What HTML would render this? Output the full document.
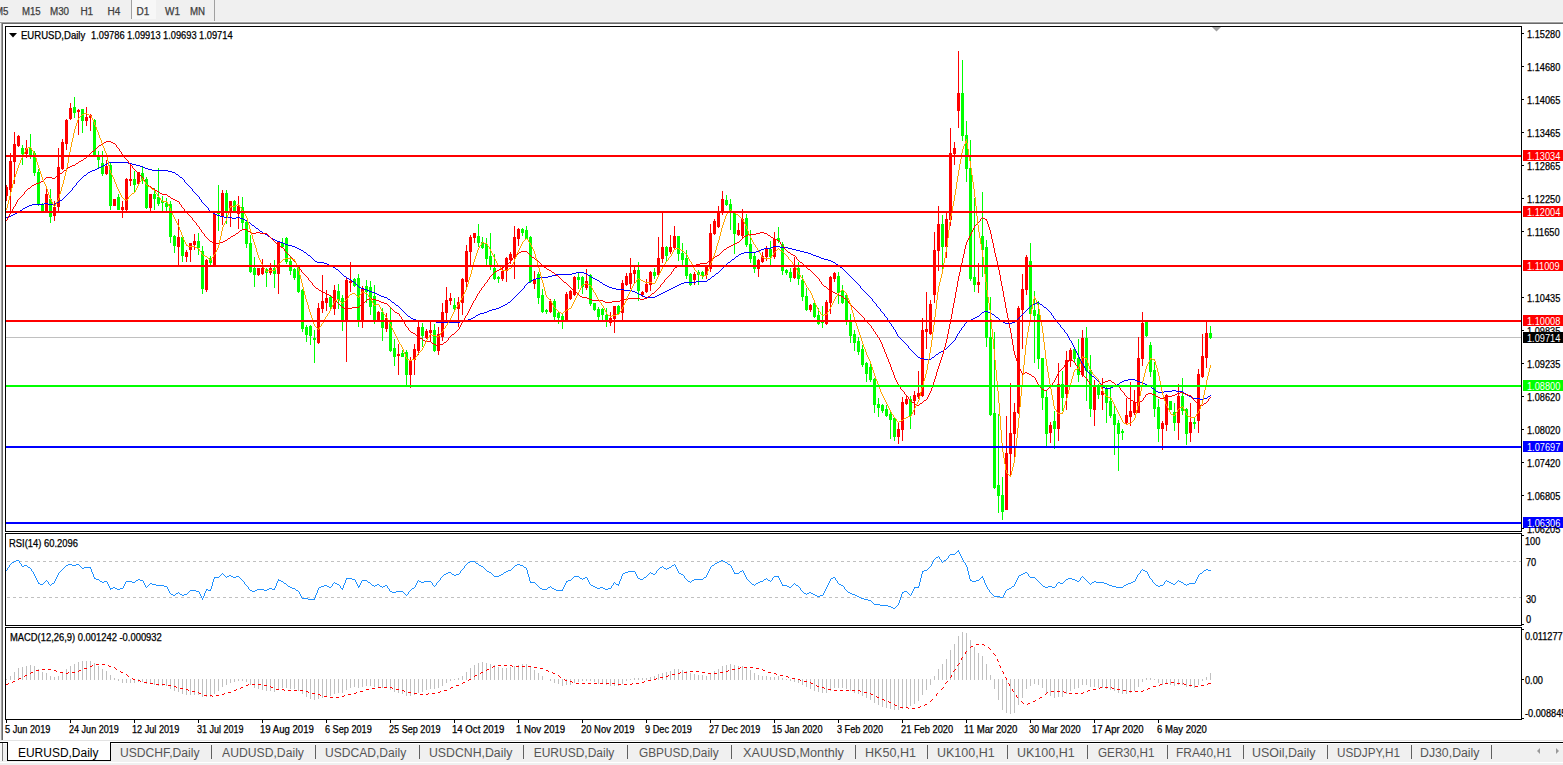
<!DOCTYPE html>
<html><head><meta charset="utf-8"><style>
html,body{margin:0;padding:0;}
body{width:1563px;height:765px;position:relative;overflow:hidden;background:#f0f0f0;font-family:"Liberation Sans",sans-serif;}
.t{position:absolute;white-space:nowrap;line-height:1;transform-origin:0 0;}
.s{-webkit-text-stroke:0.25px currentColor;}
.abs{position:absolute;}
</style></head><body>
<div class="abs" style="left:0;top:0;width:1563px;height:21px;background:#f0f0f0"></div>
<div class="abs" style="left:0;top:21px;width:1563px;height:1px;background:#f8f8f8"></div>
<div class="abs" style="left:131px;top:0;width:1px;height:19px;background:#a0a0a0"></div>
<div class="abs" style="left:132px;top:0;width:24px;height:19px;background:#f7f7f7"></div>
<div class="abs" style="left:214px;top:0;width:1px;height:21px;background:#a0a0a0"></div>
<div class="abs" style="left:0;top:22px;width:1563px;height:1px;background:#a0a0a0"></div>
<div class="abs" style="left:1px;top:23px;width:1563px;height:1px;background:#696969"></div>
<div class="abs" style="left:1px;top:22px;width:1px;height:718px;background:#a0a0a0"></div>
<div class="abs" style="left:2px;top:23px;width:1px;height:717px;background:#696969"></div>
<div class="abs" style="left:3px;top:24px;width:1560px;height:716px;background:#fff"></div>
<div class="abs" style="left:0;top:740px;width:1563px;height:1px;background:#e3e3e3"></div>
<div class="abs" style="left:0;top:741px;width:1563px;height:1px;background:#fff"></div>
<div class="abs" style="left:0;top:742px;width:1563px;height:1px;background:#000"></div>
<div class="abs" style="left:0;top:743px;width:1563px;height:1px;background:#fff"></div>
<div class="abs" style="left:0;top:744px;width:1563px;height:18px;background:#f0f0f0"></div>
<div class="abs" style="left:0;top:762px;width:1563px;height:1px;background:#fff"></div>
<div class="abs" style="left:7px;top:742px;width:104px;height:19px;background:#fff;border-left:1px solid #000;border-right:1px solid #000;border-bottom:1px solid #000;box-sizing:border-box"></div>
<div class="abs" style="left:2px;top:743px;width:1px;height:18px;background:#808080"></div>
<div class="abs" style="left:1px;top:742px;width:6px;height:1px;background:#000"></div>
<div class="abs" style="left:0px;top:743px;width:2px;height:18px;background:#f8f8f8"></div>
<div class="abs" style="left:211px;top:745px;width:1px;height:14px;background:#606060"></div><div class="abs" style="left:315px;top:745px;width:1px;height:14px;background:#606060"></div><div class="abs" style="left:419px;top:745px;width:1px;height:14px;background:#606060"></div><div class="abs" style="left:523px;top:745px;width:1px;height:14px;background:#606060"></div><div class="abs" style="left:627px;top:745px;width:1px;height:14px;background:#606060"></div><div class="abs" style="left:731px;top:745px;width:1px;height:14px;background:#606060"></div><div class="abs" style="left:855px;top:745px;width:1px;height:14px;background:#606060"></div><div class="abs" style="left:927px;top:745px;width:1px;height:14px;background:#606060"></div><div class="abs" style="left:1007px;top:745px;width:1px;height:14px;background:#606060"></div><div class="abs" style="left:1087px;top:745px;width:1px;height:14px;background:#606060"></div><div class="abs" style="left:1167px;top:745px;width:1px;height:14px;background:#606060"></div><div class="abs" style="left:1243px;top:745px;width:1px;height:14px;background:#606060"></div><div class="abs" style="left:1327px;top:745px;width:1px;height:14px;background:#606060"></div><div class="abs" style="left:1411px;top:745px;width:1px;height:14px;background:#606060"></div><div class="abs" style="left:1491px;top:745px;width:1px;height:14px;background:#606060"></div>
<div class="abs" style="left:1537px;top:748px;width:0;height:0;border-top:3px solid transparent;border-bottom:3px solid transparent;border-right:3px solid #999"></div>
<div class="abs" style="left:1556px;top:748px;width:0;height:0;border-top:3px solid transparent;border-bottom:3px solid transparent;border-left:3px solid #999"></div>
<svg class="abs" style="left:0;top:0" width="1563" height="765" viewBox="0 0 1563 765">
<defs><clipPath id="cm"><rect x="6" y="27" width="1515" height="504"/></clipPath><clipPath id="cr"><rect x="6" y="534" width="1515" height="91"/></clipPath><clipPath id="cd"><rect x="6" y="628" width="1515" height="91"/></clipPath></defs>
<rect x="6" y="337" width="1515" height="1" fill="#c0c0c0" shape-rendering="crispEdges"/>
<g clip-path="url(#cm)" shape-rendering="crispEdges">
<path d="M22,145h1v20h-1z M21,148h3v6h-3z M30,134h1v25h-1z M29,148h3v7h-3z M34,151h1v25h-1z M33,153h3v20h-3z M38,169h1v37h-1z M37,172h3v33h-3z M42,203h1v9h-1z M41,204h3v7h-3z M50,189h1v34h-1z M49,199h3v18h-3z M74,97h1v21h-1z M73,107h3v6h-3z M82,109h1v24h-1z M81,109h3v12h-3z M94,119h1v37h-1z M93,120h3v36h-3z M98,151h1v18h-1z M97,155h3v5h-3z M102,151h1v25h-1z M101,163h3v11h-3z M110,163h1v47h-1z M109,165h3v41h-3z M118,194h1v16h-1z M117,197h3v13h-3z M134,171h1v21h-1z M133,179h3v6h-3z M142,166h1v18h-1z M141,173h3v6h-3z M146,177h1v32h-1z M145,179h3v29h-3z M154,188h1v22h-1z M153,194h3v5h-3z M158,168h1v38h-1z M157,197h3v7h-3z M162,196h1v15h-1z M161,201h3v2h-3z M166,198h1v13h-1z M165,203h3v4h-3z M170,201h1v42h-1z M169,204h3v33h-3z M174,235h1v18h-1z M173,236h3v10h-3z M182,237h1v25h-1z M181,237h3v19h-3z M198,233h1v22h-1z M197,241h3v7h-3z M202,246h1v48h-1z M201,251h3v38h-3z M210,256h1v9h-1z M209,258h3v5h-3z M218,185h1v46h-1z M217,211h3v3h-3z M226,190h1v34h-1z M225,193h3v19h-3z M234,200h1v11h-1z M233,201h3v10h-3z M242,197h1v33h-1z M241,207h3v16h-3z M246,221h1v27h-1z M245,222h3v22h-3z M250,235h1v38h-1z M249,243h3v29h-3z M254,257h1v30h-1z M253,268h3v7h-3z M266,268h1v19h-1z M265,269h3v4h-3z M274,260h1v28h-1z M273,268h3v6h-3z M282,238h1v10h-1z M281,243h3v4h-3z M286,237h1v27h-1z M285,238h3v24h-3z M290,256h1v19h-1z M289,261h3v10h-3z M294,268h1v12h-1z M293,269h3v9h-3z M298,267h1v26h-1z M297,268h3v24h-3z M302,289h1v43h-1z M301,290h3v39h-3z M306,325h1v17h-1z M305,327h3v8h-3z M310,325h1v20h-1z M309,326h3v10h-3z M314,330h1v33h-1z M313,338h3v2h-3z M330,295h1v14h-1z M329,297h3v10h-3z M338,284h1v25h-1z M337,291h3v9h-3z M342,295h1v36h-1z M341,298h3v23h-3z M354,278h1v9h-1z M353,279h3v7h-3z M358,274h1v53h-1z M357,278h3v42h-3z M366,280h1v23h-1z M365,286h3v6h-3z M370,281h1v34h-1z M369,287h3v20h-3z M374,285h1v39h-1z M373,296h3v25h-3z M382,308h1v33h-1z M381,312h3v16h-3z M390,308h1v44h-1z M389,321h3v30h-3z M394,339h1v27h-1z M393,348h3v9h-3z M402,350h1v7h-1z M401,353h3v4h-3z M406,350h1v36h-1z M405,352h3v23h-3z M422,323h1v24h-1z M421,327h3v9h-3z M434,324h1v28h-1z M433,330h3v21h-3z M454,298h1v13h-1z M453,305h3v4h-3z M478,224h1v23h-1z M477,236h3v7h-3z M482,237h1v12h-1z M481,242h3v6h-3z M486,238h1v27h-1z M485,244h3v15h-3z M490,233h1v37h-1z M489,256h3v10h-3z M494,254h1v26h-1z M493,268h3v11h-3z M498,276h1v7h-1z M497,277h3v2h-3z M522,228h1v8h-1z M521,229h3v4h-3z M526,226h1v13h-1z M525,230h3v9h-3z M530,236h1v47h-1z M529,237h3v45h-3z M538,272h1v32h-1z M537,274h3v24h-3z M542,289h1v24h-1z M541,295h3v17h-3z M546,309h1v5h-1z M545,310h3v2h-3z M554,299h1v21h-1z M553,301h3v16h-3z M558,312h1v12h-1z M557,313h3v5h-3z M562,314h1v15h-1z M561,316h3v5h-3z M578,273h1v16h-1z M577,277h3v3h-3z M582,276h1v18h-1z M581,277h3v10h-3z M590,274h1v32h-1z M589,275h3v29h-3z M594,303h1v8h-1z M593,303h3v7h-3z M598,307h1v14h-1z M597,309h3v8h-3z M602,308h1v13h-1z M601,309h3v6h-3z M606,308h1v19h-1z M605,315h3v7h-3z M618,305h1v10h-1z M617,306h3v8h-3z M638,262h1v39h-1z M637,270h3v21h-3z M654,268h1v11h-1z M653,272h3v4h-3z M666,246h1v15h-1z M665,247h3v9h-3z M678,236h1v25h-1z M677,236h3v18h-3z M682,243h1v22h-1z M681,253h3v7h-3z M686,250h1v29h-1z M685,258h3v18h-3z M690,273h1v13h-1z M689,274h3v11h-3z M698,270h1v15h-1z M697,272h3v3h-3z M702,271h1v8h-1z M701,272h3v4h-3z M726,195h1v11h-1z M725,200h3v5h-3z M730,199h1v31h-1z M729,204h3v8h-3z M734,212h1v42h-1z M733,213h3v21h-3z M746,214h1v33h-1z M745,218h3v27h-3z M750,230h1v33h-1z M749,244h3v15h-3z M754,253h1v20h-1z M753,256h3v13h-3z M770,241h1v24h-1z M769,249h3v8h-3z M778,227h1v16h-1z M777,238h3v3h-3z M782,242h1v33h-1z M781,244h3v27h-3z M786,269h1v6h-1z M785,270h3v3h-3z M790,268h1v14h-1z M789,272h3v6h-3z M798,262h1v23h-1z M797,268h3v11h-3z M802,275h1v26h-1z M801,280h3v17h-3z M806,288h1v23h-1z M805,296h3v14h-3z M814,300h1v18h-1z M813,303h3v14h-3z M818,308h1v17h-1z M817,315h3v9h-3z M822,306h1v22h-1z M821,320h3v3h-3z M838,272h1v32h-1z M837,276h3v17h-3z M842,285h1v19h-1z M841,291h3v12h-3z M846,294h1v31h-1z M845,295h3v26h-3z M850,314h1v29h-1z M849,320h3v16h-3z M854,330h1v21h-1z M853,334h3v9h-3z M858,337h1v18h-1z M857,341h3v11h-3z M862,345h1v22h-1z M861,349h3v16h-3z M866,362h1v20h-1z M865,363h3v11h-3z M870,362h1v20h-1z M869,367h3v13h-3z M874,378h1v35h-1z M873,379h3v26h-3z M878,398h1v19h-1z M877,404h3v4h-3z M882,404h1v9h-1z M881,405h3v6h-3z M886,405h1v12h-1z M885,409h3v7h-3z M890,410h1v29h-1z M889,414h3v6h-3z M894,417h1v24h-1z M893,418h3v19h-3z M910,396h1v33h-1z M909,399h3v17h-3z M942,215h1v54h-1z M941,224h3v23h-3z M962,60h1v81h-1z M961,93h3v43h-3z M966,121h1v61h-1z M965,135h3v34h-3z M970,140h1v141h-1z M969,168h3v111h-3z M974,198h1v94h-1z M973,277h3v8h-3z M982,192h1v85h-1z M981,236h3v14h-3z M986,240h1v107h-1z M985,247h3v91h-3z M990,297h1v119h-1z M989,337h3v78h-3z M994,332h1v157h-1z M993,413h3v75h-3z M998,414h1v99h-1z M997,485h3v11h-3z M1002,477h1v43h-1z M1001,495h3v17h-3z M1030,243h1v72h-1z M1029,261h3v53h-3z M1034,291h1v72h-1z M1033,310h3v6h-3z M1038,301h1v68h-1z M1037,314h3v45h-3z M1042,358h1v52h-1z M1041,358h3v40h-3z M1046,391h1v55h-1z M1045,397h3v37h-3z M1054,411h1v38h-1z M1053,421h3v8h-3z M1062,371h1v40h-1z M1061,384h3v14h-3z M1074,348h1v14h-1z M1073,349h3v10h-3z M1078,339h1v43h-1z M1077,358h3v17h-3z M1086,327h1v74h-1z M1085,338h3v33h-3z M1090,355h1v62h-1z M1089,370h3v39h-3z M1098,384h1v15h-1z M1097,386h3v9h-3z M1106,386h1v37h-1z M1105,389h3v14h-3z M1110,386h1v32h-1z M1109,401h3v15h-3z M1114,405h1v50h-1z M1113,414h3v11h-3z M1118,420h1v51h-1z M1117,423h3v11h-3z M1122,429h1v11h-1z M1121,431h3v2h-3z M1146,322h1v15h-1z M1145,322h3v14h-3z M1150,342h1v35h-1z M1149,345h3v27h-3z M1154,362h1v55h-1z M1153,370h3v39h-3z M1158,399h1v43h-1z M1157,407h3v22h-3z M1170,401h1v9h-1z M1169,401h3v9h-3z M1174,403h1v28h-1z M1173,412h3v11h-3z M1182,378h1v37h-1z M1181,396h3v15h-3z M1186,408h1v37h-1z M1185,409h3v25h-3z M1194,418h1v11h-1z M1193,422h3v2h-3z M1210,326h1v13h-1z M1209,333h3v5h-3z" fill="#00ff00"/>
<path d="M6,185h1v16h-1z M5,187h3v9h-3z M10,153h1v59h-1z M9,161h3v29h-3z M14,132h1v52h-1z M13,144h3v18h-3z M18,135h1v12h-1z M17,136h3v10h-3z M26,140h1v18h-1z M25,148h3v6h-3z M46,188h1v24h-1z M45,194h3v17h-3z M54,201h1v20h-1z M53,207h3v9h-3z M58,148h1v64h-1z M57,167h3v40h-3z M62,139h1v31h-1z M61,142h3v27h-3z M66,119h1v31h-1z M65,120h3v24h-3z M70,103h1v17h-1z M69,108h3v11h-3z M78,109h1v26h-1z M77,110h3v2h-3z M86,107h1v19h-1z M85,117h3v4h-3z M90,114h1v17h-1z M89,115h3v3h-3z M106,160h1v15h-1z M105,166h3v8h-3z M114,199h1v7h-1z M113,199h3v7h-3z M122,201h1v17h-1z M121,207h3v3h-3z M126,178h1v34h-1z M125,179h3v31h-3z M130,164h1v22h-1z M129,179h3v2h-3z M138,172h1v13h-1z M137,172h3v12h-3z M150,194h1v18h-1z M149,194h3v14h-3z M178,219h1v47h-1z M177,237h3v10h-3z M186,250h1v12h-1z M185,252h3v5h-3z M190,243h1v19h-1z M189,243h3v7h-3z M194,234h1v16h-1z M193,241h3v4h-3z M206,259h1v33h-1z M205,260h3v30h-3z M214,213h1v53h-1z M213,214h3v52h-3z M222,190h1v35h-1z M221,193h3v23h-3z M230,201h1v26h-1z M229,201h3v10h-3z M238,196h1v33h-1z M237,206h3v8h-3z M258,268h1v8h-1z M257,268h3v7h-3z M262,259h1v16h-1z M261,268h3v6h-3z M270,263h1v12h-1z M269,268h3v5h-3z M278,241h1v53h-1z M277,241h3v33h-3z M318,303h1v41h-1z M317,308h3v35h-3z M322,275h1v38h-1z M321,301h3v8h-3z M326,290h1v21h-1z M325,298h3v5h-3z M334,285h1v30h-1z M333,290h3v19h-3z M346,278h1v84h-1z M345,280h3v41h-3z M350,262h1v30h-1z M349,281h3v2h-3z M362,286h1v42h-1z M361,289h3v31h-3z M378,311h1v11h-1z M377,312h3v10h-3z M386,313h1v19h-1z M385,318h3v11h-3z M398,344h1v31h-1z M397,354h3v2h-3z M410,357h1v31h-1z M409,360h3v15h-3z M414,344h1v31h-1z M413,349h3v11h-3z M418,322h1v33h-1z M417,327h3v24h-3z M426,329h1v10h-1z M425,331h3v7h-3z M430,322h1v20h-1z M429,330h3v3h-3z M438,327h1v28h-1z M437,334h3v17h-3z M442,303h1v38h-1z M441,312h3v25h-3z M446,287h1v34h-1z M445,300h3v13h-3z M450,293h1v12h-1z M449,298h3v3h-3z M458,297h1v30h-1z M457,302h3v7h-3z M462,278h1v37h-1z M461,279h3v24h-3z M466,245h1v43h-1z M465,251h3v31h-3z M470,235h1v31h-1z M469,237h3v15h-3z M474,233h1v10h-1z M473,233h3v5h-3z M502,267h1v14h-1z M501,271h3v8h-3z M506,257h1v25h-1z M505,258h3v13h-3z M510,252h1v12h-1z M509,254h3v6h-3z M514,226h1v53h-1z M513,237h3v21h-3z M518,228h1v18h-1z M517,229h3v10h-3z M534,271h1v18h-1z M533,280h3v4h-3z M550,299h1v14h-1z M549,301h3v11h-3z M566,292h1v30h-1z M565,294h3v27h-3z M570,290h1v10h-1z M569,291h3v8h-3z M574,276h1v20h-1z M573,277h3v18h-3z M586,269h1v21h-1z M585,281h3v7h-3z M610,312h1v14h-1z M609,318h3v5h-3z M614,306h1v27h-1z M613,306h3v13h-3z M622,280h1v41h-1z M621,283h3v30h-3z M626,273h1v13h-1z M625,276h3v9h-3z M630,258h1v31h-1z M629,273h3v11h-3z M634,266h1v17h-1z M633,270h3v4h-3z M642,291h1v6h-1z M641,292h3v3h-3z M646,279h1v14h-1z M645,284h3v8h-3z M650,271h1v20h-1z M649,272h3v13h-3z M658,237h1v39h-1z M657,258h3v17h-3z M662,212h1v51h-1z M661,247h3v12h-3z M670,235h1v19h-1z M669,247h3v5h-3z M674,226h1v24h-1z M673,236h3v12h-3z M694,272h1v13h-1z M693,274h3v6h-3z M706,265h1v14h-1z M705,266h3v9h-3z M710,224h1v48h-1z M709,233h3v36h-3z M714,219h1v16h-1z M713,221h3v13h-3z M718,206h1v22h-1z M717,212h3v15h-3z M722,191h1v24h-1z M721,199h3v14h-3z M738,223h1v13h-1z M737,230h3v5h-3z M742,209h1v29h-1z M741,219h3v17h-3z M758,259h1v18h-1z M757,260h3v9h-3z M762,252h1v11h-1z M761,256h3v6h-3z M766,246h1v15h-1z M765,248h3v9h-3z M774,232h1v27h-1z M773,239h3v18h-3z M794,257h1v22h-1z M793,268h3v10h-3z M810,304h1v8h-1z M809,305h3v5h-3z M826,300h1v25h-1z M825,302h3v22h-3z M830,276h1v38h-1z M829,277h3v26h-3z M834,272h1v10h-1z M833,273h3v6h-3z M898,422h1v22h-1z M897,429h3v8h-3z M902,397h1v44h-1z M901,402h3v28h-3z M906,396h1v9h-1z M905,399h3v5h-3z M914,391h1v24h-1z M913,395h3v6h-3z M918,371h1v28h-1z M917,393h3v4h-3z M922,318h1v79h-1z M921,330h3v66h-3z M926,292h1v57h-1z M925,329h3v3h-3z M930,300h1v35h-1z M929,304h3v30h-3z M934,232h1v71h-1z M933,250h3v45h-3z M938,206h1v65h-1z M937,224h3v27h-3z M946,213h1v45h-1z M945,219h3v28h-3z M950,128h1v98h-1z M949,153h3v67h-3z M954,142h1v23h-1z M953,148h3v6h-3z M958,51h1v77h-1z M957,93h3v18h-3z M978,263h1v30h-1z M977,282h3v3h-3z M1006,416h1v94h-1z M1005,453h3v57h-3z M1010,383h1v93h-1z M1009,433h3v21h-3z M1014,403h1v55h-1z M1013,412h3v22h-3z M1018,306h1v108h-1z M1017,308h3v105h-3z M1022,274h1v75h-1z M1021,289h3v21h-3z M1026,255h1v40h-1z M1025,257h3v33h-3z M1050,422h1v21h-1z M1049,425h3v8h-3z M1058,363h1v78h-1z M1057,384h3v45h-3z M1066,351h1v59h-1z M1065,360h3v34h-3z M1070,348h1v19h-1z M1069,350h3v11h-3z M1082,330h1v47h-1z M1081,338h3v37h-3z M1094,380h1v46h-1z M1093,385h3v25h-3z M1102,378h1v32h-1z M1101,391h3v4h-3z M1126,398h1v26h-1z M1125,415h3v8h-3z M1130,382h1v44h-1z M1129,411h3v6h-3z M1134,390h1v25h-1z M1133,402h3v11h-3z M1138,337h1v76h-1z M1137,358h3v55h-3z M1142,312h1v54h-1z M1141,323h3v36h-3z M1162,421h1v29h-1z M1161,423h3v6h-3z M1166,394h1v37h-1z M1165,395h3v30h-3z M1178,384h1v56h-1z M1177,396h3v27h-3z M1190,403h1v39h-1z M1189,422h3v11h-3z M1198,369h1v64h-1z M1197,374h3v47h-3z M1202,334h1v44h-1z M1201,356h3v21h-3z M1206,321h1v47h-1z M1205,333h3v25h-3z" fill="#ff0000"/>
</g>
<g clip-path="url(#cm)">
<path d="M918 357h2v1h-2zM932 357h2v1h-2zM1079 357h1v1h-1zM390 300h1v1h-1zM511 300h1v1h-1zM872 300h1v1h-1zM301 250h2v1h-2zM759 250h2v1h-2zM796 250h4v1h-4zM1156 391h2v1h-2zM1164 391h8v1h-8zM1176 391h7v1h-7zM924 359h7v1h-7zM1080 359h1v1h-1zM252 225h2v1h-2zM6 217h2v1h-2zM224 217h8v1h-8zM236 217h4v1h-4zM436 322h24v1h-24zM889 322h1v1h-1zM966 322h1v1h-1zM1003 322h2v1h-2zM1012 322h3v1h-3zM1057 322h1v1h-1zM329 265h2v1h-2zM725 265h1v1h-1zM838 265h1v1h-1zM364 289h3v1h-3zM522 289h1v1h-1zM616 289h8v1h-8zM669 289h2v1h-2zM862 289h1v1h-1zM405 313h1v1h-1zM480 313h4v1h-4zM883 313h1v1h-1zM981 313h1v1h-1zM991 313h1v1h-1zM1023 313h1v1h-1zM1051 313h1v1h-1zM349 279h2v1h-2zM533 279h3v1h-3zM595 279h2v1h-2zM708 279h2v1h-2zM853 279h1v1h-1zM404 312h1v1h-1zM484 312h3v1h-3zM882 312h1v1h-1zM982 312h2v1h-2zM988 312h3v1h-3zM1024 312h1v1h-1zM1050 312h1v1h-1zM908 346h1v1h-1zM948 346h1v1h-1zM1073 346h1v1h-1zM343 275h1v1h-1zM552 275h4v1h-4zM588 275h2v1h-2zM714 275h1v1h-1zM849 275h1v1h-1zM32 204h12v1h-12zM48 204h7v1h-7zM204 204h1v1h-1zM317 262h7v1h-7zM728 262h2v1h-2zM833 262h2v1h-2zM307 254h1v1h-1zM739 254h2v1h-2zM811 254h2v1h-2zM92 170h3v1h-3zM152 170h16v1h-16zM358 286h1v1h-1zM524 286h1v1h-1zM607 286h2v1h-2zM675 286h2v1h-2zM860 286h1v1h-1zM308 255h2v1h-2zM738 255h1v1h-1zM813 255h3v1h-3zM420 321h8v1h-8zM432 321h4v1h-4zM460 321h4v1h-4zM889 321h1v1h-1zM967 321h2v1h-2zM1002 321h1v1h-1zM1015 321h1v1h-1zM1056 321h1v1h-1zM1101 385h1v1h-1zM1115 385h2v1h-2zM1147 385h2v1h-2zM62 199h1v1h-1zM200 199h1v1h-1zM1100 383h1v1h-1zM1119 383h1v1h-1zM1143 383h2v1h-2zM915 354h1v1h-1zM936 354h2v1h-2zM1077 354h1v1h-1zM396 305h2v1h-2zM503 305h2v1h-2zM876 305h1v1h-1zM1031 305h2v1h-2zM1042 305h1v1h-1zM1102 386h1v1h-1zM1113 386h2v1h-2zM1149 386h2v1h-2zM890 323h1v1h-1zM965 323h1v1h-1zM1005 323h7v1h-7zM1058 323h1v1h-1zM23 208h2v1h-2zM208 208h1v1h-1zM313 259h1v1h-1zM732 259h2v1h-2zM824 259h4v1h-4zM1200 399h4v1h-4zM352 281h2v1h-2zM530 281h1v1h-1zM599 281h1v1h-1zM696 281h11v1h-11zM855 281h1v1h-1zM904 342h1v1h-1zM952 342h1v1h-1zM1071 342h1v1h-1zM74 186h1v1h-1zM189 186h1v1h-1zM905 343h1v1h-1zM951 343h1v1h-1zM1072 343h1v1h-1zM896 332h1v1h-1zM959 332h1v1h-1zM1065 332h1v1h-1zM232 218h4v1h-4zM240 218h3v1h-3zM342 274h1v1h-1zM556 274h16v1h-16zM587 274h1v1h-1zM715 274h1v1h-1zM848 274h1v1h-1zM367 290h2v1h-2zM521 290h1v1h-1zM624 290h8v1h-8zM667 290h2v1h-2zM863 290h1v1h-1zM304 252h2v1h-2zM744 252h12v1h-12zM804 252h4v1h-4zM69 192h1v1h-1zM194 192h1v1h-1zM76 184h1v1h-1zM187 184h1v1h-1zM355 283h1v1h-1zM527 283h1v1h-1zM602 283h1v1h-1zM681 283h3v1h-3zM857 283h1v1h-1zM75 185h1v1h-1zM188 185h1v1h-1zM413 319h3v1h-3zM468 319h3v1h-3zM887 319h1v1h-1zM971 319h2v1h-2zM999 319h1v1h-1zM1017 319h1v1h-1zM1055 319h1v1h-1zM347 278h2v1h-2zM536 278h4v1h-4zM593 278h2v1h-2zM710 278h1v1h-1zM852 278h1v1h-1zM303 251h1v1h-1zM756 251h3v1h-3zM800 251h4v1h-4zM295 247h2v1h-2zM771 247h2v1h-2zM780 247h8v1h-8zM90 171h2v1h-2zM168 171h4v1h-4zM314 260h1v1h-1zM731 260h1v1h-1zM828 260h3v1h-3zM914 353h1v1h-1zM938 353h1v1h-1zM1077 353h1v1h-1zM292 246h3v1h-3zM773 246h7v1h-7zM25 207h2v1h-2zM207 207h1v1h-1zM1158 392h6v1h-6zM1183 392h1v1h-1zM340 272h1v1h-1zM576 272h8v1h-8zM718 272h1v1h-1zM846 272h1v1h-1zM384 297h3v1h-3zM514 297h1v1h-1zM645 297h10v1h-10zM870 297h1v1h-1zM392 302h2v1h-2zM508 302h2v1h-2zM874 302h1v1h-1zM1037 302h2v1h-2zM341 273h1v1h-1zM572 273h4v1h-4zM584 273h3v1h-3zM716 273h2v1h-2zM847 273h1v1h-1zM260 231h2v1h-2zM299 249h2v1h-2zM761 249h3v1h-3zM792 249h4v1h-4zM400 308h1v1h-1zM496 308h3v1h-3zM879 308h1v1h-1zM1028 308h1v1h-1zM1046 308h1v1h-1zM1155 390h1v1h-1zM1172 390h4v1h-4zM406 314h1v1h-1zM478 314h2v1h-2zM884 314h1v1h-1zM980 314h1v1h-1zM992 314h2v1h-2zM1022 314h1v1h-1zM1051 314h1v1h-1zM398 306h1v1h-1zM501 306h2v1h-2zM877 306h1v1h-1zM1030 306h1v1h-1zM1043 306h1v1h-1zM403 311h1v1h-1zM487 311h2v1h-2zM881 311h1v1h-1zM984 311h4v1h-4zM1025 311h1v1h-1zM1049 311h1v1h-1zM109 162h19v1h-19zM13 214h2v1h-2zM215 214h2v1h-2zM107 163h2v1h-2zM128 163h4v1h-4zM297 248h2v1h-2zM764 248h7v1h-7zM788 248h4v1h-4zM346 277h1v1h-1zM540 277h8v1h-8zM591 277h2v1h-2zM711 277h1v1h-1zM851 277h1v1h-1zM402 310h1v1h-1zM489 310h3v1h-3zM880 310h1v1h-1zM1026 310h1v1h-1zM1048 310h1v1h-1zM256 228h2v1h-2zM391 301h1v1h-1zM510 301h1v1h-1zM873 301h1v1h-1zM354 282h1v1h-1zM528 282h2v1h-2zM600 282h2v1h-2zM684 282h12v1h-12zM856 282h1v1h-1zM907 345h1v1h-1zM949 345h1v1h-1zM1073 345h1v1h-1zM335 268h1v1h-1zM722 268h1v1h-1zM842 268h1v1h-1zM910 349h1v1h-1zM944 349h2v1h-2zM1075 349h1v1h-1zM73 187h1v1h-1zM190 187h1v1h-1zM898 336h1v1h-1zM956 336h1v1h-1zM1068 336h1v1h-1zM377 294h2v1h-2zM517 294h1v1h-1zM639 294h2v1h-2zM659 294h2v1h-2zM867 294h1v1h-1zM271 238h2v1h-2zM395 304h1v1h-1zM505 304h2v1h-2zM876 304h1v1h-1zM1033 304h2v1h-2zM1040 304h2v1h-2zM359 287h2v1h-2zM524 287h1v1h-1zM609 287h3v1h-3zM673 287h2v1h-2zM860 287h1v1h-1zM1098 381h1v1h-1zM1122 381h2v1h-2zM1137 381h3v1h-3zM416 320h4v1h-4zM428 320h4v1h-4zM464 320h4v1h-4zM888 320h1v1h-1zM969 320h2v1h-2zM1000 320h2v1h-2zM1016 320h1v1h-1zM1056 320h1v1h-1zM95 169h2v1h-2zM148 169h4v1h-4zM361 288h3v1h-3zM523 288h1v1h-1zM612 288h4v1h-4zM671 288h2v1h-2zM861 288h1v1h-1zM44 203h4v1h-4zM55 203h2v1h-2zM203 203h1v1h-1zM82 177h1v1h-1zM180 177h2v1h-2zM336 269h2v1h-2zM721 269h1v1h-1zM843 269h1v1h-1zM338 270h1v1h-1zM720 270h1v1h-1zM844 270h1v1h-1zM1081 362h1v1h-1zM1084 367h1v1h-1zM59 201h1v1h-1zM201 201h1v1h-1zM312 258h1v1h-1zM734 258h1v1h-1zM821 258h3v1h-3zM315 261h2v1h-2zM730 261h1v1h-1zM831 261h2v1h-2zM103 165h2v1h-2zM136 165h4v1h-4zM97 168h2v1h-2zM145 168h3v1h-3zM101 166h2v1h-2zM140 166h3v1h-3zM909 348h1v1h-1zM946 348h1v1h-1zM1074 348h1v1h-1zM356 284h1v1h-1zM526 284h1v1h-1zM603 284h2v1h-2zM679 284h2v1h-2zM858 284h1v1h-1zM372 292h3v1h-3zM519 292h1v1h-1zM635 292h2v1h-2zM663 292h2v1h-2zM865 292h1v1h-1zM410 317h1v1h-1zM473 317h2v1h-2zM886 317h1v1h-1zM975 317h2v1h-2zM996 317h2v1h-2zM1019 317h1v1h-1zM1053 317h1v1h-1zM411 318h2v1h-2zM471 318h2v1h-2zM887 318h1v1h-1zM973 318h2v1h-2zM998 318h1v1h-1zM1018 318h1v1h-1zM1054 318h1v1h-1zM15 213h2v1h-2zM213 213h2v1h-2zM71 190h1v1h-1zM192 190h1v1h-1zM331 266h2v1h-2zM724 266h1v1h-1zM839 266h1v1h-1zM60 200h2v1h-2zM201 200h1v1h-1zM81 178h1v1h-1zM182 178h1v1h-1zM388 299h2v1h-2zM512 299h1v1h-1zM872 299h1v1h-1zM916 355h1v1h-1zM935 355h1v1h-1zM1078 355h1v1h-1zM408 316h2v1h-2zM475 316h1v1h-1zM885 316h1v1h-1zM977 316h2v1h-2zM995 316h1v1h-1zM1020 316h1v1h-1zM1053 316h1v1h-1zM78 181h1v1h-1zM184 181h1v1h-1zM920 358h4v1h-4zM931 358h1v1h-1zM1079 358h1v1h-1zM901 339h1v1h-1zM955 339h1v1h-1zM1069 339h1v1h-1zM310 256h1v1h-1zM736 256h2v1h-2zM816 256h3v1h-3zM20 210h2v1h-2zM209 210h1v1h-1zM339 271h1v1h-1zM719 271h1v1h-1zM845 271h1v1h-1zM381 296h3v1h-3zM515 296h1v1h-1zM643 296h2v1h-2zM655 296h2v1h-2zM869 296h1v1h-1zM311 257h1v1h-1zM735 257h1v1h-1zM819 257h2v1h-2zM324 263h3v1h-3zM727 263h1v1h-1zM835 263h1v1h-1zM1100 384h1v1h-1zM1117 384h2v1h-2zM1145 384h2v1h-2zM896 333h1v1h-1zM958 333h1v1h-1zM1066 333h1v1h-1zM1103 387h2v1h-2zM1111 387h2v1h-2zM1151 387h1v1h-1zM1083 364h1v1h-1zM1105 388h6v1h-6zM1152 388h2v1h-2zM11 215h2v1h-2zM217 215h3v1h-3zM894 329h1v1h-1zM961 329h1v1h-1zM1063 329h1v1h-1zM357 285h1v1h-1zM525 285h1v1h-1zM605 285h2v1h-2zM677 285h2v1h-2zM859 285h1v1h-1zM1187 395h2v1h-2zM1210 395h1v1h-1zM306 253h1v1h-1zM741 253h3v1h-3zM808 253h3v1h-3zM29 205h3v1h-3zM205 205h1v1h-1zM897 335h1v1h-1zM957 335h1v1h-1zM1067 335h1v1h-1zM1193 398h7v1h-7zM1204 398h3v1h-3zM399 307h1v1h-1zM499 307h2v1h-2zM878 307h1v1h-1zM1029 307h1v1h-1zM1044 307h2v1h-2zM263 233h2v1h-2zM891 324h1v1h-1zM964 324h1v1h-1zM1059 324h1v1h-1zM891 325h1v1h-1zM964 325h1v1h-1zM1060 325h1v1h-1zM903 341h1v1h-1zM953 341h1v1h-1zM1071 341h1v1h-1zM333 267h2v1h-2zM723 267h1v1h-1zM840 267h2v1h-2zM77 182h1v1h-1zM185 182h1v1h-1zM344 276h2v1h-2zM548 276h4v1h-4zM590 276h1v1h-1zM712 276h2v1h-2zM850 276h1v1h-1zM76 183h1v1h-1zM186 183h1v1h-1zM1081 361h1v1h-1zM1084 366h1v1h-1zM327 264h2v1h-2zM726 264h1v1h-1zM836 264h2v1h-2zM17 212h2v1h-2zM211 212h2v1h-2zM379 295h2v1h-2zM516 295h1v1h-1zM641 295h2v1h-2zM657 295h2v1h-2zM868 295h1v1h-1zM375 293h2v1h-2zM518 293h1v1h-1zM637 293h2v1h-2zM661 293h2v1h-2zM866 293h1v1h-1zM1097 380h1v1h-1zM1124 380h4v1h-4zM1135 380h2v1h-2zM72 189h1v1h-1zM192 189h1v1h-1zM67 194h1v1h-1zM196 194h1v1h-1zM351 280h1v1h-1zM531 280h2v1h-2zM597 280h2v1h-2zM707 280h1v1h-1zM854 280h1v1h-1zM394 303h1v1h-1zM507 303h1v1h-1zM875 303h1v1h-1zM1035 303h2v1h-2zM1039 303h1v1h-1zM105 164h2v1h-2zM132 164h4v1h-4zM86 174h1v1h-1zM176 174h2v1h-2zM288 245h4v1h-4zM401 309h1v1h-1zM492 309h4v1h-4zM880 309h1v1h-1zM1027 309h1v1h-1zM1047 309h1v1h-1zM1191 397h2v1h-2zM1207 397h1v1h-1zM897 334h1v1h-1zM957 334h1v1h-1zM1067 334h1v1h-1zM893 327h1v1h-1zM962 327h1v1h-1zM1061 327h1v1h-1zM895 330h1v1h-1zM960 330h1v1h-1zM1064 330h1v1h-1zM906 344h1v1h-1zM950 344h1v1h-1zM1072 344h1v1h-1zM908 347h1v1h-1zM947 347h1v1h-1zM1074 347h1v1h-1zM899 337h1v1h-1zM956 337h1v1h-1zM1068 337h1v1h-1zM1099 382h1v1h-1zM1120 382h2v1h-2zM1140 382h3v1h-3zM1096 379h1v1h-1zM1128 379h7v1h-7zM407 315h1v1h-1zM476 315h2v1h-2zM884 315h1v1h-1zM979 315h1v1h-1zM994 315h1v1h-1zM1021 315h1v1h-1zM1052 315h1v1h-1zM285 244h3v1h-3zM79 180h1v1h-1zM184 180h1v1h-1zM277 241h3v1h-3zM66 195h1v1h-1zM197 195h1v1h-1zM63 198h1v1h-1zM199 198h1v1h-1zM369 291h3v1h-3zM520 291h1v1h-1zM632 291h3v1h-3zM665 291h2v1h-2zM864 291h1v1h-1zM99 167h2v1h-2zM143 167h2v1h-2zM70 191h1v1h-1zM193 191h1v1h-1zM911 350h1v1h-1zM943 350h1v1h-1zM1075 350h1v1h-1zM65 196h1v1h-1zM198 196h1v1h-1zM84 175h2v1h-2zM178 175h1v1h-1zM64 197h1v1h-1zM199 197h1v1h-1zM1154 389h1v1h-1zM1083 365h1v1h-1zM250 223h1v1h-1zM892 326h1v1h-1zM963 326h1v1h-1zM1060 326h1v1h-1zM83 176h1v1h-1zM179 176h1v1h-1zM1085 368h1v1h-1zM917 356h1v1h-1zM934 356h1v1h-1zM1078 356h1v1h-1zM245 220h2v1h-2zM72 188h1v1h-1zM191 188h1v1h-1zM387 298h1v1h-1zM513 298h1v1h-1zM871 298h1v1h-1zM895 331h1v1h-1zM959 331h1v1h-1zM1064 331h1v1h-1zM893 328h1v1h-1zM961 328h1v1h-1zM1062 328h1v1h-1zM8 216h3v1h-3zM220 216h4v1h-4zM913 352h1v1h-1zM939 352h2v1h-2zM1076 352h1v1h-1zM27 206h2v1h-2zM206 206h1v1h-1zM280 242h3v1h-3zM273 239h2v1h-2zM912 351h1v1h-1zM941 351h2v1h-2zM1076 351h1v1h-1zM68 193h1v1h-1zM195 193h1v1h-1zM283 243h2v1h-2zM1094 377h1v1h-1zM262 232h1v1h-1zM1089 373h1v1h-1zM1090 374h1v1h-1zM22 209h1v1h-1zM208 209h1v1h-1zM1186 394h1v1h-1zM1091 375h1v1h-1zM1092 376h2v1h-2zM267 235h1v1h-1zM248 222h2v1h-2zM900 338h1v1h-1zM955 338h1v1h-1zM1069 338h1v1h-1zM88 172h2v1h-2zM172 172h3v1h-3zM57 202h2v1h-2zM202 202h1v1h-1zM902 340h1v1h-1zM954 340h1v1h-1zM1070 340h1v1h-1zM19 211h1v1h-1zM210 211h1v1h-1zM1184 393h2v1h-2zM1085 369h1v1h-1zM1086 370h1v1h-1zM265 234h2v1h-2zM1189 396h2v1h-2zM1208 396h2v1h-2zM1087 371h1v1h-1zM1088 372h1v1h-1zM255 227h1v1h-1zM1095 378h1v1h-1zM268 236h2v1h-2zM251 224h1v1h-1zM270 237h1v1h-1zM243 219h2v1h-2zM247 221h1v1h-1zM87 173h1v1h-1zM175 173h1v1h-1zM275 240h2v1h-2zM1080 360h1v1h-1zM258 229h1v1h-1zM259 230h1v1h-1zM254 226h1v1h-1zM80 179h1v1h-1zM183 179h1v1h-1zM1082 363h1v1h-1z" fill="#0000ff"/>
<path d="M297 265h1v1h-1zM506 265h1v1h-1zM542 265h1v1h-1zM680 265h8v1h-8zM692 265h4v1h-4zM804 265h1v1h-1zM961 265h1v1h-1zM998 265h1v1h-1zM337 302h1v1h-1zM364 302h1v1h-1zM381 302h3v1h-3zM473 302h1v1h-1zM605 302h7v1h-7zM848 302h1v1h-1zM954 302h1v1h-1zM1005 302h1v1h-1zM419 337h1v1h-1zM449 337h1v1h-1zM878 337h1v1h-1zM947 337h1v1h-1zM1011 337h1v1h-1zM281 247h2v1h-2zM727 247h2v1h-2zM784 247h1v1h-1zM965 247h1v1h-1zM993 247h1v1h-1zM342 307h2v1h-2zM352 307h7v1h-7zM390 307h1v1h-1zM470 307h1v1h-1zM853 307h1v1h-1zM953 307h1v1h-1zM1005 307h1v1h-1zM905 394h1v1h-1zM929 394h1v1h-1zM1124 394h1v1h-1zM1146 394h2v1h-2zM1152 394h3v1h-3zM1175 394h2v1h-2zM1185 394h3v1h-3zM344 308h8v1h-8zM391 308h1v1h-1zM470 308h1v1h-1zM854 308h1v1h-1zM952 308h1v1h-1zM1006 308h1v1h-1zM894 377h1v1h-1zM935 377h1v1h-1zM1034 377h1v1h-1zM1056 377h1v1h-1zM1085 377h1v1h-1zM106 141h5v1h-5zM28 188h2v1h-2zM152 188h2v1h-2zM307 277h1v1h-1zM489 277h1v1h-1zM559 277h1v1h-1zM667 277h1v1h-1zM817 277h1v1h-1zM958 277h1v1h-1zM1000 277h1v1h-1zM408 329h1v1h-1zM458 329h1v1h-1zM873 329h1v1h-1zM948 329h1v1h-1zM1010 329h1v1h-1zM333 298h1v1h-1zM369 298h3v1h-3zM475 298h1v1h-1zM587 298h2v1h-2zM628 298h12v1h-12zM644 298h3v1h-3zM844 298h2v1h-2zM954 298h1v1h-1zM1004 298h1v1h-1zM64 170h2v1h-2zM135 170h1v1h-1zM198 226h1v1h-1zM974 226h1v1h-1zM988 226h1v1h-1zM894 376h1v1h-1zM935 376h1v1h-1zM1032 376h2v1h-2zM1056 376h1v1h-1zM1084 376h1v1h-1zM405 325h1v1h-1zM460 325h1v1h-1zM870 325h1v1h-1zM949 325h1v1h-1zM1009 325h1v1h-1zM314 286h1v1h-1zM483 286h1v1h-1zM569 286h1v1h-1zM660 286h1v1h-1zM824 286h2v1h-2zM957 286h1v1h-1zM1002 286h1v1h-1zM334 299h1v1h-1zM367 299h2v1h-2zM372 299h4v1h-4zM475 299h1v1h-1zM589 299h3v1h-3zM624 299h4v1h-4zM640 299h4v1h-4zM846 299h1v1h-1zM954 299h1v1h-1zM1004 299h1v1h-1zM63 171h1v1h-1zM136 171h1v1h-1zM298 266h1v1h-1zM504 266h2v1h-2zM543 266h1v1h-1zM677 266h3v1h-3zM688 266h4v1h-4zM805 266h1v1h-1zM961 266h1v1h-1zM998 266h1v1h-1zM897 382h1v1h-1zM933 382h1v1h-1zM1037 382h1v1h-1zM1053 382h1v1h-1zM1089 382h1v1h-1zM1103 382h2v1h-2zM1112 382h2v1h-2zM897 383h1v1h-1zM933 383h1v1h-1zM1037 383h1v1h-1zM1052 383h1v1h-1zM1089 383h1v1h-1zM1102 383h1v1h-1zM1114 383h1v1h-1zM321 291h2v1h-2zM479 291h1v1h-1zM575 291h1v1h-1zM655 291h1v1h-1zM831 291h2v1h-2zM956 291h1v1h-1zM1003 291h1v1h-1zM886 356h1v1h-1zM942 356h1v1h-1zM1015 356h1v1h-1zM885 352h1v1h-1zM943 352h1v1h-1zM1014 352h1v1h-1zM66 169h1v1h-1zM134 169h1v1h-1zM882 346h1v1h-1zM945 346h1v1h-1zM1013 346h1v1h-1zM90 153h1v1h-1zM121 153h1v1h-1zM288 254h1v1h-1zM516 254h2v1h-2zM529 254h1v1h-1zM719 254h1v1h-1zM791 254h2v1h-2zM963 254h1v1h-1zM995 254h1v1h-1zM890 364h1v1h-1zM939 364h1v1h-1zM1018 364h1v1h-1zM1065 364h1v1h-1zM1075 364h1v1h-1zM341 306h1v1h-1zM359 306h1v1h-1zM389 306h1v1h-1zM471 306h1v1h-1zM852 306h1v1h-1zM953 306h1v1h-1zM1005 306h1v1h-1zM889 363h1v1h-1zM939 363h1v1h-1zM1017 363h1v1h-1zM1066 363h1v1h-1zM1075 363h1v1h-1zM277 244h1v1h-1zM733 244h2v1h-2zM781 244h1v1h-1zM966 244h1v1h-1zM993 244h1v1h-1zM310 281h1v1h-1zM487 281h1v1h-1zM563 281h1v1h-1zM664 281h1v1h-1zM820 281h1v1h-1zM957 281h1v1h-1zM1001 281h1v1h-1zM422 339h1v1h-1zM448 339h1v1h-1zM879 339h1v1h-1zM946 339h1v1h-1zM1012 339h1v1h-1zM16 203h1v1h-1zM179 203h1v1h-1zM202 232h1v1h-1zM238 232h1v1h-1zM250 232h2v1h-2zM256 232h4v1h-4zM760 232h4v1h-4zM971 232h1v1h-1zM990 232h1v1h-1zM299 268h1v1h-1zM501 268h2v1h-2zM546 268h1v1h-1zM674 268h1v1h-1zM807 268h1v1h-1zM960 268h1v1h-1zM998 268h1v1h-1zM15 204h1v1h-1zM180 204h1v1h-1zM284 249h1v1h-1zM724 249h2v1h-2zM785 249h1v1h-1zM964 249h1v1h-1zM994 249h1v1h-1zM904 393h1v1h-1zM929 393h1v1h-1zM1124 393h1v1h-1zM1148 393h4v1h-4zM1177 393h3v1h-3zM1183 393h2v1h-2zM292 258h1v1h-1zM512 258h1v1h-1zM534 258h1v1h-1zM712 258h2v1h-2zM796 258h1v1h-1zM962 258h1v1h-1zM996 258h1v1h-1zM315 287h1v1h-1zM482 287h1v1h-1zM570 287h1v1h-1zM659 287h1v1h-1zM826 287h1v1h-1zM956 287h1v1h-1zM1002 287h1v1h-1zM46 177h6v1h-6zM55 177h1v1h-1zM142 177h1v1h-1zM313 285h1v1h-1zM484 285h1v1h-1zM568 285h1v1h-1zM660 285h1v1h-1zM823 285h1v1h-1zM957 285h1v1h-1zM1001 285h1v1h-1zM399 315h1v1h-1zM466 315h1v1h-1zM861 315h1v1h-1zM951 315h1v1h-1zM1007 315h1v1h-1zM295 262h1v1h-1zM509 262h1v1h-1zM539 262h1v1h-1zM707 262h1v1h-1zM800 262h2v1h-2zM962 262h1v1h-1zM997 262h1v1h-1zM900 388h1v1h-1zM931 388h1v1h-1zM1041 388h1v1h-1zM1048 388h1v1h-1zM1120 388h1v1h-1zM305 275h1v1h-1zM491 275h1v1h-1zM556 275h2v1h-2zM669 275h1v1h-1zM815 275h1v1h-1zM959 275h1v1h-1zM1000 275h1v1h-1zM912 402h2v1h-2zM922 402h1v1h-1zM1135 402h2v1h-2zM1139 402h1v1h-1zM1196 402h1v1h-1zM1206 402h1v1h-1zM212 242h4v1h-4zM220 242h3v1h-3zM275 242h1v1h-1zM737 242h2v1h-2zM780 242h1v1h-1zM966 242h1v1h-1zM992 242h1v1h-1zM299 267h1v1h-1zM503 267h1v1h-1zM544 267h2v1h-2zM675 267h2v1h-2zM806 267h1v1h-1zM960 267h1v1h-1zM998 267h1v1h-1zM319 290h2v1h-2zM480 290h1v1h-1zM574 290h1v1h-1zM656 290h1v1h-1zM830 290h1v1h-1zM956 290h1v1h-1zM1002 290h1v1h-1zM338 303h1v1h-1zM363 303h1v1h-1zM384 303h3v1h-3zM472 303h1v1h-1zM849 303h1v1h-1zM953 303h1v1h-1zM1005 303h1v1h-1zM286 252h1v1h-1zM519 252h2v1h-2zM527 252h1v1h-1zM721 252h1v1h-1zM788 252h2v1h-2zM964 252h1v1h-1zM994 252h1v1h-1zM302 272h1v1h-1zM494 272h1v1h-1zM552 272h2v1h-2zM671 272h1v1h-1zM812 272h1v1h-1zM959 272h1v1h-1zM999 272h1v1h-1zM420 338h2v1h-2zM448 338h1v1h-1zM879 338h1v1h-1zM947 338h1v1h-1zM1011 338h1v1h-1zM287 253h1v1h-1zM518 253h1v1h-1zM528 253h1v1h-1zM720 253h1v1h-1zM790 253h1v1h-1zM964 253h1v1h-1zM995 253h1v1h-1zM201 230h1v1h-1zM240 230h2v1h-2zM247 230h1v1h-1zM972 230h1v1h-1zM990 230h1v1h-1zM203 233h1v1h-1zM236 233h2v1h-2zM252 233h4v1h-4zM260 233h7v1h-7zM756 233h4v1h-4zM764 233h3v1h-3zM971 233h1v1h-1zM990 233h1v1h-1zM413 333h2v1h-2zM454 333h1v1h-1zM875 333h1v1h-1zM948 333h1v1h-1zM1011 333h1v1h-1zM296 264h1v1h-1zM507 264h1v1h-1zM541 264h1v1h-1zM696 264h4v1h-4zM803 264h1v1h-1zM961 264h1v1h-1zM997 264h1v1h-1zM39 182h2v1h-2zM145 182h1v1h-1zM300 269h1v1h-1zM499 269h2v1h-2zM547 269h2v1h-2zM673 269h1v1h-1zM808 269h2v1h-2zM960 269h1v1h-1zM998 269h1v1h-1zM34 184h2v1h-2zM146 184h1v1h-1zM195 222h1v1h-1zM978 222h1v1h-1zM987 222h1v1h-1zM395 312h2v1h-2zM468 312h1v1h-1zM858 312h1v1h-1zM952 312h1v1h-1zM1006 312h1v1h-1zM890 366h1v1h-1zM938 366h1v1h-1zM1018 366h1v1h-1zM1064 366h1v1h-1zM1077 366h1v1h-1zM418 336h1v1h-1zM450 336h1v1h-1zM877 336h1v1h-1zM947 336h1v1h-1zM1011 336h1v1h-1zM7 219h1v1h-1zM192 219h1v1h-1zM980 219h1v1h-1zM985 219h2v1h-2zM17 200h1v1h-1zM175 200h2v1h-2zM911 401h1v1h-1zM923 401h1v1h-1zM1133 401h2v1h-2zM1140 401h2v1h-2zM1195 401h1v1h-1zM1207 401h1v1h-1zM892 371h1v1h-1zM937 371h1v1h-1zM1021 371h1v1h-1zM1059 371h1v1h-1zM1080 371h1v1h-1zM410 331h1v1h-1zM456 331h1v1h-1zM874 331h1v1h-1zM948 331h1v1h-1zM1010 331h1v1h-1zM392 309h1v1h-1zM469 309h1v1h-1zM855 309h1v1h-1zM952 309h1v1h-1zM1006 309h1v1h-1zM197 225h1v1h-1zM975 225h1v1h-1zM988 225h1v1h-1zM411 332h2v1h-2zM455 332h1v1h-1zM875 332h1v1h-1zM948 332h1v1h-1zM1010 332h1v1h-1zM311 282h1v1h-1zM486 282h1v1h-1zM564 282h2v1h-2zM663 282h1v1h-1zM821 282h1v1h-1zM957 282h1v1h-1zM1001 282h1v1h-1zM393 310h1v1h-1zM469 310h1v1h-1zM856 310h1v1h-1zM952 310h1v1h-1zM1006 310h1v1h-1zM336 301h1v1h-1zM365 301h1v1h-1zM379 301h2v1h-2zM473 301h1v1h-1zM603 301h2v1h-2zM612 301h8v1h-8zM848 301h1v1h-1zM954 301h1v1h-1zM1004 301h1v1h-1zM76 163h2v1h-2zM129 163h1v1h-1zM907 396h1v1h-1zM928 396h1v1h-1zM1126 396h1v1h-1zM1145 396h1v1h-1zM1156 396h2v1h-2zM1168 396h4v1h-4zM1191 396h1v1h-1zM917 405h2v1h-2zM1200 405h3v1h-3zM401 318h1v1h-1zM464 318h1v1h-1zM864 318h1v1h-1zM951 318h1v1h-1zM1008 318h1v1h-1zM72 165h3v1h-3zM131 165h1v1h-1zM884 349h1v1h-1zM944 349h1v1h-1zM1013 349h1v1h-1zM431 342h1v1h-1zM444 342h2v1h-2zM881 342h1v1h-1zM946 342h1v1h-1zM1012 342h1v1h-1zM884 350h1v1h-1zM943 350h1v1h-1zM1013 350h1v1h-1zM335 300h1v1h-1zM366 300h1v1h-1zM376 300h3v1h-3zM474 300h1v1h-1zM592 300h11v1h-11zM620 300h4v1h-4zM847 300h1v1h-1zM954 300h1v1h-1zM1004 300h1v1h-1zM884 351h1v1h-1zM943 351h1v1h-1zM1014 351h1v1h-1zM434 344h2v1h-2zM440 344h3v1h-3zM882 344h1v1h-1zM945 344h1v1h-1zM1012 344h1v1h-1zM889 362h1v1h-1zM940 362h1v1h-1zM1017 362h1v1h-1zM1067 362h1v1h-1zM1074 362h1v1h-1zM301 271h1v1h-1zM495 271h2v1h-2zM551 271h1v1h-1zM672 271h1v1h-1zM811 271h1v1h-1zM960 271h1v1h-1zM999 271h1v1h-1zM888 361h1v1h-1zM940 361h1v1h-1zM1017 361h1v1h-1zM1068 361h1v1h-1zM1073 361h1v1h-1zM94 150h1v1h-1zM119 150h1v1h-1zM891 368h1v1h-1zM938 368h1v1h-1zM1019 368h1v1h-1zM1062 368h1v1h-1zM1078 368h1v1h-1zM312 284h1v1h-1zM484 284h1v1h-1zM567 284h1v1h-1zM661 284h1v1h-1zM822 284h1v1h-1zM957 284h1v1h-1zM1001 284h1v1h-1zM6 220h1v1h-1zM193 220h1v1h-1zM980 220h1v1h-1zM986 220h1v1h-1zM903 391h1v1h-1zM930 391h1v1h-1zM1122 391h1v1h-1zM279 246h2v1h-2zM729 246h2v1h-2zM783 246h1v1h-1zM965 246h1v1h-1zM993 246h1v1h-1zM45 178h1v1h-1zM52 178h3v1h-3zM143 178h1v1h-1zM296 263h1v1h-1zM508 263h1v1h-1zM540 263h1v1h-1zM700 263h7v1h-7zM802 263h1v1h-1zM961 263h1v1h-1zM997 263h1v1h-1zM329 295h2v1h-2zM477 295h1v1h-1zM579 295h1v1h-1zM650 295h1v1h-1zM839 295h2v1h-2zM955 295h1v1h-1zM1003 295h1v1h-1zM404 322h1v1h-1zM462 322h1v1h-1zM867 322h1v1h-1zM950 322h1v1h-1zM1008 322h1v1h-1zM206 237h1v1h-1zM230 237h1v1h-1zM270 237h1v1h-1zM743 237h1v1h-1zM771 237h2v1h-2zM969 237h1v1h-1zM991 237h1v1h-1zM207 238h1v1h-1zM228 238h2v1h-2zM271 238h1v1h-1zM742 238h1v1h-1zM773 238h2v1h-2zM968 238h1v1h-1zM991 238h1v1h-1zM893 372h1v1h-1zM936 372h1v1h-1zM1021 372h1v1h-1zM1025 372h2v1h-2zM1058 372h1v1h-1zM1081 372h1v1h-1zM306 276h1v1h-1zM490 276h1v1h-1zM558 276h1v1h-1zM668 276h1v1h-1zM816 276h1v1h-1zM958 276h1v1h-1zM1000 276h1v1h-1zM914 403h1v1h-1zM920 403h2v1h-2zM1137 403h2v1h-2zM1197 403h1v1h-1zM1204 403h2v1h-2zM283 248h1v1h-1zM726 248h1v1h-1zM784 248h1v1h-1zM965 248h1v1h-1zM994 248h1v1h-1zM893 373h1v1h-1zM936 373h1v1h-1zM1022 373h3v1h-3zM1027 373h2v1h-2zM1058 373h1v1h-1zM1081 373h1v1h-1zM83 159h1v1h-1zM126 159h1v1h-1zM304 274h1v1h-1zM492 274h1v1h-1zM555 274h1v1h-1zM670 274h1v1h-1zM814 274h1v1h-1zM959 274h1v1h-1zM999 274h1v1h-1zM902 390h1v1h-1zM931 390h1v1h-1zM1044 390h3v1h-3zM1121 390h1v1h-1zM405 324h1v1h-1zM461 324h1v1h-1zM869 324h1v1h-1zM949 324h1v1h-1zM1009 324h1v1h-1zM332 297h1v1h-1zM476 297h1v1h-1zM582 297h5v1h-5zM647 297h1v1h-1zM843 297h1v1h-1zM955 297h1v1h-1zM1004 297h1v1h-1zM308 278h1v1h-1zM489 278h1v1h-1zM560 278h1v1h-1zM666 278h1v1h-1zM818 278h1v1h-1zM958 278h1v1h-1zM1000 278h1v1h-1zM394 311h1v1h-1zM468 311h1v1h-1zM857 311h1v1h-1zM952 311h1v1h-1zM1006 311h1v1h-1zM204 235h1v1h-1zM233 235h2v1h-2zM268 235h1v1h-1zM746 235h2v1h-2zM768 235h2v1h-2zM970 235h1v1h-1zM991 235h1v1h-1zM325 293h2v1h-2zM478 293h1v1h-1zM577 293h1v1h-1zM652 293h2v1h-2zM835 293h2v1h-2zM955 293h1v1h-1zM1003 293h1v1h-1zM301 270h1v1h-1zM497 270h2v1h-2zM549 270h2v1h-2zM673 270h1v1h-1zM810 270h1v1h-1zM960 270h1v1h-1zM999 270h1v1h-1zM898 385h1v1h-1zM932 385h1v1h-1zM1039 385h1v1h-1zM1051 385h1v1h-1zM1091 385h2v1h-2zM1099 385h1v1h-1zM1116 385h2v1h-2zM908 398h1v1h-1zM927 398h1v1h-1zM1128 398h2v1h-2zM1143 398h1v1h-1zM1160 398h4v1h-4zM1192 398h1v1h-1zM1209 398h1v1h-1zM205 236h1v1h-1zM231 236h2v1h-2zM269 236h1v1h-1zM744 236h2v1h-2zM770 236h1v1h-1zM969 236h1v1h-1zM991 236h1v1h-1zM294 261h1v1h-1zM510 261h1v1h-1zM538 261h1v1h-1zM708 261h2v1h-2zM799 261h1v1h-1zM962 261h1v1h-1zM997 261h1v1h-1zM292 259h1v1h-1zM512 259h1v1h-1zM535 259h1v1h-1zM711 259h1v1h-1zM797 259h1v1h-1zM962 259h1v1h-1zM996 259h1v1h-1zM309 280h1v1h-1zM487 280h1v1h-1zM562 280h1v1h-1zM664 280h1v1h-1zM819 280h1v1h-1zM958 280h1v1h-1zM1000 280h1v1h-1zM97 147h1v1h-1zM117 147h1v1h-1zM303 273h1v1h-1zM493 273h1v1h-1zM554 273h1v1h-1zM671 273h1v1h-1zM813 273h1v1h-1zM959 273h1v1h-1zM999 273h1v1h-1zM415 334h1v1h-1zM452 334h2v1h-2zM876 334h1v1h-1zM947 334h1v1h-1zM1011 334h1v1h-1zM19 198h1v1h-1zM171 198h2v1h-2zM12 209h1v1h-1zM184 209h1v1h-1zM893 374h1v1h-1zM936 374h1v1h-1zM1022 374h1v1h-1zM1029 374h2v1h-2zM1057 374h1v1h-1zM1082 374h1v1h-1zM18 199h1v1h-1zM173 199h2v1h-2zM906 395h1v1h-1zM928 395h1v1h-1zM1125 395h1v1h-1zM1145 395h1v1h-1zM1155 395h1v1h-1zM1172 395h3v1h-3zM1188 395h3v1h-3zM293 260h1v1h-1zM511 260h1v1h-1zM536 260h2v1h-2zM710 260h1v1h-1zM798 260h1v1h-1zM962 260h1v1h-1zM996 260h1v1h-1zM895 378h1v1h-1zM935 378h1v1h-1zM1035 378h1v1h-1zM1055 378h1v1h-1zM1086 378h1v1h-1zM316 288h2v1h-2zM481 288h1v1h-1zM571 288h1v1h-1zM658 288h1v1h-1zM827 288h1v1h-1zM956 288h1v1h-1zM1002 288h1v1h-1zM98 146h1v1h-1zM116 146h1v1h-1zM896 381h1v1h-1zM934 381h1v1h-1zM1036 381h1v1h-1zM1054 381h1v1h-1zM1088 381h1v1h-1zM1105 381h3v1h-3zM1111 381h1v1h-1zM888 360h1v1h-1zM940 360h1v1h-1zM1016 360h1v1h-1zM1068 360h1v1h-1zM1072 360h1v1h-1zM409 330h1v1h-1zM457 330h1v1h-1zM873 330h1v1h-1zM948 330h1v1h-1zM1010 330h1v1h-1zM89 154h1v1h-1zM122 154h1v1h-1zM284 250h1v1h-1zM723 250h1v1h-1zM786 250h1v1h-1zM964 250h1v1h-1zM994 250h1v1h-1zM209 240h1v1h-1zM225 240h2v1h-2zM273 240h1v1h-1zM740 240h1v1h-1zM777 240h2v1h-2zM967 240h1v1h-1zM992 240h1v1h-1zM886 354h1v1h-1zM942 354h1v1h-1zM1014 354h1v1h-1zM892 370h1v1h-1zM937 370h1v1h-1zM1020 370h1v1h-1zM1060 370h1v1h-1zM1079 370h1v1h-1zM11 212h1v1h-1zM186 212h1v1h-1zM404 323h1v1h-1zM461 323h1v1h-1zM868 323h1v1h-1zM950 323h1v1h-1zM1009 323h1v1h-1zM60 173h2v1h-2zM138 173h1v1h-1zM285 251h1v1h-1zM521 251h6v1h-6zM722 251h1v1h-1zM787 251h1v1h-1zM964 251h1v1h-1zM994 251h1v1h-1zM216 243h4v1h-4zM276 243h1v1h-1zM735 243h2v1h-2zM780 243h1v1h-1zM966 243h1v1h-1zM993 243h1v1h-1zM401 317h1v1h-1zM465 317h1v1h-1zM863 317h1v1h-1zM951 317h1v1h-1zM1007 317h1v1h-1zM896 380h1v1h-1zM934 380h1v1h-1zM1036 380h1v1h-1zM1054 380h1v1h-1zM1087 380h1v1h-1zM1108 380h3v1h-3zM899 386h1v1h-1zM932 386h1v1h-1zM1040 386h1v1h-1zM1050 386h1v1h-1zM1093 386h6v1h-6zM1118 386h1v1h-1zM898 384h1v1h-1zM933 384h1v1h-1zM1038 384h1v1h-1zM1052 384h1v1h-1zM1090 384h1v1h-1zM1100 384h2v1h-2zM1115 384h1v1h-1zM204 234h1v1h-1zM235 234h1v1h-1zM267 234h1v1h-1zM748 234h8v1h-8zM767 234h1v1h-1zM970 234h1v1h-1zM991 234h1v1h-1zM7 218h1v1h-1zM192 218h1v1h-1zM981 218h1v1h-1zM983 218h2v1h-2zM95 149h1v1h-1zM119 149h1v1h-1zM425 341h6v1h-6zM446 341h1v1h-1zM880 341h1v1h-1zM946 341h1v1h-1zM1012 341h1v1h-1zM58 175h1v1h-1zM140 175h1v1h-1zM104 142h2v1h-2zM111 142h2v1h-2zM88 155h1v1h-1zM123 155h1v1h-1zM416 335h2v1h-2zM451 335h1v1h-1zM877 335h1v1h-1zM947 335h1v1h-1zM1011 335h1v1h-1zM402 319h1v1h-1zM464 319h1v1h-1zM864 319h1v1h-1zM950 319h1v1h-1zM1008 319h1v1h-1zM399 314h1v1h-1zM467 314h1v1h-1zM860 314h1v1h-1zM951 314h1v1h-1zM1007 314h1v1h-1zM210 241h2v1h-2zM223 241h2v1h-2zM274 241h1v1h-1zM739 241h1v1h-1zM779 241h1v1h-1zM967 241h1v1h-1zM992 241h1v1h-1zM17 201h1v1h-1zM177 201h2v1h-2zM891 367h1v1h-1zM938 367h1v1h-1zM1019 367h1v1h-1zM1063 367h1v1h-1zM1077 367h1v1h-1zM894 375h1v1h-1zM936 375h1v1h-1zM1031 375h1v1h-1zM1057 375h1v1h-1zM1083 375h1v1h-1zM56 176h2v1h-2zM141 176h1v1h-1zM910 400h1v1h-1zM924 400h2v1h-2zM1131 400h2v1h-2zM1142 400h1v1h-1zM1194 400h1v1h-1zM1208 400h1v1h-1zM312 283h1v1h-1zM485 283h1v1h-1zM566 283h1v1h-1zM662 283h1v1h-1zM821 283h1v1h-1zM957 283h1v1h-1zM1001 283h1v1h-1zM41 181h2v1h-2zM144 181h1v1h-1zM423 340h2v1h-2zM447 340h1v1h-1zM880 340h1v1h-1zM946 340h1v1h-1zM1012 340h1v1h-1zM323 292h2v1h-2zM479 292h1v1h-1zM576 292h1v1h-1zM654 292h1v1h-1zM833 292h2v1h-2zM955 292h1v1h-1zM1003 292h1v1h-1zM91 152h1v1h-1zM121 152h1v1h-1zM199 227h1v1h-1zM974 227h1v1h-1zM989 227h1v1h-1zM84 158h2v1h-2zM125 158h1v1h-1zM23 194h1v1h-1zM162 194h5v1h-5zM308 279h1v1h-1zM488 279h1v1h-1zM561 279h1v1h-1zM665 279h1v1h-1zM819 279h1v1h-1zM958 279h1v1h-1zM1000 279h1v1h-1zM25 191h1v1h-1zM157 191h2v1h-2zM406 326h1v1h-1zM460 326h1v1h-1zM871 326h1v1h-1zM949 326h1v1h-1zM1009 326h1v1h-1zM199 228h1v1h-1zM973 228h1v1h-1zM989 228h1v1h-1zM318 289h1v1h-1zM481 289h1v1h-1zM572 289h2v1h-2zM657 289h1v1h-1zM828 289h2v1h-2zM956 289h1v1h-1zM1002 289h1v1h-1zM331 296h1v1h-1zM476 296h1v1h-1zM580 296h2v1h-2zM648 296h2v1h-2zM841 296h2v1h-2zM955 296h1v1h-1zM1003 296h1v1h-1zM36 183h3v1h-3zM145 183h1v1h-1zM890 365h1v1h-1zM939 365h1v1h-1zM1018 365h1v1h-1zM1064 365h1v1h-1zM1076 365h1v1h-1zM895 379h1v1h-1zM934 379h1v1h-1zM1035 379h1v1h-1zM1055 379h1v1h-1zM1087 379h1v1h-1zM289 255h1v1h-1zM515 255h1v1h-1zM530 255h1v1h-1zM717 255h2v1h-2zM793 255h2v1h-2zM963 255h1v1h-1zM995 255h1v1h-1zM9 215h1v1h-1zM189 215h1v1h-1zM901 389h1v1h-1zM931 389h1v1h-1zM1042 389h2v1h-2zM1047 389h1v1h-1zM1120 389h1v1h-1zM908 397h1v1h-1zM927 397h1v1h-1zM1127 397h1v1h-1zM1144 397h1v1h-1zM1158 397h2v1h-2zM1164 397h4v1h-4zM1192 397h1v1h-1zM1210 397h1v1h-1zM201 231h1v1h-1zM239 231h1v1h-1zM248 231h2v1h-2zM972 231h1v1h-1zM990 231h1v1h-1zM904 392h1v1h-1zM930 392h1v1h-1zM1123 392h1v1h-1zM1180 392h3v1h-3zM70 166h2v1h-2zM132 166h1v1h-1zM196 224h1v1h-1zM976 224h1v1h-1zM988 224h1v1h-1zM81 160h2v1h-2zM127 160h1v1h-1zM24 193h1v1h-1zM160 193h2v1h-2zM397 313h2v1h-2zM467 313h1v1h-1zM859 313h1v1h-1zM952 313h1v1h-1zM1007 313h1v1h-1zM915 404h2v1h-2zM919 404h1v1h-1zM1198 404h2v1h-2zM1203 404h1v1h-1zM891 369h1v1h-1zM937 369h1v1h-1zM1020 369h1v1h-1zM1061 369h1v1h-1zM1079 369h1v1h-1zM13 207h1v1h-1zM182 207h1v1h-1zM43 180h1v1h-1zM144 180h1v1h-1zM27 189h1v1h-1zM154 189h1v1h-1zM900 387h1v1h-1zM932 387h1v1h-1zM1040 387h1v1h-1zM1049 387h1v1h-1zM1119 387h1v1h-1zM400 316h1v1h-1zM465 316h1v1h-1zM862 316h1v1h-1zM951 316h1v1h-1zM1007 316h1v1h-1zM26 190h1v1h-1zM155 190h2v1h-2zM22 195h1v1h-1zM167 195h1v1h-1zM403 321h1v1h-1zM463 321h1v1h-1zM866 321h1v1h-1zM950 321h1v1h-1zM1008 321h1v1h-1zM432 343h2v1h-2zM443 343h1v1h-1zM881 343h1v1h-1zM945 343h1v1h-1zM1012 343h1v1h-1zM887 357h1v1h-1zM941 357h1v1h-1zM1015 357h1v1h-1zM887 358h1v1h-1zM941 358h1v1h-1zM1016 358h1v1h-1zM1070 358h1v1h-1zM888 359h1v1h-1zM941 359h1v1h-1zM1016 359h1v1h-1zM1069 359h1v1h-1zM1071 359h1v1h-1zM15 205h1v1h-1zM181 205h1v1h-1zM208 239h1v1h-1zM227 239h1v1h-1zM272 239h1v1h-1zM741 239h1v1h-1zM775 239h2v1h-2zM968 239h1v1h-1zM992 239h1v1h-1zM278 245h1v1h-1zM731 245h2v1h-2zM782 245h1v1h-1zM965 245h1v1h-1zM993 245h1v1h-1zM96 148h1v1h-1zM118 148h1v1h-1zM87 156h1v1h-1zM124 156h1v1h-1zM32 185h2v1h-2zM147 185h2v1h-2zM200 229h1v1h-1zM242 229h5v1h-5zM973 229h1v1h-1zM989 229h1v1h-1zM12 210h1v1h-1zM184 210h1v1h-1zM9 214h1v1h-1zM188 214h1v1h-1zM403 320h1v1h-1zM463 320h1v1h-1zM865 320h1v1h-1zM950 320h1v1h-1zM1008 320h1v1h-1zM436 345h4v1h-4zM882 345h1v1h-1zM945 345h1v1h-1zM1013 345h1v1h-1zM886 355h1v1h-1zM942 355h1v1h-1zM1015 355h1v1h-1zM21 196h1v1h-1zM168 196h2v1h-2zM339 304h1v1h-1zM362 304h1v1h-1zM387 304h1v1h-1zM472 304h1v1h-1zM850 304h1v1h-1zM953 304h1v1h-1zM1005 304h1v1h-1zM291 257h1v1h-1zM513 257h1v1h-1zM532 257h2v1h-2zM714 257h1v1h-1zM796 257h1v1h-1zM963 257h1v1h-1zM996 257h1v1h-1zM86 157h1v1h-1zM124 157h1v1h-1zM31 186h1v1h-1zM149 186h2v1h-2zM78 162h1v1h-1zM128 162h1v1h-1zM62 172h1v1h-1zM137 172h1v1h-1zM79 161h2v1h-2zM128 161h1v1h-1zM327 294h2v1h-2zM477 294h1v1h-1zM578 294h1v1h-1zM651 294h1v1h-1zM837 294h2v1h-2zM955 294h1v1h-1zM1003 294h1v1h-1zM408 328h1v1h-1zM459 328h1v1h-1zM872 328h1v1h-1zM949 328h1v1h-1zM1010 328h1v1h-1zM14 206h1v1h-1zM181 206h1v1h-1zM407 327h1v1h-1zM459 327h1v1h-1zM871 327h1v1h-1zM949 327h1v1h-1zM1009 327h1v1h-1zM10 213h1v1h-1zM187 213h1v1h-1zM68 167h2v1h-2zM132 167h1v1h-1zM290 256h1v1h-1zM514 256h1v1h-1zM531 256h1v1h-1zM715 256h2v1h-2zM795 256h1v1h-1zM963 256h1v1h-1zM995 256h1v1h-1zM103 143h1v1h-1zM113 143h2v1h-2zM44 179h1v1h-1zM143 179h1v1h-1zM340 305h1v1h-1zM360 305h2v1h-2zM388 305h1v1h-1zM471 305h1v1h-1zM851 305h1v1h-1zM953 305h1v1h-1zM1005 305h1v1h-1zM101 144h2v1h-2zM115 144h1v1h-1zM20 197h1v1h-1zM170 197h1v1h-1zM885 353h1v1h-1zM943 353h1v1h-1zM1014 353h1v1h-1zM24 192h1v1h-1zM159 192h1v1h-1zM30 187h1v1h-1zM151 187h1v1h-1zM92 151h2v1h-2zM120 151h1v1h-1zM194 221h1v1h-1zM979 221h1v1h-1zM987 221h1v1h-1zM11 211h1v1h-1zM185 211h1v1h-1zM8 217h1v1h-1zM191 217h1v1h-1zM982 217h1v1h-1zM909 399h1v1h-1zM926 399h1v1h-1zM1130 399h1v1h-1zM1143 399h1v1h-1zM1193 399h1v1h-1zM1208 399h1v1h-1zM13 208h1v1h-1zM183 208h1v1h-1zM75 164h1v1h-1zM130 164h1v1h-1zM883 347h1v1h-1zM944 347h1v1h-1zM1013 347h1v1h-1zM196 223h1v1h-1zM977 223h1v1h-1zM987 223h1v1h-1zM883 348h1v1h-1zM944 348h1v1h-1zM1013 348h1v1h-1zM16 202h1v1h-1zM179 202h1v1h-1zM8 216h1v1h-1zM190 216h1v1h-1zM99 145h2v1h-2zM116 145h1v1h-1zM59 174h1v1h-1zM139 174h1v1h-1zM67 168h1v1h-1zM133 168h1v1h-1z" fill="#ff0000"/>
<path d="M405 355h1v1h-1zM417 355h1v1h-1zM867 355h1v1h-1zM929 355h1v1h-1zM994 355h1v1h-1zM1024 355h1v1h-1zM1045 355h1v1h-1zM264 268h1v1h-1zM275 268h1v1h-1zM298 268h1v1h-1zM472 268h1v1h-1zM500 268h1v1h-1zM509 268h2v1h-2zM539 268h1v1h-1zM662 268h1v1h-1zM694 268h1v1h-1zM709 268h1v1h-1zM796 268h1v1h-1zM943 268h1v1h-1zM984 268h1v1h-1zM881 392h1v1h-1zM920 392h1v1h-1zM998 392h1v1h-1zM1021 392h1v1h-1zM1051 392h1v1h-1zM1068 392h1v1h-1zM1103 392h1v1h-1zM1140 392h1v1h-1zM1162 392h1v1h-1zM1204 392h1v1h-1zM303 289h1v1h-1zM466 289h1v1h-1zM544 289h1v1h-1zM580 289h1v1h-1zM592 289h1v1h-1zM631 289h1v1h-1zM808 289h1v1h-1zM842 289h1v1h-1zM938 289h1v1h-1zM986 289h1v1h-1zM312 318h1v1h-1zM325 318h1v1h-1zM387 318h1v1h-1zM450 318h1v1h-1zM854 318h1v1h-1zM934 318h1v1h-1zM990 318h1v1h-1zM1030 318h1v1h-1zM1040 318h1v1h-1zM303 288h1v1h-1zM466 288h1v1h-1zM544 288h1v1h-1zM580 288h1v1h-1zM592 288h1v1h-1zM631 288h1v1h-1zM808 288h1v1h-1zM938 288h1v1h-1zM986 288h1v1h-1zM1004 462h1v1h-1zM1014 462h1v1h-1zM875 378h1v1h-1zM924 378h1v1h-1zM996 378h1v1h-1zM1022 378h1v1h-1zM1049 378h1v1h-1zM1072 378h1v1h-1zM1097 378h1v1h-1zM1143 378h1v1h-1zM1159 378h1v1h-1zM1207 378h1v1h-1zM872 367h1v1h-1zM927 367h1v1h-1zM995 367h1v1h-1zM1023 367h1v1h-1zM1047 367h1v1h-1zM1078 367h1v1h-1zM1089 367h1v1h-1zM1146 367h1v1h-1zM1156 367h1v1h-1zM1210 367h1v1h-1zM185 242h1v1h-1zM219 242h1v1h-1zM254 242h1v1h-1zM482 242h2v1h-2zM522 242h1v1h-1zM529 242h1v1h-1zM718 242h1v1h-1zM753 242h1v1h-1zM947 242h1v1h-1zM980 242h1v1h-1zM870 363h1v1h-1zM928 363h1v1h-1zM995 363h1v1h-1zM1024 363h1v1h-1zM1046 363h1v1h-1zM1080 363h1v1h-1zM1088 363h1v1h-1zM1148 363h1v1h-1zM1155 363h1v1h-1zM304 292h1v1h-1zM361 292h1v1h-1zM363 292h2v1h-2zM464 292h1v1h-1zM545 292h1v1h-1zM578 292h1v1h-1zM594 292h1v1h-1zM629 292h1v1h-1zM810 292h1v1h-1zM839 292h1v1h-1zM845 292h1v1h-1zM937 292h1v1h-1zM987 292h1v1h-1zM882 395h1v1h-1zM920 395h1v1h-1zM998 395h1v1h-1zM1021 395h1v1h-1zM1052 395h1v1h-1zM1067 395h1v1h-1zM1105 395h1v1h-1zM1140 395h1v1h-1zM1163 395h1v1h-1zM1203 395h1v1h-1zM314 325h1v1h-1zM321 325h1v1h-1zM390 325h1v1h-1zM446 325h1v1h-1zM856 325h1v1h-1zM933 325h1v1h-1zM991 325h1v1h-1zM1029 325h1v1h-1zM1041 325h1v1h-1zM1001 437h1v1h-1zM1017 437h1v1h-1zM313 321h1v1h-1zM323 321h1v1h-1zM388 321h1v1h-1zM449 321h1v1h-1zM855 321h1v1h-1zM934 321h1v1h-1zM991 321h1v1h-1zM1029 321h1v1h-1zM1041 321h1v1h-1zM872 368h1v1h-1zM927 368h1v1h-1zM995 368h1v1h-1zM1023 368h1v1h-1zM1047 368h1v1h-1zM1077 368h2v1h-2zM1089 368h1v1h-1zM1146 368h1v1h-1zM1157 368h1v1h-1zM1209 368h1v1h-1zM407 359h2v1h-2zM412 359h3v1h-3zM869 359h1v1h-1zM928 359h1v1h-1zM994 359h1v1h-1zM1024 359h1v1h-1zM1046 359h1v1h-1zM1081 359h1v1h-1zM1086 359h1v1h-1zM1150 359h1v1h-1zM1152 359h3v1h-3zM310 313h1v1h-1zM328 313h1v1h-1zM383 313h1v1h-1zM453 313h1v1h-1zM561 313h2v1h-2zM606 313h1v1h-1zM619 313h1v1h-1zM820 313h1v1h-1zM827 313h1v1h-1zM853 313h1v1h-1zM935 313h1v1h-1zM990 313h1v1h-1zM1031 313h1v1h-1zM1039 313h1v1h-1zM7 205h1v1h-1zM53 205h1v1h-1zM55 205h1v1h-1zM168 205h1v1h-1zM235 205h2v1h-2zM239 205h1v1h-1zM953 205h1v1h-1zM975 205h1v1h-1zM883 396h1v1h-1zM919 396h1v1h-1zM998 396h1v1h-1zM1020 396h1v1h-1zM1052 396h1v1h-1zM1067 396h1v1h-1zM1106 396h2v1h-2zM1139 396h1v1h-1zM1163 396h1v1h-1zM1203 396h1v1h-1zM401 345h1v1h-1zM424 345h1v1h-1zM863 345h1v1h-1zM931 345h1v1h-1zM993 345h1v1h-1zM1025 345h1v1h-1zM1044 345h1v1h-1zM310 312h1v1h-1zM329 312h1v1h-1zM383 312h1v1h-1zM453 312h1v1h-1zM559 312h2v1h-2zM563 312h1v1h-1zM606 312h1v1h-1zM619 312h1v1h-1zM820 312h1v1h-1zM827 312h1v1h-1zM852 312h1v1h-1zM935 312h1v1h-1zM990 312h1v1h-1zM1031 312h1v1h-1zM1039 312h1v1h-1zM884 399h1v1h-1zM919 399h1v1h-1zM998 399h1v1h-1zM1020 399h1v1h-1zM1052 399h1v1h-1zM1066 399h1v1h-1zM1111 399h1v1h-1zM1139 399h1v1h-1zM1164 399h1v1h-1zM1203 399h1v1h-1zM186 244h1v1h-1zM219 244h1v1h-1zM254 244h1v1h-1zM481 244h1v1h-1zM487 244h1v1h-1zM521 244h1v1h-1zM530 244h1v1h-1zM717 244h1v1h-1zM754 244h1v1h-1zM947 244h1v1h-1zM981 244h1v1h-1zM887 405h1v1h-1zM916 405h1v1h-1zM999 405h1v1h-1zM1020 405h1v1h-1zM1053 405h1v1h-1zM1064 405h1v1h-1zM1114 405h1v1h-1zM1138 405h1v1h-1zM1166 405h1v1h-1zM1201 405h1v1h-1zM875 377h1v1h-1zM925 377h1v1h-1zM996 377h1v1h-1zM1022 377h1v1h-1zM1048 377h1v1h-1zM1072 377h1v1h-1zM1096 377h1v1h-1zM1143 377h1v1h-1zM1159 377h1v1h-1zM1207 377h1v1h-1zM13 182h1v1h-1zM44 182h1v1h-1zM63 182h1v1h-1zM115 182h1v1h-1zM139 182h1v1h-1zM145 182h1v1h-1zM956 182h1v1h-1zM973 182h1v1h-1zM208 258h1v1h-1zM211 258h1v1h-1zM259 258h1v1h-1zM285 258h7v1h-7zM475 258h1v1h-1zM494 258h1v1h-1zM515 258h1v1h-1zM536 258h1v1h-1zM668 258h1v1h-1zM688 258h1v1h-1zM712 258h1v1h-1zM764 258h7v1h-7zM788 258h1v1h-1zM944 258h1v1h-1zM983 258h1v1h-1zM393 330h1v1h-1zM443 330h1v1h-1zM858 330h1v1h-1zM933 330h1v1h-1zM992 330h1v1h-1zM1028 330h1v1h-1zM1042 330h1v1h-1zM395 334h1v1h-1zM430 334h2v1h-2zM440 334h1v1h-1zM859 334h1v1h-1zM932 334h1v1h-1zM992 334h1v1h-1zM1027 334h1v1h-1zM1043 334h1v1h-1zM14 178h1v1h-1zM42 178h1v1h-1zM64 178h1v1h-1zM113 178h1v1h-1zM142 178h1v1h-1zM957 178h1v1h-1zM972 178h1v1h-1zM889 409h1v1h-1zM914 409h1v1h-1zM999 409h1v1h-1zM1019 409h1v1h-1zM1055 409h1v1h-1zM1063 409h1v1h-1zM1116 409h1v1h-1zM1137 409h1v1h-1zM1168 409h1v1h-1zM1178 409h1v1h-1zM1184 409h1v1h-1zM1199 409h1v1h-1zM10 194h1v1h-1zM48 194h1v1h-1zM59 194h1v1h-1zM120 194h1v1h-1zM131 194h1v1h-1zM157 194h1v1h-1zM955 194h1v1h-1zM974 194h1v1h-1zM892 414h1v1h-1zM911 414h1v1h-1zM999 414h1v1h-1zM1019 414h1v1h-1zM1119 414h1v1h-1zM1135 414h1v1h-1zM1171 414h2v1h-2zM1175 414h1v1h-1zM1186 414h1v1h-1zM1196 414h1v1h-1zM9 199h1v1h-1zM50 199h1v1h-1zM58 199h1v1h-1zM124 199h2v1h-2zM127 199h1v1h-1zM160 199h1v1h-1zM954 199h1v1h-1zM975 199h1v1h-1zM301 282h1v1h-1zM468 282h1v1h-1zM542 282h1v1h-1zM635 282h1v1h-1zM645 282h7v1h-7zM655 282h1v1h-1zM804 282h1v1h-1zM939 282h1v1h-1zM986 282h1v1h-1zM266 271h2v1h-2zM299 271h1v1h-1zM471 271h1v1h-1zM539 271h1v1h-1zM660 271h1v1h-1zM696 271h1v1h-1zM707 271h1v1h-1zM797 271h1v1h-1zM942 271h1v1h-1zM984 271h1v1h-1zM265 269h1v1h-1zM275 269h1v1h-1zM298 269h1v1h-1zM472 269h1v1h-1zM501 269h1v1h-1zM507 269h2v1h-2zM539 269h1v1h-1zM661 269h1v1h-1zM694 269h1v1h-1zM708 269h1v1h-1zM796 269h1v1h-1zM942 269h1v1h-1zM984 269h1v1h-1zM306 300h1v1h-1zM335 300h2v1h-2zM339 300h1v1h-1zM345 300h1v1h-1zM371 300h1v1h-1zM460 300h1v1h-1zM550 300h1v1h-1zM574 300h1v1h-1zM599 300h1v1h-1zM626 300h1v1h-1zM814 300h1v1h-1zM834 300h1v1h-1zM849 300h1v1h-1zM936 300h1v1h-1zM988 300h1v1h-1zM1033 300h1v1h-1zM1036 300h1v1h-1zM300 275h1v1h-1zM470 275h1v1h-1zM540 275h1v1h-1zM658 275h1v1h-1zM700 275h2v1h-2zM704 275h3v1h-3zM800 275h1v1h-1zM941 275h1v1h-1zM985 275h1v1h-1zM8 200h1v1h-1zM51 200h1v1h-1zM57 200h1v1h-1zM126 200h1v1h-1zM161 200h1v1h-1zM954 200h1v1h-1zM975 200h1v1h-1zM299 273h1v1h-1zM471 273h1v1h-1zM540 273h1v1h-1zM659 273h1v1h-1zM698 273h1v1h-1zM707 273h1v1h-1zM798 273h1v1h-1zM942 273h1v1h-1zM984 273h1v1h-1zM176 221h1v1h-1zM225 221h1v1h-1zM247 221h1v1h-1zM724 221h1v1h-1zM743 221h1v1h-1zM950 221h1v1h-1zM977 221h1v1h-1zM1001 442h1v1h-1zM1016 442h1v1h-1zM199 249h1v1h-1zM217 249h1v1h-1zM256 249h1v1h-1zM478 249h1v1h-1zM490 249h1v1h-1zM519 249h1v1h-1zM533 249h1v1h-1zM674 249h2v1h-2zM679 249h2v1h-2zM716 249h1v1h-1zM757 249h1v1h-1zM777 249h1v1h-1zM779 249h1v1h-1zM946 249h1v1h-1zM981 249h1v1h-1zM305 295h1v1h-1zM349 295h1v1h-1zM356 295h1v1h-1zM359 295h1v1h-1zM368 295h1v1h-1zM463 295h1v1h-1zM546 295h1v1h-1zM577 295h1v1h-1zM596 295h1v1h-1zM628 295h1v1h-1zM812 295h1v1h-1zM837 295h1v1h-1zM847 295h1v1h-1zM937 295h1v1h-1zM987 295h1v1h-1zM175 220h1v1h-1zM226 220h1v1h-1zM247 220h1v1h-1zM724 220h1v1h-1zM743 220h1v1h-1zM950 220h1v1h-1zM977 220h1v1h-1zM183 239h1v1h-1zM220 239h1v1h-1zM253 239h1v1h-1zM525 239h1v1h-1zM527 239h1v1h-1zM719 239h1v1h-1zM751 239h1v1h-1zM947 239h1v1h-1zM980 239h1v1h-1zM188 246h7v1h-7zM218 246h1v1h-1zM255 246h1v1h-1zM479 246h1v1h-1zM488 246h1v1h-1zM520 246h1v1h-1zM531 246h1v1h-1zM716 246h1v1h-1zM755 246h1v1h-1zM946 246h1v1h-1zM981 246h1v1h-1zM173 216h1v1h-1zM227 216h1v1h-1zM246 216h1v1h-1zM725 216h1v1h-1zM739 216h1v1h-1zM950 216h1v1h-1zM977 216h1v1h-1zM870 362h1v1h-1zM928 362h1v1h-1zM995 362h1v1h-1zM1024 362h1v1h-1zM1046 362h1v1h-1zM1080 362h1v1h-1zM1087 362h1v1h-1zM1148 362h1v1h-1zM1155 362h1v1h-1zM17 169h1v1h-1zM39 169h1v1h-1zM66 169h1v1h-1zM109 169h1v1h-1zM959 169h1v1h-1zM971 169h1v1h-1zM18 167h1v1h-1zM38 167h1v1h-1zM67 167h1v1h-1zM109 167h1v1h-1zM959 167h1v1h-1zM970 167h1v1h-1zM895 418h1v1h-1zM904 418h2v1h-2zM1000 418h1v1h-1zM1018 418h1v1h-1zM1121 418h1v1h-1zM1134 418h1v1h-1zM312 320h1v1h-1zM324 320h1v1h-1zM388 320h1v1h-1zM449 320h1v1h-1zM855 320h1v1h-1zM934 320h1v1h-1zM991 320h1v1h-1zM1029 320h1v1h-1zM1041 320h1v1h-1zM82 114h2v1h-2zM87 114h2v1h-2zM182 236h1v1h-1zM220 236h1v1h-1zM252 236h1v1h-1zM719 236h1v1h-1zM750 236h1v1h-1zM948 236h1v1h-1zM979 236h1v1h-1zM11 191h1v1h-1zM47 191h1v1h-1zM60 191h1v1h-1zM119 191h1v1h-1zM135 191h1v1h-1zM155 191h1v1h-1zM955 191h1v1h-1zM974 191h1v1h-1zM76 123h1v1h-1zM94 123h1v1h-1zM406 358h1v1h-1zM415 358h1v1h-1zM868 358h1v1h-1zM929 358h1v1h-1zM994 358h1v1h-1zM1024 358h1v1h-1zM1045 358h1v1h-1zM1081 358h1v1h-1zM1085 358h2v1h-2zM1150 358h2v1h-2zM265 270h1v1h-1zM268 270h7v1h-7zM298 270h1v1h-1zM471 270h1v1h-1zM502 270h5v1h-5zM539 270h1v1h-1zM661 270h1v1h-1zM695 270h1v1h-1zM708 270h1v1h-1zM797 270h1v1h-1zM942 270h1v1h-1zM984 270h1v1h-1zM179 228h1v1h-1zM222 228h1v1h-1zM249 228h1v1h-1zM721 228h1v1h-1zM746 228h1v1h-1zM949 228h1v1h-1zM978 228h1v1h-1zM872 369h1v1h-1zM927 369h1v1h-1zM995 369h1v1h-1zM1023 369h1v1h-1zM1047 369h1v1h-1zM1075 369h2v1h-2zM1090 369h1v1h-1zM1145 369h1v1h-1zM1157 369h1v1h-1zM1209 369h1v1h-1zM396 336h1v1h-1zM429 336h1v1h-1zM436 336h3v1h-3zM860 336h1v1h-1zM932 336h1v1h-1zM992 336h1v1h-1zM1027 336h1v1h-1zM1043 336h1v1h-1zM306 299h1v1h-1zM337 299h2v1h-2zM346 299h1v1h-1zM371 299h1v1h-1zM461 299h1v1h-1zM549 299h1v1h-1zM575 299h1v1h-1zM598 299h1v1h-1zM626 299h1v1h-1zM813 299h1v1h-1zM834 299h1v1h-1zM848 299h1v1h-1zM937 299h1v1h-1zM988 299h1v1h-1zM1033 299h1v1h-1zM1035 299h1v1h-1zM311 315h1v1h-1zM327 315h1v1h-1zM385 315h1v1h-1zM452 315h1v1h-1zM608 315h2v1h-2zM612 315h4v1h-4zM822 315h2v1h-2zM853 315h1v1h-1zM935 315h1v1h-1zM990 315h1v1h-1zM1030 315h1v1h-1zM1040 315h1v1h-1zM897 421h1v1h-1zM899 421h2v1h-2zM1000 421h1v1h-1zM1018 421h1v1h-1zM1122 421h1v1h-1zM1132 421h1v1h-1zM263 267h1v1h-1zM276 267h1v1h-1zM297 267h1v1h-1zM472 267h1v1h-1zM500 267h1v1h-1zM511 267h1v1h-1zM538 267h1v1h-1zM662 267h1v1h-1zM693 267h1v1h-1zM709 267h1v1h-1zM795 267h1v1h-1zM943 267h1v1h-1zM984 267h1v1h-1zM1005 469h1v1h-1zM1012 469h1v1h-1zM177 223h1v1h-1zM224 223h1v1h-1zM248 223h1v1h-1zM723 223h1v1h-1zM744 223h1v1h-1zM949 223h1v1h-1zM977 223h1v1h-1zM880 391h1v1h-1zM921 391h1v1h-1zM998 391h1v1h-1zM1021 391h1v1h-1zM1051 391h1v1h-1zM1068 391h1v1h-1zM1103 391h1v1h-1zM1140 391h1v1h-1zM1162 391h1v1h-1zM1204 391h1v1h-1zM401 346h1v1h-1zM423 346h1v1h-1zM863 346h1v1h-1zM931 346h1v1h-1zM993 346h1v1h-1zM1025 346h1v1h-1zM1044 346h1v1h-1zM1001 439h1v1h-1zM1016 439h1v1h-1zM261 262h1v1h-1zM280 262h1v1h-1zM295 262h1v1h-1zM473 262h1v1h-1zM496 262h1v1h-1zM513 262h1v1h-1zM537 262h1v1h-1zM665 262h1v1h-1zM691 262h1v1h-1zM711 262h1v1h-1zM792 262h1v1h-1zM944 262h1v1h-1zM983 262h1v1h-1zM898 422h1v1h-1zM1000 422h1v1h-1zM1018 422h1v1h-1zM1123 422h1v1h-1zM1131 422h1v1h-1zM73 134h1v1h-1zM98 134h1v1h-1zM203 255h2v1h-2zM213 255h1v1h-1zM258 255h1v1h-1zM476 255h1v1h-1zM493 255h1v1h-1zM516 255h1v1h-1zM535 255h1v1h-1zM671 255h1v1h-1zM687 255h1v1h-1zM714 255h1v1h-1zM761 255h1v1h-1zM772 255h1v1h-1zM786 255h1v1h-1zM945 255h1v1h-1zM982 255h1v1h-1zM307 304h1v1h-1zM333 304h1v1h-1zM373 304h1v1h-1zM376 304h3v1h-3zM458 304h1v1h-1zM552 304h1v1h-1zM572 304h1v1h-1zM601 304h1v1h-1zM624 304h1v1h-1zM815 304h1v1h-1zM832 304h1v1h-1zM850 304h1v1h-1zM936 304h1v1h-1zM989 304h1v1h-1zM1032 304h1v1h-1zM1037 304h1v1h-1zM21 159h1v1h-1zM36 159h1v1h-1zM68 159h1v1h-1zM107 159h1v1h-1zM960 159h1v1h-1zM969 159h1v1h-1zM304 293h1v1h-1zM352 293h3v1h-3zM361 293h1v1h-1zM365 293h2v1h-2zM464 293h1v1h-1zM545 293h1v1h-1zM578 293h1v1h-1zM595 293h1v1h-1zM629 293h1v1h-1zM811 293h1v1h-1zM838 293h1v1h-1zM846 293h1v1h-1zM937 293h1v1h-1zM987 293h1v1h-1zM884 398h1v1h-1zM919 398h1v1h-1zM998 398h1v1h-1zM1020 398h1v1h-1zM1052 398h1v1h-1zM1066 398h1v1h-1zM1111 398h1v1h-1zM1139 398h1v1h-1zM1164 398h1v1h-1zM1203 398h1v1h-1zM1001 432h1v1h-1zM1017 432h1v1h-1zM177 224h1v1h-1zM224 224h1v1h-1zM248 224h1v1h-1zM723 224h1v1h-1zM745 224h1v1h-1zM949 224h1v1h-1zM977 224h1v1h-1zM308 305h1v1h-1zM332 305h1v1h-1zM374 305h2v1h-2zM379 305h1v1h-1zM457 305h1v1h-1zM553 305h1v1h-1zM572 305h1v1h-1zM602 305h1v1h-1zM623 305h1v1h-1zM816 305h1v1h-1zM831 305h1v1h-1zM850 305h1v1h-1zM936 305h1v1h-1zM989 305h1v1h-1zM1032 305h1v1h-1zM1038 305h1v1h-1zM25 150h1v1h-1zM32 150h1v1h-1zM70 150h1v1h-1zM104 150h1v1h-1zM962 150h1v1h-1zM968 150h1v1h-1zM874 375h1v1h-1zM925 375h1v1h-1zM996 375h1v1h-1zM1022 375h1v1h-1zM1048 375h1v1h-1zM1073 375h1v1h-1zM1094 375h1v1h-1zM1144 375h1v1h-1zM1158 375h1v1h-1zM1208 375h1v1h-1zM888 407h1v1h-1zM915 407h1v1h-1zM999 407h1v1h-1zM1019 407h1v1h-1zM1054 407h1v1h-1zM1064 407h1v1h-1zM1115 407h1v1h-1zM1137 407h1v1h-1zM1167 407h1v1h-1zM1180 407h2v1h-2zM1183 407h1v1h-1zM1200 407h1v1h-1zM11 188h1v1h-1zM46 188h1v1h-1zM61 188h1v1h-1zM117 188h1v1h-1zM136 188h1v1h-1zM151 188h1v1h-1zM956 188h1v1h-1zM973 188h1v1h-1zM25 151h1v1h-1zM33 151h1v1h-1zM70 151h1v1h-1zM105 151h1v1h-1zM962 151h1v1h-1zM968 151h1v1h-1zM308 308h1v1h-1zM331 308h1v1h-1zM380 308h1v1h-1zM455 308h1v1h-1zM555 308h1v1h-1zM569 308h2v1h-2zM604 308h1v1h-1zM622 308h1v1h-1zM817 308h1v1h-1zM830 308h1v1h-1zM851 308h1v1h-1zM936 308h1v1h-1zM989 308h1v1h-1zM1032 308h1v1h-1zM1038 308h1v1h-1zM300 278h1v1h-1zM469 278h1v1h-1zM541 278h1v1h-1zM638 278h1v1h-1zM657 278h1v1h-1zM802 278h1v1h-1zM940 278h1v1h-1zM985 278h1v1h-1zM396 337h1v1h-1zM428 337h1v1h-1zM860 337h1v1h-1zM932 337h1v1h-1zM992 337h1v1h-1zM1027 337h1v1h-1zM1043 337h1v1h-1zM891 413h1v1h-1zM912 413h1v1h-1zM999 413h1v1h-1zM1019 413h1v1h-1zM1058 413h5v1h-5zM1118 413h1v1h-1zM1136 413h1v1h-1zM1170 413h1v1h-1zM1175 413h1v1h-1zM1186 413h1v1h-1zM1197 413h1v1h-1zM12 184h1v1h-1zM45 184h1v1h-1zM62 184h1v1h-1zM116 184h1v1h-1zM138 184h1v1h-1zM146 184h1v1h-1zM956 184h1v1h-1zM973 184h1v1h-1zM318 329h1v1h-1zM392 329h1v1h-1zM443 329h1v1h-1zM858 329h1v1h-1zM933 329h1v1h-1zM992 329h1v1h-1zM1028 329h1v1h-1zM1042 329h1v1h-1zM307 302h1v1h-1zM334 302h1v1h-1zM341 302h1v1h-1zM343 302h1v1h-1zM372 302h1v1h-1zM459 302h1v1h-1zM551 302h1v1h-1zM573 302h1v1h-1zM600 302h1v1h-1zM625 302h1v1h-1zM814 302h1v1h-1zM833 302h1v1h-1zM849 302h1v1h-1zM936 302h1v1h-1zM988 302h1v1h-1zM1033 302h1v1h-1zM1036 302h1v1h-1zM11 190h1v1h-1zM47 190h1v1h-1zM61 190h1v1h-1zM118 190h1v1h-1zM135 190h1v1h-1zM154 190h1v1h-1zM955 190h1v1h-1zM974 190h1v1h-1zM176 222h1v1h-1zM225 222h1v1h-1zM248 222h1v1h-1zM723 222h1v1h-1zM744 222h1v1h-1zM949 222h1v1h-1zM977 222h1v1h-1zM403 349h1v1h-1zM422 349h1v1h-1zM865 349h1v1h-1zM930 349h1v1h-1zM994 349h1v1h-1zM1025 349h1v1h-1zM1044 349h1v1h-1zM305 297h1v1h-1zM348 297h1v1h-1zM358 297h1v1h-1zM369 297h1v1h-1zM462 297h1v1h-1zM547 297h1v1h-1zM576 297h1v1h-1zM597 297h1v1h-1zM627 297h1v1h-1zM812 297h1v1h-1zM835 297h1v1h-1zM847 297h1v1h-1zM937 297h1v1h-1zM988 297h1v1h-1zM1034 297h1v1h-1zM879 387h1v1h-1zM922 387h1v1h-1zM997 387h1v1h-1zM1021 387h1v1h-1zM1050 387h1v1h-1zM1069 387h1v1h-1zM1101 387h1v1h-1zM1141 387h1v1h-1zM1161 387h1v1h-1zM1205 387h1v1h-1zM302 286h1v1h-1zM467 286h1v1h-1zM543 286h1v1h-1zM581 286h1v1h-1zM591 286h1v1h-1zM632 286h1v1h-1zM806 286h1v1h-1zM938 286h1v1h-1zM986 286h1v1h-1zM20 161h1v1h-1zM36 161h1v1h-1zM68 161h1v1h-1zM108 161h1v1h-1zM960 161h1v1h-1zM970 161h1v1h-1zM302 285h1v1h-1zM467 285h1v1h-1zM543 285h1v1h-1zM582 285h1v1h-1zM589 285h2v1h-2zM633 285h1v1h-1zM806 285h1v1h-1zM939 285h1v1h-1zM986 285h1v1h-1zM309 309h1v1h-1zM330 309h1v1h-1zM381 309h1v1h-1zM455 309h1v1h-1zM556 309h1v1h-1zM567 309h2v1h-2zM604 309h1v1h-1zM621 309h1v1h-1zM818 309h1v1h-1zM829 309h1v1h-1zM851 309h1v1h-1zM935 309h1v1h-1zM989 309h1v1h-1zM1031 309h1v1h-1zM1039 309h1v1h-1zM175 219h1v1h-1zM226 219h1v1h-1zM247 219h1v1h-1zM724 219h1v1h-1zM742 219h1v1h-1zM950 219h1v1h-1zM977 219h1v1h-1zM878 386h1v1h-1zM922 386h1v1h-1zM997 386h1v1h-1zM1021 386h1v1h-1zM1050 386h1v1h-1zM1069 386h1v1h-1zM1101 386h1v1h-1zM1141 386h1v1h-1zM1161 386h1v1h-1zM1205 386h1v1h-1zM879 388h1v1h-1zM921 388h1v1h-1zM997 388h1v1h-1zM1021 388h1v1h-1zM1050 388h1v1h-1zM1069 388h1v1h-1zM1101 388h1v1h-1zM1141 388h1v1h-1zM1161 388h1v1h-1zM1205 388h1v1h-1zM303 290h1v1h-1zM465 290h1v1h-1zM544 290h1v1h-1zM579 290h1v1h-1zM593 290h1v1h-1zM630 290h1v1h-1zM809 290h1v1h-1zM841 290h1v1h-1zM843 290h1v1h-1zM938 290h1v1h-1zM987 290h1v1h-1zM305 298h1v1h-1zM347 298h1v1h-1zM370 298h1v1h-1zM461 298h1v1h-1zM548 298h1v1h-1zM575 298h1v1h-1zM597 298h1v1h-1zM626 298h1v1h-1zM813 298h1v1h-1zM835 298h1v1h-1zM848 298h1v1h-1zM937 298h1v1h-1zM988 298h1v1h-1zM1034 298h2v1h-2zM880 389h1v1h-1zM921 389h1v1h-1zM997 389h1v1h-1zM1021 389h1v1h-1zM1051 389h1v1h-1zM1069 389h1v1h-1zM1102 389h1v1h-1zM1141 389h1v1h-1zM1161 389h1v1h-1zM1205 389h1v1h-1zM184 240h1v1h-1zM219 240h1v1h-1zM253 240h1v1h-1zM524 240h1v1h-1zM528 240h1v1h-1zM718 240h1v1h-1zM752 240h1v1h-1zM947 240h1v1h-1zM980 240h1v1h-1zM260 261h1v1h-1zM281 261h1v1h-1zM295 261h1v1h-1zM474 261h1v1h-1zM496 261h1v1h-1zM514 261h1v1h-1zM537 261h1v1h-1zM666 261h1v1h-1zM690 261h1v1h-1zM711 261h1v1h-1zM791 261h1v1h-1zM944 261h1v1h-1zM983 261h1v1h-1zM402 348h1v1h-1zM422 348h1v1h-1zM864 348h1v1h-1zM930 348h1v1h-1zM993 348h1v1h-1zM1025 348h1v1h-1zM1044 348h1v1h-1zM186 245h2v1h-2zM218 245h1v1h-1zM255 245h1v1h-1zM480 245h1v1h-1zM487 245h1v1h-1zM521 245h1v1h-1zM531 245h1v1h-1zM717 245h1v1h-1zM755 245h1v1h-1zM947 245h1v1h-1zM981 245h1v1h-1zM16 171h1v1h-1zM40 171h1v1h-1zM66 171h1v1h-1zM110 171h1v1h-1zM958 171h1v1h-1zM971 171h1v1h-1zM172 213h1v1h-1zM228 213h1v1h-1zM244 213h1v1h-1zM727 213h1v1h-1zM735 213h1v1h-1zM951 213h1v1h-1zM976 213h1v1h-1zM403 351h1v1h-1zM420 351h1v1h-1zM865 351h1v1h-1zM930 351h1v1h-1zM994 351h1v1h-1zM1025 351h1v1h-1zM1045 351h1v1h-1zM304 291h1v1h-1zM362 291h1v1h-1zM465 291h1v1h-1zM545 291h1v1h-1zM579 291h1v1h-1zM593 291h1v1h-1zM630 291h1v1h-1zM810 291h1v1h-1zM840 291h1v1h-1zM844 291h1v1h-1zM938 291h1v1h-1zM987 291h1v1h-1zM1000 426h1v1h-1zM1018 426h1v1h-1zM7 207h1v1h-1zM169 207h1v1h-1zM230 207h1v1h-1zM240 207h1v1h-1zM952 207h1v1h-1zM976 207h1v1h-1zM1006 472h1v1h-1zM1011 472h1v1h-1zM890 411h1v1h-1zM913 411h1v1h-1zM999 411h1v1h-1zM1019 411h1v1h-1zM1056 411h1v1h-1zM1063 411h1v1h-1zM1117 411h1v1h-1zM1136 411h1v1h-1zM1169 411h1v1h-1zM1177 411h1v1h-1zM1185 411h1v1h-1zM1198 411h1v1h-1zM1010 476h1v1h-1zM180 230h1v1h-1zM222 230h1v1h-1zM250 230h1v1h-1zM721 230h1v1h-1zM747 230h1v1h-1zM948 230h1v1h-1zM978 230h1v1h-1zM171 211h1v1h-1zM228 211h1v1h-1zM243 211h1v1h-1zM728 211h1v1h-1zM732 211h2v1h-2zM951 211h1v1h-1zM976 211h1v1h-1zM72 140h1v1h-1zM101 140h1v1h-1zM966 140h1v1h-1zM301 281h1v1h-1zM468 281h1v1h-1zM542 281h1v1h-1zM636 281h1v1h-1zM643 281h2v1h-2zM655 281h1v1h-1zM804 281h1v1h-1zM940 281h1v1h-1zM985 281h1v1h-1zM24 152h1v1h-1zM33 152h1v1h-1zM69 152h1v1h-1zM105 152h1v1h-1zM962 152h1v1h-1zM968 152h1v1h-1zM179 229h1v1h-1zM222 229h1v1h-1zM250 229h1v1h-1zM721 229h1v1h-1zM747 229h1v1h-1zM949 229h1v1h-1zM978 229h1v1h-1zM1002 447h1v1h-1zM1015 447h1v1h-1zM210 260h1v1h-1zM260 260h1v1h-1zM282 260h1v1h-1zM294 260h1v1h-1zM474 260h1v1h-1zM495 260h1v1h-1zM514 260h1v1h-1zM536 260h1v1h-1zM667 260h1v1h-1zM689 260h1v1h-1zM712 260h1v1h-1zM790 260h1v1h-1zM944 260h1v1h-1zM983 260h1v1h-1zM894 417h1v1h-1zM906 417h2v1h-2zM1000 417h1v1h-1zM1019 417h1v1h-1zM1120 417h1v1h-1zM1135 417h1v1h-1zM1190 417h5v1h-5zM882 394h1v1h-1zM920 394h1v1h-1zM998 394h1v1h-1zM1021 394h1v1h-1zM1051 394h1v1h-1zM1067 394h1v1h-1zM1105 394h1v1h-1zM1140 394h1v1h-1zM1162 394h1v1h-1zM1204 394h1v1h-1zM262 264h1v1h-1zM278 264h1v1h-1zM296 264h1v1h-1zM473 264h1v1h-1zM497 264h1v1h-1zM512 264h1v1h-1zM537 264h1v1h-1zM664 264h1v1h-1zM692 264h1v1h-1zM710 264h1v1h-1zM793 264h1v1h-1zM943 264h1v1h-1zM983 264h1v1h-1zM402 347h1v1h-1zM423 347h1v1h-1zM864 347h1v1h-1zM930 347h1v1h-1zM993 347h1v1h-1zM1025 347h1v1h-1zM1044 347h1v1h-1zM398 340h1v1h-1zM426 340h1v1h-1zM861 340h1v1h-1zM931 340h1v1h-1zM993 340h1v1h-1zM1026 340h1v1h-1zM1043 340h1v1h-1zM889 408h1v1h-1zM914 408h1v1h-1zM999 408h1v1h-1zM1019 408h1v1h-1zM1054 408h1v1h-1zM1063 408h1v1h-1zM1116 408h1v1h-1zM1137 408h1v1h-1zM1168 408h1v1h-1zM1179 408h1v1h-1zM1183 408h1v1h-1zM1200 408h1v1h-1zM309 310h1v1h-1zM330 310h1v1h-1zM381 310h1v1h-1zM454 310h1v1h-1zM557 310h1v1h-1zM566 310h1v1h-1zM605 310h1v1h-1zM621 310h1v1h-1zM818 310h1v1h-1zM829 310h1v1h-1zM852 310h1v1h-1zM935 310h1v1h-1zM990 310h1v1h-1zM1031 310h1v1h-1zM1039 310h1v1h-1zM304 294h1v1h-1zM350 294h2v1h-2zM355 294h1v1h-1zM360 294h1v1h-1zM367 294h1v1h-1zM463 294h1v1h-1zM545 294h1v1h-1zM577 294h1v1h-1zM595 294h1v1h-1zM628 294h1v1h-1zM811 294h1v1h-1zM837 294h1v1h-1zM846 294h1v1h-1zM937 294h1v1h-1zM987 294h1v1h-1zM262 265h1v1h-1zM277 265h1v1h-1zM296 265h1v1h-1zM473 265h1v1h-1zM498 265h1v1h-1zM512 265h1v1h-1zM538 265h1v1h-1zM663 265h1v1h-1zM692 265h1v1h-1zM710 265h1v1h-1zM794 265h1v1h-1zM943 265h1v1h-1zM984 265h1v1h-1zM199 250h1v1h-1zM216 250h1v1h-1zM256 250h1v1h-1zM477 250h1v1h-1zM490 250h1v1h-1zM518 250h1v1h-1zM533 250h1v1h-1zM673 250h1v1h-1zM681 250h2v1h-2zM715 250h1v1h-1zM758 250h1v1h-1zM776 250h1v1h-1zM780 250h2v1h-2zM946 250h1v1h-1zM982 250h1v1h-1zM873 371h1v1h-1zM926 371h1v1h-1zM996 371h1v1h-1zM1023 371h1v1h-1zM1047 371h1v1h-1zM1074 371h1v1h-1zM1091 371h1v1h-1zM1145 371h1v1h-1zM1157 371h1v1h-1zM1209 371h1v1h-1zM74 130h1v1h-1zM97 130h1v1h-1zM394 332h1v1h-1zM441 332h1v1h-1zM859 332h1v1h-1zM932 332h1v1h-1zM992 332h1v1h-1zM1027 332h1v1h-1zM1042 332h1v1h-1zM174 217h1v1h-1zM227 217h1v1h-1zM246 217h1v1h-1zM725 217h1v1h-1zM740 217h1v1h-1zM950 217h1v1h-1zM977 217h1v1h-1zM12 186h1v1h-1zM46 186h1v1h-1zM62 186h1v1h-1zM116 186h1v1h-1zM137 186h1v1h-1zM148 186h2v1h-2zM956 186h1v1h-1zM973 186h1v1h-1zM1004 459h1v1h-1zM1014 459h1v1h-1zM873 372h1v1h-1zM926 372h1v1h-1zM996 372h1v1h-1zM1023 372h1v1h-1zM1048 372h1v1h-1zM1073 372h1v1h-1zM1092 372h1v1h-1zM1145 372h1v1h-1zM1158 372h1v1h-1zM1208 372h1v1h-1zM201 253h1v1h-1zM215 253h1v1h-1zM257 253h1v1h-1zM476 253h1v1h-1zM492 253h1v1h-1zM517 253h1v1h-1zM534 253h1v1h-1zM672 253h1v1h-1zM685 253h1v1h-1zM714 253h1v1h-1zM760 253h1v1h-1zM773 253h1v1h-1zM784 253h1v1h-1zM945 253h1v1h-1zM982 253h1v1h-1zM313 322h1v1h-1zM323 322h1v1h-1zM389 322h1v1h-1zM448 322h1v1h-1zM855 322h1v1h-1zM934 322h1v1h-1zM991 322h1v1h-1zM1029 322h1v1h-1zM1041 322h1v1h-1zM404 352h1v1h-1zM419 352h1v1h-1zM866 352h1v1h-1zM930 352h1v1h-1zM994 352h1v1h-1zM1025 352h1v1h-1zM1045 352h1v1h-1zM893 416h1v1h-1zM908 416h3v1h-3zM1000 416h1v1h-1zM1019 416h1v1h-1zM1120 416h1v1h-1zM1135 416h1v1h-1zM1188 416h2v1h-2zM1195 416h1v1h-1zM395 335h1v1h-1zM429 335h1v1h-1zM432 335h4v1h-4zM439 335h1v1h-1zM860 335h1v1h-1zM932 335h1v1h-1zM992 335h1v1h-1zM1027 335h1v1h-1zM1043 335h1v1h-1zM181 233h1v1h-1zM221 233h1v1h-1zM251 233h1v1h-1zM720 233h1v1h-1zM748 233h1v1h-1zM948 233h1v1h-1zM979 233h1v1h-1zM10 193h1v1h-1zM48 193h1v1h-1zM60 193h1v1h-1zM120 193h1v1h-1zM132 193h2v1h-2zM156 193h1v1h-1zM955 193h1v1h-1zM974 193h1v1h-1zM77 120h1v1h-1zM93 120h1v1h-1zM197 248h2v1h-2zM217 248h1v1h-1zM256 248h1v1h-1zM478 248h1v1h-1zM489 248h1v1h-1zM519 248h1v1h-1zM532 248h1v1h-1zM676 248h3v1h-3zM716 248h1v1h-1zM757 248h1v1h-1zM778 248h1v1h-1zM946 248h1v1h-1zM981 248h1v1h-1zM871 364h1v1h-1zM927 364h1v1h-1zM995 364h1v1h-1zM1024 364h1v1h-1zM1046 364h1v1h-1zM1079 364h1v1h-1zM1088 364h1v1h-1zM1147 364h1v1h-1zM1155 364h1v1h-1zM19 164h1v1h-1zM37 164h1v1h-1zM67 164h1v1h-1zM108 164h1v1h-1zM959 164h1v1h-1zM970 164h1v1h-1zM14 179h1v1h-1zM42 179h1v1h-1zM64 179h1v1h-1zM114 179h1v1h-1zM141 179h1v1h-1zM143 179h1v1h-1zM957 179h1v1h-1zM972 179h1v1h-1zM877 383h1v1h-1zM923 383h1v1h-1zM997 383h1v1h-1zM1022 383h1v1h-1zM1049 383h1v1h-1zM1070 383h1v1h-1zM1099 383h1v1h-1zM1142 383h1v1h-1zM1160 383h1v1h-1zM1206 383h1v1h-1zM885 400h1v1h-1zM918 400h1v1h-1zM998 400h1v1h-1zM1020 400h1v1h-1zM1053 400h1v1h-1zM1066 400h1v1h-1zM1112 400h1v1h-1zM1139 400h1v1h-1zM1164 400h1v1h-1zM1202 400h1v1h-1zM883 397h1v1h-1zM919 397h1v1h-1zM998 397h1v1h-1zM1020 397h1v1h-1zM1052 397h1v1h-1zM1067 397h1v1h-1zM1108 397h3v1h-3zM1139 397h1v1h-1zM1163 397h1v1h-1zM1203 397h1v1h-1zM308 307h1v1h-1zM331 307h1v1h-1zM380 307h1v1h-1zM456 307h1v1h-1zM554 307h1v1h-1zM571 307h1v1h-1zM603 307h1v1h-1zM622 307h1v1h-1zM817 307h1v1h-1zM830 307h1v1h-1zM851 307h1v1h-1zM936 307h1v1h-1zM989 307h1v1h-1zM1032 307h1v1h-1zM1038 307h1v1h-1zM399 342h1v1h-1zM425 342h1v1h-1zM862 342h1v1h-1zM931 342h1v1h-1zM993 342h1v1h-1zM1026 342h1v1h-1zM1044 342h1v1h-1zM403 350h1v1h-1zM421 350h1v1h-1zM865 350h1v1h-1zM930 350h1v1h-1zM994 350h1v1h-1zM1025 350h1v1h-1zM1045 350h1v1h-1zM877 382h1v1h-1zM923 382h1v1h-1zM997 382h1v1h-1zM1022 382h1v1h-1zM1049 382h1v1h-1zM1071 382h1v1h-1zM1099 382h1v1h-1zM1142 382h1v1h-1zM1160 382h1v1h-1zM1206 382h1v1h-1zM9 196h1v1h-1zM49 196h1v1h-1zM59 196h1v1h-1zM121 196h1v1h-1zM129 196h1v1h-1zM158 196h1v1h-1zM954 196h1v1h-1zM974 196h1v1h-1zM202 254h1v1h-1zM214 254h1v1h-1zM257 254h1v1h-1zM476 254h1v1h-1zM492 254h1v1h-1zM516 254h1v1h-1zM535 254h1v1h-1zM671 254h1v1h-1zM686 254h1v1h-1zM714 254h1v1h-1zM760 254h1v1h-1zM773 254h1v1h-1zM785 254h1v1h-1zM945 254h1v1h-1zM982 254h1v1h-1zM178 225h1v1h-1zM223 225h1v1h-1zM249 225h1v1h-1zM722 225h1v1h-1zM745 225h1v1h-1zM949 225h1v1h-1zM978 225h1v1h-1zM1000 429h1v1h-1zM1017 429h1v1h-1zM888 406h1v1h-1zM915 406h1v1h-1zM999 406h1v1h-1zM1020 406h1v1h-1zM1054 406h1v1h-1zM1064 406h1v1h-1zM1115 406h1v1h-1zM1137 406h1v1h-1zM1167 406h1v1h-1zM1182 406h1v1h-1zM1200 406h1v1h-1zM28 147h3v1h-3zM70 147h1v1h-1zM103 147h1v1h-1zM963 147h1v1h-1zM967 147h1v1h-1zM315 326h1v1h-1zM320 326h1v1h-1zM391 326h1v1h-1zM445 326h1v1h-1zM857 326h1v1h-1zM933 326h1v1h-1zM991 326h1v1h-1zM1028 326h1v1h-1zM1042 326h1v1h-1zM308 306h1v1h-1zM332 306h1v1h-1zM379 306h1v1h-1zM457 306h1v1h-1zM553 306h1v1h-1zM571 306h1v1h-1zM603 306h1v1h-1zM623 306h1v1h-1zM816 306h1v1h-1zM831 306h1v1h-1zM851 306h1v1h-1zM936 306h1v1h-1zM989 306h1v1h-1zM1032 306h1v1h-1zM1038 306h1v1h-1zM6 209h1v1h-1zM170 209h1v1h-1zM229 209h1v1h-1zM241 209h1v1h-1zM730 209h1v1h-1zM952 209h1v1h-1zM976 209h1v1h-1zM23 154h1v1h-1zM34 154h1v1h-1zM69 154h1v1h-1zM106 154h1v1h-1zM961 154h1v1h-1zM968 154h1v1h-1zM896 419h1v1h-1zM903 419h1v1h-1zM1000 419h1v1h-1zM1018 419h1v1h-1zM1121 419h1v1h-1zM1134 419h1v1h-1zM301 279h1v1h-1zM469 279h1v1h-1zM541 279h1v1h-1zM637 279h1v1h-1zM639 279h2v1h-2zM656 279h1v1h-1zM803 279h1v1h-1zM940 279h1v1h-1zM985 279h1v1h-1zM299 272h1v1h-1zM471 272h1v1h-1zM540 272h1v1h-1zM660 272h1v1h-1zM697 272h1v1h-1zM707 272h1v1h-1zM798 272h1v1h-1zM942 272h1v1h-1zM984 272h1v1h-1zM875 376h1v1h-1zM925 376h1v1h-1zM996 376h1v1h-1zM1022 376h1v1h-1zM1048 376h1v1h-1zM1072 376h1v1h-1zM1095 376h1v1h-1zM1144 376h1v1h-1zM1159 376h1v1h-1zM1207 376h1v1h-1zM171 212h1v1h-1zM228 212h1v1h-1zM243 212h1v1h-1zM728 212h1v1h-1zM734 212h1v1h-1zM951 212h1v1h-1zM976 212h1v1h-1zM311 317h1v1h-1zM325 317h1v1h-1zM386 317h1v1h-1zM451 317h1v1h-1zM854 317h1v1h-1zM934 317h1v1h-1zM990 317h1v1h-1zM1030 317h1v1h-1zM1040 317h1v1h-1zM893 415h1v1h-1zM911 415h1v1h-1zM999 415h1v1h-1zM1019 415h1v1h-1zM1119 415h1v1h-1zM1135 415h1v1h-1zM1173 415h2v1h-2zM1187 415h1v1h-1zM1196 415h1v1h-1zM303 287h1v1h-1zM466 287h1v1h-1zM544 287h1v1h-1zM581 287h1v1h-1zM591 287h1v1h-1zM632 287h1v1h-1zM807 287h1v1h-1zM938 287h1v1h-1zM986 287h1v1h-1zM404 353h1v1h-1zM418 353h1v1h-1zM866 353h1v1h-1zM929 353h1v1h-1zM994 353h1v1h-1zM1025 353h1v1h-1zM1045 353h1v1h-1zM871 366h1v1h-1zM927 366h1v1h-1zM995 366h1v1h-1zM1023 366h1v1h-1zM1047 366h1v1h-1zM1079 366h1v1h-1zM1089 366h1v1h-1zM1146 366h1v1h-1zM1156 366h1v1h-1zM1210 366h1v1h-1zM878 384h1v1h-1zM923 384h1v1h-1zM997 384h1v1h-1zM1022 384h1v1h-1zM1050 384h1v1h-1zM1070 384h1v1h-1zM1100 384h1v1h-1zM1142 384h1v1h-1zM1160 384h1v1h-1zM1206 384h1v1h-1zM405 354h1v1h-1zM417 354h1v1h-1zM866 354h1v1h-1zM929 354h1v1h-1zM994 354h1v1h-1zM1025 354h1v1h-1zM1045 354h1v1h-1zM7 204h1v1h-1zM53 204h1v1h-1zM55 204h1v1h-1zM168 204h1v1h-1zM237 204h2v1h-2zM953 204h1v1h-1zM975 204h1v1h-1zM300 276h1v1h-1zM470 276h1v1h-1zM541 276h1v1h-1zM658 276h1v1h-1zM702 276h2v1h-2zM800 276h1v1h-1zM941 276h1v1h-1zM985 276h1v1h-1zM890 410h1v1h-1zM913 410h1v1h-1zM999 410h1v1h-1zM1019 410h1v1h-1zM1056 410h1v1h-1zM1063 410h1v1h-1zM1117 410h1v1h-1zM1136 410h1v1h-1zM1169 410h1v1h-1zM1177 410h1v1h-1zM1184 410h1v1h-1zM1199 410h1v1h-1zM13 181h1v1h-1zM43 181h1v1h-1zM63 181h1v1h-1zM114 181h1v1h-1zM140 181h1v1h-1zM144 181h1v1h-1zM957 181h1v1h-1zM972 181h1v1h-1zM14 177h1v1h-1zM42 177h1v1h-1zM64 177h1v1h-1zM113 177h1v1h-1zM957 177h1v1h-1zM972 177h1v1h-1zM26 148h2v1h-2zM31 148h1v1h-1zM70 148h1v1h-1zM104 148h1v1h-1zM963 148h1v1h-1zM967 148h1v1h-1zM179 227h1v1h-1zM222 227h1v1h-1zM249 227h1v1h-1zM722 227h1v1h-1zM746 227h1v1h-1zM949 227h1v1h-1zM978 227h1v1h-1zM876 380h1v1h-1zM924 380h1v1h-1zM996 380h1v1h-1zM1022 380h1v1h-1zM1049 380h1v1h-1zM1071 380h1v1h-1zM1098 380h1v1h-1zM1143 380h1v1h-1zM1159 380h1v1h-1zM1206 380h1v1h-1zM400 344h1v1h-1zM424 344h1v1h-1zM863 344h1v1h-1zM931 344h1v1h-1zM993 344h1v1h-1zM1026 344h1v1h-1zM1044 344h1v1h-1zM886 403h1v1h-1zM917 403h1v1h-1zM999 403h1v1h-1zM1020 403h1v1h-1zM1053 403h1v1h-1zM1065 403h1v1h-1zM1113 403h1v1h-1zM1138 403h1v1h-1zM1165 403h1v1h-1zM1202 403h1v1h-1zM18 165h1v1h-1zM38 165h1v1h-1zM67 165h1v1h-1zM108 165h1v1h-1zM959 165h1v1h-1zM970 165h1v1h-1zM182 237h1v1h-1zM220 237h1v1h-1zM252 237h1v1h-1zM719 237h1v1h-1zM750 237h1v1h-1zM948 237h1v1h-1zM979 237h1v1h-1zM1001 441h1v1h-1zM1016 441h1v1h-1zM184 241h1v1h-1zM219 241h1v1h-1zM253 241h1v1h-1zM523 241h1v1h-1zM528 241h1v1h-1zM718 241h1v1h-1zM752 241h1v1h-1zM947 241h1v1h-1zM980 241h1v1h-1zM263 266h1v1h-1zM277 266h1v1h-1zM297 266h1v1h-1zM472 266h1v1h-1zM499 266h1v1h-1zM511 266h1v1h-1zM538 266h1v1h-1zM663 266h1v1h-1zM693 266h1v1h-1zM709 266h1v1h-1zM795 266h1v1h-1zM943 266h1v1h-1zM984 266h1v1h-1zM871 365h1v1h-1zM927 365h1v1h-1zM995 365h1v1h-1zM1023 365h1v1h-1zM1046 365h1v1h-1zM1079 365h1v1h-1zM1088 365h1v1h-1zM1147 365h1v1h-1zM1156 365h1v1h-1zM1210 365h1v1h-1zM870 361h1v1h-1zM928 361h1v1h-1zM995 361h1v1h-1zM1024 361h1v1h-1zM1046 361h1v1h-1zM1080 361h1v1h-1zM1087 361h1v1h-1zM1149 361h1v1h-1zM1155 361h1v1h-1zM15 175h1v1h-1zM41 175h1v1h-1zM65 175h1v1h-1zM112 175h1v1h-1zM958 175h1v1h-1zM972 175h1v1h-1zM23 155h1v1h-1zM35 155h1v1h-1zM69 155h1v1h-1zM106 155h1v1h-1zM961 155h1v1h-1zM969 155h1v1h-1zM18 166h1v1h-1zM38 166h1v1h-1zM67 166h1v1h-1zM109 166h1v1h-1zM959 166h1v1h-1zM970 166h1v1h-1zM22 157h1v1h-1zM35 157h1v1h-1zM68 157h1v1h-1zM107 157h1v1h-1zM961 157h1v1h-1zM969 157h1v1h-1zM24 153h1v1h-1zM34 153h1v1h-1zM69 153h1v1h-1zM106 153h1v1h-1zM961 153h1v1h-1zM968 153h1v1h-1zM406 357h1v1h-1zM415 357h1v1h-1zM868 357h1v1h-1zM929 357h1v1h-1zM994 357h1v1h-1zM1024 357h1v1h-1zM1045 357h1v1h-1zM1082 357h3v1h-3zM311 316h1v1h-1zM326 316h1v1h-1zM385 316h1v1h-1zM451 316h1v1h-1zM610 316h2v1h-2zM853 316h1v1h-1zM935 316h1v1h-1zM990 316h1v1h-1zM1030 316h1v1h-1zM1040 316h1v1h-1zM72 139h1v1h-1zM100 139h1v1h-1zM966 139h1v1h-1zM316 327h1v1h-1zM319 327h1v1h-1zM391 327h1v1h-1zM445 327h1v1h-1zM857 327h1v1h-1zM933 327h1v1h-1zM991 327h1v1h-1zM1028 327h1v1h-1zM1042 327h1v1h-1zM1005 468h1v1h-1zM1012 468h1v1h-1zM261 263h1v1h-1zM279 263h1v1h-1zM296 263h1v1h-1zM473 263h1v1h-1zM497 263h1v1h-1zM513 263h1v1h-1zM537 263h1v1h-1zM665 263h1v1h-1zM691 263h1v1h-1zM710 263h1v1h-1zM792 263h1v1h-1zM943 263h1v1h-1zM983 263h1v1h-1zM1001 438h1v1h-1zM1016 438h1v1h-1zM8 201h1v1h-1zM51 201h1v1h-1zM57 201h1v1h-1zM162 201h5v1h-5zM953 201h1v1h-1zM975 201h1v1h-1zM310 314h1v1h-1zM327 314h1v1h-1zM384 314h1v1h-1zM452 314h1v1h-1zM607 314h1v1h-1zM616 314h3v1h-3zM821 314h1v1h-1zM824 314h3v1h-3zM853 314h1v1h-1zM935 314h1v1h-1zM990 314h1v1h-1zM1030 314h1v1h-1zM1039 314h1v1h-1zM1005 465h1v1h-1zM1013 465h1v1h-1zM313 323h1v1h-1zM322 323h1v1h-1zM389 323h1v1h-1zM447 323h1v1h-1zM856 323h1v1h-1zM934 323h1v1h-1zM991 323h1v1h-1zM1029 323h1v1h-1zM1041 323h1v1h-1zM10 192h1v1h-1zM48 192h1v1h-1zM60 192h1v1h-1zM119 192h1v1h-1zM134 192h1v1h-1zM155 192h1v1h-1zM955 192h1v1h-1zM974 192h1v1h-1zM1001 431h1v1h-1zM1017 431h1v1h-1zM873 370h1v1h-1zM926 370h1v1h-1zM996 370h1v1h-1zM1023 370h1v1h-1zM1047 370h1v1h-1zM1074 370h1v1h-1zM1090 370h1v1h-1zM1145 370h1v1h-1zM1157 370h1v1h-1zM1209 370h1v1h-1zM309 311h1v1h-1zM329 311h1v1h-1zM382 311h1v1h-1zM454 311h1v1h-1zM558 311h1v1h-1zM564 311h2v1h-2zM605 311h1v1h-1zM620 311h1v1h-1zM819 311h1v1h-1zM828 311h1v1h-1zM852 311h1v1h-1zM935 311h1v1h-1zM990 311h1v1h-1zM1031 311h1v1h-1zM1039 311h1v1h-1zM885 401h1v1h-1zM918 401h1v1h-1zM998 401h1v1h-1zM1020 401h1v1h-1zM1053 401h1v1h-1zM1065 401h1v1h-1zM1112 401h1v1h-1zM1139 401h1v1h-1zM1165 401h1v1h-1zM1202 401h1v1h-1zM876 379h1v1h-1zM924 379h1v1h-1zM996 379h1v1h-1zM1022 379h1v1h-1zM1049 379h1v1h-1zM1071 379h1v1h-1zM1098 379h1v1h-1zM1143 379h1v1h-1zM1159 379h1v1h-1zM1207 379h1v1h-1zM9 198h1v1h-1zM50 198h1v1h-1zM58 198h1v1h-1zM123 198h1v1h-1zM128 198h1v1h-1zM160 198h1v1h-1zM954 198h1v1h-1zM975 198h1v1h-1zM72 141h1v1h-1zM101 141h1v1h-1zM965 141h2v1h-2zM195 247h2v1h-2zM218 247h1v1h-1zM255 247h1v1h-1zM479 247h1v1h-1zM489 247h1v1h-1zM520 247h1v1h-1zM532 247h1v1h-1zM716 247h1v1h-1zM756 247h1v1h-1zM946 247h1v1h-1zM981 247h1v1h-1zM306 301h1v1h-1zM334 301h1v1h-1zM340 301h1v1h-1zM344 301h1v1h-1zM372 301h1v1h-1zM460 301h1v1h-1zM551 301h1v1h-1zM574 301h1v1h-1zM599 301h1v1h-1zM625 301h1v1h-1zM814 301h1v1h-1zM833 301h1v1h-1zM849 301h1v1h-1zM936 301h1v1h-1zM988 301h1v1h-1zM1033 301h1v1h-1zM1036 301h1v1h-1zM11 189h1v1h-1zM47 189h1v1h-1zM61 189h1v1h-1zM118 189h1v1h-1zM136 189h1v1h-1zM152 189h2v1h-2zM955 189h1v1h-1zM974 189h1v1h-1zM300 277h1v1h-1zM469 277h1v1h-1zM541 277h1v1h-1zM657 277h1v1h-1zM801 277h1v1h-1zM941 277h1v1h-1zM985 277h1v1h-1zM7 206h1v1h-1zM54 206h1v1h-1zM169 206h1v1h-1zM230 206h5v1h-5zM239 206h1v1h-1zM952 206h1v1h-1zM976 206h1v1h-1zM877 381h1v1h-1zM923 381h1v1h-1zM997 381h1v1h-1zM1022 381h1v1h-1zM1049 381h1v1h-1zM1071 381h1v1h-1zM1099 381h1v1h-1zM1142 381h1v1h-1zM1160 381h1v1h-1zM1206 381h1v1h-1zM205 256h2v1h-2zM213 256h1v1h-1zM258 256h1v1h-1zM475 256h1v1h-1zM493 256h1v1h-1zM516 256h1v1h-1zM535 256h1v1h-1zM670 256h1v1h-1zM687 256h1v1h-1zM713 256h1v1h-1zM761 256h1v1h-1zM771 256h1v1h-1zM787 256h1v1h-1zM945 256h1v1h-1zM982 256h1v1h-1zM174 218h1v1h-1zM226 218h1v1h-1zM247 218h1v1h-1zM725 218h1v1h-1zM741 218h1v1h-1zM950 218h1v1h-1zM977 218h1v1h-1zM301 280h1v1h-1zM468 280h1v1h-1zM542 280h1v1h-1zM636 280h1v1h-1zM641 280h2v1h-2zM656 280h1v1h-1zM803 280h1v1h-1zM940 280h1v1h-1zM985 280h1v1h-1zM201 252h1v1h-1zM215 252h1v1h-1zM257 252h1v1h-1zM477 252h1v1h-1zM491 252h1v1h-1zM517 252h1v1h-1zM534 252h1v1h-1zM672 252h1v1h-1zM684 252h1v1h-1zM715 252h1v1h-1zM759 252h1v1h-1zM774 252h1v1h-1zM783 252h1v1h-1zM945 252h1v1h-1zM982 252h1v1h-1zM71 142h1v1h-1zM101 142h1v1h-1zM965 142h2v1h-2zM20 160h1v1h-1zM36 160h1v1h-1zM68 160h1v1h-1zM107 160h1v1h-1zM960 160h1v1h-1zM969 160h1v1h-1zM1006 471h1v1h-1zM1011 471h1v1h-1zM307 303h1v1h-1zM333 303h1v1h-1zM342 303h1v1h-1zM373 303h1v1h-1zM459 303h1v1h-1zM552 303h1v1h-1zM573 303h1v1h-1zM601 303h1v1h-1zM624 303h1v1h-1zM815 303h1v1h-1zM832 303h1v1h-1zM850 303h1v1h-1zM936 303h1v1h-1zM989 303h1v1h-1zM1033 303h1v1h-1zM1037 303h1v1h-1zM317 328h1v1h-1zM319 328h1v1h-1zM392 328h1v1h-1zM444 328h1v1h-1zM857 328h1v1h-1zM933 328h1v1h-1zM991 328h1v1h-1zM1028 328h1v1h-1zM1042 328h1v1h-1zM896 420h1v1h-1zM901 420h2v1h-2zM1000 420h1v1h-1zM1018 420h1v1h-1zM1122 420h1v1h-1zM1133 420h1v1h-1zM881 393h1v1h-1zM920 393h1v1h-1zM998 393h1v1h-1zM1021 393h1v1h-1zM1051 393h1v1h-1zM1068 393h1v1h-1zM1104 393h1v1h-1zM1140 393h1v1h-1zM1162 393h1v1h-1zM1204 393h1v1h-1zM1001 434h1v1h-1zM1017 434h1v1h-1zM397 339h1v1h-1zM427 339h1v1h-1zM861 339h1v1h-1zM932 339h1v1h-1zM993 339h1v1h-1zM1026 339h1v1h-1zM1043 339h1v1h-1zM200 251h1v1h-1zM216 251h1v1h-1zM256 251h1v1h-1zM477 251h1v1h-1zM491 251h1v1h-1zM518 251h1v1h-1zM534 251h1v1h-1zM673 251h1v1h-1zM683 251h1v1h-1zM715 251h1v1h-1zM759 251h1v1h-1zM775 251h1v1h-1zM782 251h1v1h-1zM946 251h1v1h-1zM982 251h1v1h-1zM180 231h1v1h-1zM221 231h1v1h-1zM250 231h1v1h-1zM721 231h1v1h-1zM748 231h1v1h-1zM948 231h1v1h-1zM978 231h1v1h-1zM891 412h1v1h-1zM912 412h1v1h-1zM999 412h1v1h-1zM1019 412h1v1h-1zM1057 412h1v1h-1zM1062 412h1v1h-1zM1118 412h1v1h-1zM1136 412h1v1h-1zM1170 412h1v1h-1zM1176 412h1v1h-1zM1185 412h1v1h-1zM1198 412h1v1h-1zM185 243h1v1h-1zM219 243h1v1h-1zM254 243h1v1h-1zM481 243h1v1h-1zM484 243h3v1h-3zM522 243h1v1h-1zM530 243h1v1h-1zM717 243h1v1h-1zM753 243h1v1h-1zM947 243h1v1h-1zM980 243h1v1h-1zM207 257h1v1h-1zM212 257h1v1h-1zM258 257h1v1h-1zM475 257h1v1h-1zM494 257h1v1h-1zM515 257h1v1h-1zM535 257h1v1h-1zM669 257h1v1h-1zM688 257h1v1h-1zM713 257h1v1h-1zM762 257h2v1h-2zM771 257h1v1h-1zM788 257h1v1h-1zM945 257h1v1h-1zM983 257h1v1h-1zM19 163h1v1h-1zM37 163h1v1h-1zM67 163h1v1h-1zM108 163h1v1h-1zM960 163h1v1h-1zM970 163h1v1h-1zM302 284h1v1h-1zM467 284h1v1h-1zM543 284h1v1h-1zM583 284h2v1h-2zM587 284h2v1h-2zM633 284h1v1h-1zM805 284h1v1h-1zM939 284h1v1h-1zM986 284h1v1h-1zM16 173h1v1h-1zM40 173h1v1h-1zM65 173h1v1h-1zM111 173h1v1h-1zM958 173h1v1h-1zM971 173h1v1h-1zM10 195h1v1h-1zM49 195h1v1h-1zM59 195h1v1h-1zM121 195h1v1h-1zM130 195h1v1h-1zM157 195h1v1h-1zM954 195h1v1h-1zM974 195h1v1h-1zM173 215h1v1h-1zM227 215h1v1h-1zM245 215h1v1h-1zM726 215h1v1h-1zM738 215h1v1h-1zM951 215h1v1h-1zM976 215h1v1h-1zM1000 423h1v1h-1zM1018 423h1v1h-1zM1124 423h2v1h-2zM1128 423h3v1h-3zM1000 428h1v1h-1zM1017 428h1v1h-1zM1000 424h1v1h-1zM1018 424h1v1h-1zM1126 424h2v1h-2zM8 203h1v1h-1zM52 203h1v1h-1zM56 203h1v1h-1zM167 203h1v1h-1zM953 203h1v1h-1zM975 203h1v1h-1zM6 208h1v1h-1zM170 208h1v1h-1zM229 208h1v1h-1zM241 208h1v1h-1zM952 208h1v1h-1zM976 208h1v1h-1zM1002 449h1v1h-1zM1015 449h1v1h-1zM71 143h1v1h-1zM102 143h1v1h-1zM965 143h1v1h-1zM967 143h1v1h-1zM302 283h1v1h-1zM468 283h1v1h-1zM543 283h1v1h-1zM585 283h2v1h-2zM634 283h1v1h-1zM652 283h3v1h-3zM805 283h1v1h-1zM939 283h1v1h-1zM986 283h1v1h-1zM394 333h1v1h-1zM440 333h1v1h-1zM859 333h1v1h-1zM932 333h1v1h-1zM992 333h1v1h-1zM1027 333h1v1h-1zM1043 333h1v1h-1zM26 149h1v1h-1zM31 149h1v1h-1zM70 149h1v1h-1zM104 149h1v1h-1zM962 149h1v1h-1zM968 149h1v1h-1zM74 132h1v1h-1zM98 132h1v1h-1zM1004 461h1v1h-1zM1014 461h1v1h-1zM314 324h1v1h-1zM321 324h1v1h-1zM390 324h1v1h-1zM447 324h1v1h-1zM856 324h1v1h-1zM934 324h1v1h-1zM991 324h1v1h-1zM1029 324h1v1h-1zM1041 324h1v1h-1zM874 374h1v1h-1zM925 374h1v1h-1zM996 374h1v1h-1zM1023 374h1v1h-1zM1048 374h1v1h-1zM1073 374h1v1h-1zM1093 374h1v1h-1zM1144 374h1v1h-1zM1158 374h1v1h-1zM1208 374h1v1h-1zM170 210h1v1h-1zM229 210h1v1h-1zM242 210h1v1h-1zM729 210h1v1h-1zM731 210h1v1h-1zM952 210h1v1h-1zM976 210h1v1h-1zM887 404h1v1h-1zM916 404h1v1h-1zM999 404h1v1h-1zM1020 404h1v1h-1zM1053 404h1v1h-1zM1065 404h1v1h-1zM1114 404h1v1h-1zM1138 404h1v1h-1zM1166 404h1v1h-1zM1201 404h1v1h-1zM880 390h1v1h-1zM921 390h1v1h-1zM997 390h1v1h-1zM1021 390h1v1h-1zM1051 390h1v1h-1zM1068 390h1v1h-1zM1102 390h1v1h-1zM1141 390h1v1h-1zM1161 390h1v1h-1zM1204 390h1v1h-1zM178 226h1v1h-1zM223 226h1v1h-1zM249 226h1v1h-1zM722 226h1v1h-1zM746 226h1v1h-1zM949 226h1v1h-1zM978 226h1v1h-1zM878 385h1v1h-1zM922 385h1v1h-1zM997 385h1v1h-1zM1021 385h1v1h-1zM1050 385h1v1h-1zM1070 385h1v1h-1zM1100 385h1v1h-1zM1141 385h1v1h-1zM1160 385h1v1h-1zM1205 385h1v1h-1zM1006 470h1v1h-1zM1012 470h1v1h-1zM886 402h1v1h-1zM917 402h1v1h-1zM998 402h1v1h-1zM1020 402h1v1h-1zM1053 402h1v1h-1zM1065 402h1v1h-1zM1113 402h1v1h-1zM1138 402h1v1h-1zM1165 402h1v1h-1zM1202 402h1v1h-1zM209 259h1v1h-1zM211 259h1v1h-1zM259 259h1v1h-1zM283 259h2v1h-2zM292 259h3v1h-3zM474 259h1v1h-1zM495 259h1v1h-1zM514 259h1v1h-1zM536 259h1v1h-1zM668 259h1v1h-1zM689 259h1v1h-1zM712 259h1v1h-1zM789 259h1v1h-1zM944 259h1v1h-1zM983 259h1v1h-1zM22 156h1v1h-1zM35 156h1v1h-1zM69 156h1v1h-1zM106 156h1v1h-1zM961 156h1v1h-1zM969 156h1v1h-1zM405 356h1v1h-1zM416 356h1v1h-1zM867 356h1v1h-1zM929 356h1v1h-1zM994 356h1v1h-1zM1024 356h1v1h-1zM1045 356h1v1h-1zM1082 356h1v1h-1zM1004 463h1v1h-1zM1013 463h1v1h-1zM312 319h1v1h-1zM324 319h1v1h-1zM387 319h1v1h-1zM450 319h1v1h-1zM854 319h1v1h-1zM934 319h1v1h-1zM991 319h1v1h-1zM1030 319h1v1h-1zM1040 319h1v1h-1zM299 274h1v1h-1zM470 274h1v1h-1zM540 274h1v1h-1zM659 274h1v1h-1zM699 274h1v1h-1zM706 274h1v1h-1zM799 274h1v1h-1zM941 274h1v1h-1zM985 274h1v1h-1zM305 296h1v1h-1zM348 296h1v1h-1zM357 296h1v1h-1zM359 296h1v1h-1zM368 296h1v1h-1zM462 296h1v1h-1zM546 296h1v1h-1zM576 296h1v1h-1zM596 296h1v1h-1zM627 296h1v1h-1zM812 296h1v1h-1zM836 296h1v1h-1zM847 296h1v1h-1zM937 296h1v1h-1zM987 296h1v1h-1zM1034 296h1v1h-1zM1005 464h1v1h-1zM1013 464h1v1h-1zM409 360h3v1h-3zM869 360h1v1h-1zM928 360h1v1h-1zM995 360h1v1h-1zM1024 360h1v1h-1zM1046 360h1v1h-1zM1081 360h1v1h-1zM1087 360h1v1h-1zM1149 360h1v1h-1zM1154 360h1v1h-1zM81 115h1v1h-1zM89 115h2v1h-2zM13 183h1v1h-1zM44 183h1v1h-1zM63 183h1v1h-1zM115 183h1v1h-1zM139 183h1v1h-1zM145 183h1v1h-1zM956 183h1v1h-1zM973 183h1v1h-1zM393 331h1v1h-1zM442 331h1v1h-1zM858 331h1v1h-1zM933 331h1v1h-1zM992 331h1v1h-1zM1028 331h1v1h-1zM1042 331h1v1h-1zM77 122h1v1h-1zM94 122h1v1h-1zM1002 444h1v1h-1zM1016 444h1v1h-1zM17 168h1v1h-1zM39 168h1v1h-1zM66 168h1v1h-1zM109 168h1v1h-1zM959 168h1v1h-1zM971 168h1v1h-1zM183 238h1v1h-1zM220 238h1v1h-1zM252 238h1v1h-1zM526 238h1v1h-1zM719 238h1v1h-1zM751 238h1v1h-1zM947 238h1v1h-1zM980 238h1v1h-1zM76 125h1v1h-1zM95 125h1v1h-1zM1001 440h1v1h-1zM1016 440h1v1h-1zM1005 467h1v1h-1zM1012 467h1v1h-1zM1001 433h1v1h-1zM1017 433h1v1h-1zM397 338h1v1h-1zM427 338h1v1h-1zM861 338h1v1h-1zM932 338h1v1h-1zM992 338h1v1h-1zM1026 338h1v1h-1zM1043 338h1v1h-1zM12 185h1v1h-1zM45 185h1v1h-1zM62 185h1v1h-1zM116 185h1v1h-1zM138 185h1v1h-1zM147 185h1v1h-1zM956 185h1v1h-1zM973 185h1v1h-1zM76 124h1v1h-1zM94 124h1v1h-1zM16 172h1v1h-1zM40 172h1v1h-1zM65 172h1v1h-1zM110 172h1v1h-1zM958 172h1v1h-1zM971 172h1v1h-1zM181 232h1v1h-1zM221 232h1v1h-1zM251 232h1v1h-1zM720 232h1v1h-1zM748 232h1v1h-1zM948 232h1v1h-1zM979 232h1v1h-1zM71 144h1v1h-1zM102 144h1v1h-1zM964 144h1v1h-1zM967 144h1v1h-1zM20 162h1v1h-1zM37 162h1v1h-1zM68 162h1v1h-1zM108 162h1v1h-1zM960 162h1v1h-1zM970 162h1v1h-1zM1007 473h1v1h-1zM1011 473h1v1h-1zM13 180h1v1h-1zM43 180h1v1h-1zM63 180h1v1h-1zM114 180h1v1h-1zM141 180h1v1h-1zM143 180h1v1h-1zM957 180h1v1h-1zM972 180h1v1h-1zM1002 443h1v1h-1zM1016 443h1v1h-1zM398 341h1v1h-1zM426 341h1v1h-1zM862 341h1v1h-1zM931 341h1v1h-1zM993 341h1v1h-1zM1026 341h1v1h-1zM1043 341h1v1h-1zM75 127h1v1h-1zM96 127h1v1h-1zM74 131h1v1h-1zM97 131h1v1h-1zM12 187h1v1h-1zM46 187h1v1h-1zM61 187h1v1h-1zM117 187h1v1h-1zM137 187h1v1h-1zM150 187h1v1h-1zM956 187h1v1h-1zM973 187h1v1h-1zM874 373h1v1h-1zM926 373h1v1h-1zM996 373h1v1h-1zM1023 373h1v1h-1zM1048 373h1v1h-1zM1073 373h1v1h-1zM1092 373h1v1h-1zM1144 373h1v1h-1zM1158 373h1v1h-1zM1208 373h1v1h-1zM172 214h1v1h-1zM228 214h1v1h-1zM245 214h1v1h-1zM726 214h1v1h-1zM736 214h2v1h-2zM951 214h1v1h-1zM976 214h1v1h-1zM181 234h1v1h-1zM221 234h1v1h-1zM251 234h1v1h-1zM720 234h1v1h-1zM749 234h1v1h-1zM948 234h1v1h-1zM979 234h1v1h-1zM77 121h1v1h-1zM93 121h1v1h-1zM72 138h1v1h-1zM100 138h1v1h-1zM399 343h1v1h-1zM425 343h1v1h-1zM862 343h1v1h-1zM931 343h1v1h-1zM993 343h1v1h-1zM1026 343h1v1h-1zM1044 343h1v1h-1zM9 197h1v1h-1zM49 197h1v1h-1zM59 197h1v1h-1zM122 197h1v1h-1zM128 197h1v1h-1zM159 197h1v1h-1zM954 197h1v1h-1zM975 197h1v1h-1zM1002 451h1v1h-1zM1015 451h1v1h-1zM71 145h1v1h-1zM102 145h1v1h-1zM964 145h1v1h-1zM967 145h1v1h-1zM73 133h1v1h-1zM98 133h1v1h-1zM1003 453h1v1h-1zM1015 453h1v1h-1zM15 176h1v1h-1zM41 176h1v1h-1zM64 176h1v1h-1zM112 176h1v1h-1zM957 176h1v1h-1zM972 176h1v1h-1zM182 235h1v1h-1zM221 235h1v1h-1zM252 235h1v1h-1zM720 235h1v1h-1zM749 235h1v1h-1zM948 235h1v1h-1zM979 235h1v1h-1zM21 158h1v1h-1zM36 158h1v1h-1zM68 158h1v1h-1zM107 158h1v1h-1zM961 158h1v1h-1zM969 158h1v1h-1zM73 136h1v1h-1zM99 136h1v1h-1zM80 116h1v1h-1zM91 116h1v1h-1zM1005 466h1v1h-1zM1013 466h1v1h-1zM1002 446h1v1h-1zM1016 446h1v1h-1zM1001 430h1v1h-1zM1017 430h1v1h-1zM17 170h1v1h-1zM39 170h1v1h-1zM66 170h1v1h-1zM110 170h1v1h-1zM958 170h1v1h-1zM971 170h1v1h-1zM1008 474h1v1h-1zM1011 474h1v1h-1zM1001 435h1v1h-1zM1017 435h1v1h-1zM75 126h1v1h-1zM95 126h1v1h-1zM1004 458h1v1h-1zM1014 458h1v1h-1zM71 146h1v1h-1zM103 146h1v1h-1zM963 146h1v1h-1zM967 146h1v1h-1zM1002 450h1v1h-1zM1015 450h1v1h-1zM1003 452h1v1h-1zM1015 452h1v1h-1zM79 117h1v1h-1zM91 117h1v1h-1zM73 135h1v1h-1zM99 135h1v1h-1zM1003 455h1v1h-1zM1015 455h1v1h-1zM8 202h1v1h-1zM52 202h1v1h-1zM56 202h1v1h-1zM167 202h1v1h-1zM953 202h1v1h-1zM975 202h1v1h-1zM1002 445h1v1h-1zM1016 445h1v1h-1zM1000 425h1v1h-1zM1018 425h1v1h-1zM75 128h1v1h-1zM96 128h1v1h-1zM1004 460h1v1h-1zM1014 460h1v1h-1zM1003 454h1v1h-1zM1015 454h1v1h-1zM15 174h1v1h-1zM41 174h1v1h-1zM65 174h1v1h-1zM111 174h1v1h-1zM958 174h1v1h-1zM971 174h1v1h-1zM78 118h1v1h-1zM92 118h1v1h-1zM73 137h1v1h-1zM99 137h1v1h-1zM1003 457h1v1h-1zM1014 457h1v1h-1zM1000 427h1v1h-1zM1018 427h1v1h-1zM74 129h1v1h-1zM96 129h1v1h-1zM1001 436h1v1h-1zM1017 436h1v1h-1zM1003 456h1v1h-1zM1015 456h1v1h-1zM84 113h3v1h-3zM1009 475h2v1h-2zM78 119h1v1h-1zM92 119h1v1h-1zM1002 448h1v1h-1zM1015 448h1v1h-1z" fill="#ffa500"/>
</g>
<g clip-path="url(#cm)" shape-rendering="crispEdges">
<rect x="6" y="155" width="1515" height="2" fill="#ff0000"/>
<rect x="6" y="211" width="1515" height="2" fill="#ff0000"/>
<rect x="6" y="265" width="1515" height="2" fill="#ff0000"/>
<rect x="6" y="320" width="1515" height="2" fill="#ff0000"/>
<rect x="6" y="385" width="1515" height="2" fill="#00ff00"/>
<rect x="6" y="446" width="1515" height="2" fill="#0000ff"/>
<rect x="6" y="522" width="1515" height="2" fill="#0000ff"/>
</g>
<g clip-path="url(#cr)">
<g shape-rendering="crispEdges"><line x1="7" y1="561.5" x2="1521" y2="561.5" stroke="#c0c0c0" stroke-dasharray="3,3"/><line x1="7" y1="597.5" x2="1521" y2="597.5" stroke="#c0c0c0" stroke-dasharray="3,3"/></g>
<path d="M37 580h1v1h-1zM46 580h1v1h-1zM55 580h1v1h-1zM99 580h1v1h-1zM136 580h2v1h-2zM140 580h3v1h-3zM213 580h1v1h-1zM242 580h1v1h-1zM278 580h3v1h-3zM345 580h1v1h-1zM355 580h1v1h-1zM362 580h5v1h-5zM418 580h1v1h-1zM439 580h1v1h-1zM529 580h1v1h-1zM568 580h3v1h-3zM588 580h1v1h-1zM620 580h1v1h-1zM687 580h1v1h-1zM692 580h2v1h-2zM748 580h1v1h-1zM763 580h1v1h-1zM768 580h2v1h-2zM771 580h1v1h-1zM780 580h1v1h-1zM830 580h1v1h-1zM836 580h1v1h-1zM920 580h1v1h-1zM970 580h2v1h-2zM976 580h3v1h-3zM984 580h1v1h-1zM1016 580h1v1h-1zM1037 580h1v1h-1zM1065 580h1v1h-1zM1075 580h2v1h-2zM1079 580h1v1h-1zM1086 580h1v1h-1zM1135 580h1v1h-1zM1152 580h1v1h-1zM1166 580h1v1h-1zM1178 580h1v1h-1zM1196 580h1v1h-1zM33 573h1v1h-1zM58 573h1v1h-1zM92 573h1v1h-1zM222 573h1v1h-1zM446 573h2v1h-2zM451 573h1v1h-1zM459 573h1v1h-1zM491 573h1v1h-1zM503 573h1v1h-1zM527 573h1v1h-1zM623 573h2v1h-2zM635 573h1v1h-1zM649 573h1v1h-1zM651 573h2v1h-2zM655 573h1v1h-1zM679 573h2v1h-2zM707 573h1v1h-1zM734 573h5v1h-5zM744 573h1v1h-1zM922 573h1v1h-1zM968 573h1v1h-1zM1023 573h2v1h-2zM1027 573h1v1h-1zM1139 573h1v1h-1zM1147 573h1v1h-1zM1200 573h2v1h-2zM50 585h1v1h-1zM108 585h1v1h-1zM124 585h1v1h-1zM145 585h1v1h-1zM148 585h1v1h-1zM156 585h8v1h-8zM212 585h1v1h-1zM246 585h1v1h-1zM276 585h1v1h-1zM287 585h1v1h-1zM324 585h3v1h-3zM332 585h1v1h-1zM339 585h1v1h-1zM343 585h1v1h-1zM357 585h1v1h-1zM359 585h1v1h-1zM372 585h2v1h-2zM375 585h2v1h-2zM379 585h1v1h-1zM385 585h2v1h-2zM415 585h1v1h-1zM433 585h1v1h-1zM435 585h1v1h-1zM537 585h1v1h-1zM564 585h1v1h-1zM591 585h2v1h-2zM612 585h1v1h-1zM618 585h1v1h-1zM754 585h1v1h-1zM782 585h5v1h-5zM792 585h1v1h-1zM796 585h2v1h-2zM827 585h1v1h-1zM841 585h2v1h-2zM919 585h1v1h-1zM986 585h1v1h-1zM1014 585h1v1h-1zM1042 585h1v1h-1zM1056 585h1v1h-1zM1109 585h3v1h-3zM1124 585h2v1h-2zM1156 585h2v1h-2zM1160 585h3v1h-3zM1186 585h1v1h-1zM34 575h1v1h-1zM57 575h1v1h-1zM93 575h1v1h-1zM220 575h1v1h-1zM224 575h1v1h-1zM229 575h2v1h-2zM443 575h1v1h-1zM454 575h2v1h-2zM493 575h1v1h-1zM499 575h2v1h-2zM528 575h1v1h-1zM622 575h1v1h-1zM636 575h1v1h-1zM647 575h1v1h-1zM683 575h1v1h-1zM706 575h1v1h-1zM745 575h1v1h-1zM921 575h1v1h-1zM969 575h1v1h-1zM1019 575h2v1h-2zM1028 575h1v1h-1zM1137 575h1v1h-1zM1148 575h1v1h-1zM1198 575h1v1h-1zM9 566h1v1h-1zM22 566h2v1h-2zM27 566h1v1h-1zM65 566h1v1h-1zM80 566h1v1h-1zM464 566h1v1h-1zM481 566h2v1h-2zM514 566h1v1h-1zM523 566h1v1h-1zM662 566h1v1h-1zM671 566h1v1h-1zM675 566h1v1h-1zM711 566h1v1h-1zM731 566h1v1h-1zM930 566h1v1h-1zM966 566h1v1h-1zM109 586h1v1h-1zM123 586h1v1h-1zM145 586h1v1h-1zM147 586h1v1h-1zM164 586h3v1h-3zM211 586h1v1h-1zM247 586h1v1h-1zM275 586h1v1h-1zM288 586h2v1h-2zM321 586h3v1h-3zM327 586h2v1h-2zM331 586h1v1h-1zM340 586h1v1h-1zM343 586h1v1h-1zM358 586h2v1h-2zM374 586h1v1h-1zM380 586h2v1h-2zM383 586h2v1h-2zM387 586h1v1h-1zM415 586h1v1h-1zM434 586h1v1h-1zM538 586h1v1h-1zM550 586h1v1h-1zM564 586h1v1h-1zM593 586h2v1h-2zM611 586h1v1h-1zM787 586h2v1h-2zM791 586h1v1h-1zM798 586h1v1h-1zM827 586h1v1h-1zM843 586h1v1h-1zM918 586h1v1h-1zM986 586h1v1h-1zM1012 586h2v1h-2zM1043 586h2v1h-2zM1048 586h4v1h-4zM1055 586h1v1h-1zM1112 586h4v1h-4zM1123 586h1v1h-1zM1158 586h2v1h-2zM38 583h2v1h-2zM43 583h1v1h-1zM48 583h1v1h-1zM52 583h2v1h-2zM107 583h1v1h-1zM125 583h1v1h-1zM144 583h1v1h-1zM150 583h2v1h-2zM212 583h1v1h-1zM244 583h1v1h-1zM276 583h1v1h-1zM284 583h2v1h-2zM333 583h1v1h-1zM335 583h2v1h-2zM344 583h1v1h-1zM356 583h1v1h-1zM360 583h1v1h-1zM370 583h1v1h-1zM416 583h1v1h-1zM432 583h1v1h-1zM436 583h1v1h-1zM535 583h1v1h-1zM565 583h1v1h-1zM589 583h1v1h-1zM613 583h1v1h-1zM615 583h1v1h-1zM619 583h1v1h-1zM751 583h1v1h-1zM756 583h2v1h-2zM781 583h1v1h-1zM794 583h1v1h-1zM828 583h1v1h-1zM838 583h1v1h-1zM919 583h1v1h-1zM985 583h1v1h-1zM1015 583h1v1h-1zM1040 583h1v1h-1zM1057 583h1v1h-1zM1060 583h3v1h-3zM1089 583h1v1h-1zM1091 583h1v1h-1zM1104 583h3v1h-3zM1128 583h3v1h-3zM1154 583h1v1h-1zM1164 583h1v1h-1zM1171 583h2v1h-2zM1175 583h1v1h-1zM1183 583h1v1h-1zM1189 583h6v1h-6zM38 582h1v1h-1zM44 582h1v1h-1zM48 582h1v1h-1zM54 582h1v1h-1zM102 582h2v1h-2zM107 582h1v1h-1zM125 582h1v1h-1zM132 582h3v1h-3zM143 582h1v1h-1zM212 582h1v1h-1zM244 582h1v1h-1zM277 582h1v1h-1zM283 582h1v1h-1zM334 582h1v1h-1zM345 582h1v1h-1zM356 582h1v1h-1zM361 582h1v1h-1zM368 582h2v1h-2zM417 582h1v1h-1zM421 582h3v1h-3zM431 582h1v1h-1zM437 582h1v1h-1zM530 582h5v1h-5zM566 582h1v1h-1zM589 582h1v1h-1zM614 582h1v1h-1zM619 582h1v1h-1zM690 582h1v1h-1zM750 582h1v1h-1zM758 582h2v1h-2zM781 582h1v1h-1zM829 582h1v1h-1zM837 582h1v1h-1zM919 582h1v1h-1zM984 582h1v1h-1zM1015 582h1v1h-1zM1039 582h1v1h-1zM1058 582h2v1h-2zM1063 582h1v1h-1zM1088 582h1v1h-1zM1092 582h2v1h-2zM1096 582h8v1h-8zM1131 582h2v1h-2zM1153 582h1v1h-1zM1164 582h1v1h-1zM1169 582h2v1h-2zM1176 582h1v1h-1zM1181 582h2v1h-2zM1195 582h1v1h-1zM110 588h3v1h-3zM115 588h2v1h-2zM120 588h3v1h-3zM167 588h1v1h-1zM211 588h1v1h-1zM248 588h1v1h-1zM269 588h3v1h-3zM274 588h1v1h-1zM292 588h3v1h-3zM318 588h1v1h-1zM341 588h2v1h-2zM388 588h1v1h-1zM412 588h2v1h-2zM540 588h2v1h-2zM547 588h1v1h-1zM552 588h2v1h-2zM563 588h1v1h-1zM597 588h3v1h-3zM603 588h2v1h-2zM608 588h3v1h-3zM800 588h1v1h-1zM826 588h1v1h-1zM844 588h1v1h-1zM914 588h1v1h-1zM987 588h1v1h-1zM1009 588h2v1h-2zM7 568h1v1h-1zM30 568h1v1h-1zM63 568h1v1h-1zM82 568h2v1h-2zM90 568h1v1h-1zM463 568h1v1h-1zM484 568h1v1h-1zM512 568h1v1h-1zM526 568h1v1h-1zM659 568h1v1h-1zM664 568h2v1h-2zM667 568h2v1h-2zM676 568h1v1h-1zM710 568h1v1h-1zM732 568h1v1h-1zM928 568h1v1h-1zM967 568h1v1h-1zM202 598h1v1h-1zM302 598h6v1h-6zM314 598h1v1h-1zM861 598h3v1h-3zM900 598h1v1h-1zM37 581h1v1h-1zM45 581h1v1h-1zM47 581h1v1h-1zM54 581h1v1h-1zM100 581h2v1h-2zM104 581h3v1h-3zM126 581h6v1h-6zM135 581h1v1h-1zM143 581h1v1h-1zM213 581h1v1h-1zM243 581h1v1h-1zM277 581h1v1h-1zM281 581h2v1h-2zM345 581h1v1h-1zM355 581h1v1h-1zM361 581h1v1h-1zM367 581h1v1h-1zM417 581h1v1h-1zM419 581h2v1h-2zM424 581h7v1h-7zM438 581h1v1h-1zM530 581h1v1h-1zM566 581h2v1h-2zM588 581h1v1h-1zM619 581h1v1h-1zM688 581h2v1h-2zM691 581h1v1h-1zM749 581h1v1h-1zM760 581h3v1h-3zM770 581h1v1h-1zM780 581h1v1h-1zM829 581h1v1h-1zM837 581h1v1h-1zM920 581h1v1h-1zM972 581h4v1h-4zM984 581h1v1h-1zM1016 581h1v1h-1zM1038 581h1v1h-1zM1064 581h1v1h-1zM1077 581h2v1h-2zM1087 581h1v1h-1zM1094 581h2v1h-2zM1133 581h2v1h-2zM1152 581h1v1h-1zM1165 581h1v1h-1zM1167 581h2v1h-2zM1177 581h1v1h-1zM1179 581h2v1h-2zM1195 581h1v1h-1zM171 594h2v1h-2zM175 594h1v1h-1zM180 594h2v1h-2zM184 594h3v1h-3zM200 594h1v1h-1zM204 594h1v1h-1zM300 594h1v1h-1zM316 594h1v1h-1zM405 594h1v1h-1zM407 594h1v1h-1zM806 594h1v1h-1zM813 594h2v1h-2zM823 594h1v1h-1zM852 594h3v1h-3zM901 594h1v1h-1zM909 594h1v1h-1zM911 594h1v1h-1zM992 594h1v1h-1zM1004 594h1v1h-1zM35 577h1v1h-1zM56 577h1v1h-1zM94 577h1v1h-1zM214 577h5v1h-5zM226 577h1v1h-1zM233 577h3v1h-3zM239 577h1v1h-1zM441 577h1v1h-1zM529 577h1v1h-1zM573 577h1v1h-1zM579 577h1v1h-1zM585 577h2v1h-2zM621 577h1v1h-1zM637 577h1v1h-1zM644 577h2v1h-2zM684 577h1v1h-1zM704 577h2v1h-2zM746 577h1v1h-1zM773 577h1v1h-1zM778 577h1v1h-1zM833 577h2v1h-2zM921 577h1v1h-1zM969 577h1v1h-1zM981 577h2v1h-2zM1018 577h1v1h-1zM1030 577h5v1h-5zM1081 577h1v1h-1zM1083 577h1v1h-1zM1136 577h1v1h-1zM1149 577h1v1h-1zM1197 577h1v1h-1zM16 560h3v1h-3zM721 560h2v1h-2zM933 560h1v1h-1zM941 560h1v1h-1zM944 560h2v1h-2zM963 560h1v1h-1zM9 565h1v1h-1zM21 565h1v1h-1zM24 565h3v1h-3zM66 565h2v1h-2zM72 565h4v1h-4zM79 565h1v1h-1zM465 565h1v1h-1zM479 565h2v1h-2zM515 565h2v1h-2zM520 565h3v1h-3zM672 565h2v1h-2zM675 565h1v1h-1zM712 565h2v1h-2zM730 565h1v1h-1zM931 565h1v1h-1zM966 565h1v1h-1zM40 584h3v1h-3zM49 584h1v1h-1zM51 584h1v1h-1zM108 584h1v1h-1zM124 584h1v1h-1zM144 584h1v1h-1zM149 584h1v1h-1zM152 584h4v1h-4zM212 584h1v1h-1zM245 584h1v1h-1zM276 584h1v1h-1zM286 584h1v1h-1zM332 584h1v1h-1zM337 584h2v1h-2zM344 584h1v1h-1zM357 584h1v1h-1zM360 584h1v1h-1zM371 584h1v1h-1zM377 584h2v1h-2zM416 584h1v1h-1zM432 584h1v1h-1zM436 584h1v1h-1zM536 584h1v1h-1zM565 584h1v1h-1zM590 584h1v1h-1zM613 584h1v1h-1zM616 584h3v1h-3zM752 584h2v1h-2zM755 584h1v1h-1zM782 584h1v1h-1zM793 584h1v1h-1zM795 584h1v1h-1zM828 584h1v1h-1zM839 584h2v1h-2zM919 584h1v1h-1zM985 584h1v1h-1zM1014 584h1v1h-1zM1041 584h1v1h-1zM1056 584h1v1h-1zM1090 584h1v1h-1zM1107 584h2v1h-2zM1126 584h2v1h-2zM1155 584h1v1h-1zM1163 584h1v1h-1zM1173 584h2v1h-2zM1184 584h2v1h-2zM1187 584h2v1h-2zM7 569h1v1h-1zM31 569h1v1h-1zM62 569h1v1h-1zM91 569h1v1h-1zM462 569h1v1h-1zM485 569h1v1h-1zM511 569h1v1h-1zM526 569h1v1h-1zM658 569h1v1h-1zM666 569h1v1h-1zM677 569h1v1h-1zM709 569h1v1h-1zM732 569h1v1h-1zM927 569h1v1h-1zM967 569h1v1h-1zM1142 569h1v1h-1zM1206 569h2v1h-2zM10 564h1v1h-1zM21 564h1v1h-1zM68 564h4v1h-4zM76 564h3v1h-3zM466 564h1v1h-1zM478 564h1v1h-1zM517 564h3v1h-3zM674 564h1v1h-1zM714 564h1v1h-1zM728 564h2v1h-2zM931 564h1v1h-1zM965 564h1v1h-1zM110 589h1v1h-1zM117 589h3v1h-3zM168 589h1v1h-1zM206 589h2v1h-2zM210 589h1v1h-1zM249 589h1v1h-1zM257 589h7v1h-7zM267 589h2v1h-2zM272 589h3v1h-3zM295 589h1v1h-1zM318 589h1v1h-1zM342 589h1v1h-1zM389 589h1v1h-1zM411 589h1v1h-1zM542 589h5v1h-5zM554 589h2v1h-2zM562 589h1v1h-1zM605 589h3v1h-3zM800 589h1v1h-1zM825 589h1v1h-1zM845 589h1v1h-1zM913 589h1v1h-1zM988 589h1v1h-1zM1007 589h2v1h-2zM169 592h1v1h-1zM178 592h1v1h-1zM188 592h1v1h-1zM199 592h1v1h-1zM205 592h1v1h-1zM299 592h1v1h-1zM317 592h1v1h-1zM392 592h4v1h-4zM403 592h1v1h-1zM408 592h1v1h-1zM803 592h1v1h-1zM809 592h2v1h-2zM824 592h1v1h-1zM848 592h2v1h-2zM902 592h2v1h-2zM907 592h1v1h-1zM912 592h1v1h-1zM990 592h1v1h-1zM1005 592h1v1h-1zM12 562h2v1h-2zM19 562h1v1h-1zM468 562h2v1h-2zM475 562h1v1h-1zM717 562h2v1h-2zM725 562h2v1h-2zM932 562h1v1h-1zM942 562h1v1h-1zM964 562h1v1h-1zM169 591h1v1h-1zM189 591h1v1h-1zM196 591h3v1h-3zM205 591h1v1h-1zM252 591h3v1h-3zM298 591h1v1h-1zM317 591h1v1h-1zM390 591h2v1h-2zM396 591h7v1h-7zM409 591h1v1h-1zM802 591h1v1h-1zM824 591h1v1h-1zM847 591h1v1h-1zM904 591h3v1h-3zM912 591h1v1h-1zM989 591h1v1h-1zM1005 591h1v1h-1zM36 578h1v1h-1zM56 578h1v1h-1zM94 578h2v1h-2zM214 578h1v1h-1zM240 578h1v1h-1zM346 578h6v1h-6zM440 578h1v1h-1zM529 578h1v1h-1zM572 578h1v1h-1zM580 578h2v1h-2zM583 578h2v1h-2zM587 578h1v1h-1zM621 578h1v1h-1zM638 578h2v1h-2zM643 578h1v1h-1zM685 578h1v1h-1zM703 578h1v1h-1zM746 578h1v1h-1zM766 578h1v1h-1zM772 578h1v1h-1zM779 578h1v1h-1zM831 578h2v1h-2zM835 578h1v1h-1zM920 578h1v1h-1zM969 578h1v1h-1zM980 578h1v1h-1zM983 578h1v1h-1zM1017 578h1v1h-1zM1035 578h1v1h-1zM1068 578h4v1h-4zM1080 578h1v1h-1zM1084 578h1v1h-1zM1136 578h1v1h-1zM1150 578h1v1h-1zM1197 578h1v1h-1zM950 554h5v1h-5zM960 554h1v1h-1zM202 599h1v1h-1zM308 599h7v1h-7zM864 599h4v1h-4zM900 599h1v1h-1zM880 605h8v1h-8zM897 605h1v1h-1zM36 579h1v1h-1zM55 579h1v1h-1zM96 579h3v1h-3zM138 579h2v1h-2zM213 579h1v1h-1zM241 579h1v1h-1zM278 579h1v1h-1zM346 579h1v1h-1zM352 579h3v1h-3zM440 579h1v1h-1zM529 579h1v1h-1zM571 579h1v1h-1zM582 579h1v1h-1zM587 579h1v1h-1zM620 579h1v1h-1zM640 579h3v1h-3zM686 579h1v1h-1zM694 579h9v1h-9zM747 579h1v1h-1zM764 579h2v1h-2zM767 579h1v1h-1zM772 579h1v1h-1zM779 579h1v1h-1zM830 579h1v1h-1zM835 579h1v1h-1zM920 579h1v1h-1zM970 579h1v1h-1zM979 579h1v1h-1zM983 579h1v1h-1zM1017 579h1v1h-1zM1036 579h1v1h-1zM1066 579h2v1h-2zM1072 579h3v1h-3zM1080 579h1v1h-1zM1085 579h1v1h-1zM1135 579h1v1h-1zM1151 579h1v1h-1zM1196 579h1v1h-1zM109 587h1v1h-1zM113 587h2v1h-2zM123 587h1v1h-1zM146 587h1v1h-1zM167 587h1v1h-1zM211 587h1v1h-1zM248 587h1v1h-1zM275 587h1v1h-1zM290 587h2v1h-2zM319 587h2v1h-2zM329 587h2v1h-2zM340 587h1v1h-1zM343 587h1v1h-1zM358 587h1v1h-1zM382 587h1v1h-1zM387 587h1v1h-1zM414 587h1v1h-1zM539 587h1v1h-1zM548 587h2v1h-2zM551 587h1v1h-1zM563 587h1v1h-1zM595 587h2v1h-2zM600 587h3v1h-3zM611 587h1v1h-1zM789 587h2v1h-2zM799 587h1v1h-1zM826 587h1v1h-1zM844 587h1v1h-1zM914 587h5v1h-5zM987 587h1v1h-1zM1011 587h1v1h-1zM1045 587h3v1h-3zM1052 587h3v1h-3zM1116 587h7v1h-7zM936 557h2v1h-2zM939 557h1v1h-1zM948 557h1v1h-1zM961 557h1v1h-1zM6 570h1v1h-1zM31 570h1v1h-1zM61 570h1v1h-1zM91 570h1v1h-1zM461 570h1v1h-1zM486 570h1v1h-1zM508 570h3v1h-3zM527 570h1v1h-1zM657 570h1v1h-1zM677 570h1v1h-1zM709 570h1v1h-1zM733 570h1v1h-1zM742 570h1v1h-1zM924 570h3v1h-3zM967 570h1v1h-1zM1141 570h1v1h-1zM1143 570h2v1h-2zM1204 570h2v1h-2zM1208 570h3v1h-3zM35 576h1v1h-1zM57 576h1v1h-1zM93 576h1v1h-1zM219 576h1v1h-1zM225 576h1v1h-1zM227 576h2v1h-2zM231 576h2v1h-2zM236 576h3v1h-3zM442 576h1v1h-1zM494 576h5v1h-5zM528 576h1v1h-1zM574 576h5v1h-5zM621 576h1v1h-1zM637 576h1v1h-1zM646 576h1v1h-1zM684 576h1v1h-1zM706 576h1v1h-1zM745 576h1v1h-1zM774 576h5v1h-5zM921 576h1v1h-1zM969 576h1v1h-1zM982 576h1v1h-1zM1018 576h1v1h-1zM1029 576h1v1h-1zM1082 576h1v1h-1zM1137 576h1v1h-1zM1149 576h1v1h-1zM1198 576h1v1h-1zM173 595h2v1h-2zM182 595h2v1h-2zM200 595h1v1h-1zM204 595h1v1h-1zM300 595h1v1h-1zM315 595h1v1h-1zM406 595h1v1h-1zM815 595h2v1h-2zM820 595h3v1h-3zM855 595h2v1h-2zM901 595h1v1h-1zM910 595h1v1h-1zM993 595h1v1h-1zM1003 595h1v1h-1zM14 561h2v1h-2zM19 561h1v1h-1zM470 561h5v1h-5zM719 561h2v1h-2zM723 561h2v1h-2zM933 561h1v1h-1zM941 561h1v1h-1zM943 561h1v1h-1zM963 561h1v1h-1zM170 593h1v1h-1zM176 593h2v1h-2zM179 593h1v1h-1zM187 593h1v1h-1zM199 593h1v1h-1zM204 593h1v1h-1zM299 593h1v1h-1zM316 593h1v1h-1zM404 593h1v1h-1zM408 593h1v1h-1zM804 593h2v1h-2zM807 593h2v1h-2zM811 593h2v1h-2zM823 593h1v1h-1zM850 593h2v1h-2zM902 593h1v1h-1zM908 593h1v1h-1zM911 593h1v1h-1zM991 593h1v1h-1zM1004 593h1v1h-1zM34 574h1v1h-1zM58 574h1v1h-1zM93 574h1v1h-1zM221 574h1v1h-1zM223 574h1v1h-1zM444 574h2v1h-2zM452 574h2v1h-2zM456 574h3v1h-3zM492 574h1v1h-1zM501 574h2v1h-2zM528 574h1v1h-1zM622 574h1v1h-1zM636 574h1v1h-1zM648 574h1v1h-1zM653 574h2v1h-2zM681 574h2v1h-2zM707 574h1v1h-1zM744 574h1v1h-1zM921 574h1v1h-1zM968 574h1v1h-1zM1021 574h2v1h-2zM1028 574h1v1h-1zM1138 574h1v1h-1zM1148 574h1v1h-1zM1199 574h1v1h-1zM33 572h1v1h-1zM59 572h1v1h-1zM92 572h1v1h-1zM448 572h3v1h-3zM460 572h1v1h-1zM489 572h2v1h-2zM504 572h2v1h-2zM527 572h1v1h-1zM625 572h3v1h-3zM635 572h1v1h-1zM650 572h1v1h-1zM656 572h1v1h-1zM678 572h1v1h-1zM708 572h1v1h-1zM734 572h1v1h-1zM739 572h1v1h-1zM743 572h1v1h-1zM922 572h1v1h-1zM968 572h1v1h-1zM1025 572h2v1h-2zM1140 572h1v1h-1zM1147 572h1v1h-1zM1202 572h1v1h-1zM955 553h1v1h-1zM959 553h1v1h-1zM891 607h2v1h-2zM895 607h1v1h-1zM168 590h1v1h-1zM190 590h6v1h-6zM206 590h1v1h-1zM208 590h3v1h-3zM250 590h2v1h-2zM255 590h2v1h-2zM264 590h3v1h-3zM296 590h2v1h-2zM317 590h1v1h-1zM389 590h1v1h-1zM410 590h1v1h-1zM556 590h7v1h-7zM801 590h1v1h-1zM825 590h1v1h-1zM846 590h1v1h-1zM913 590h1v1h-1zM989 590h1v1h-1zM1006 590h1v1h-1zM8 567h1v1h-1zM28 567h2v1h-2zM64 567h1v1h-1zM81 567h1v1h-1zM84 567h7v1h-7zM464 567h1v1h-1zM483 567h1v1h-1zM513 567h1v1h-1zM524 567h2v1h-2zM660 567h2v1h-2zM663 567h1v1h-1zM669 567h2v1h-2zM676 567h1v1h-1zM710 567h1v1h-1zM731 567h1v1h-1zM929 567h1v1h-1zM967 567h1v1h-1zM32 571h1v1h-1zM60 571h1v1h-1zM91 571h1v1h-1zM460 571h1v1h-1zM487 571h2v1h-2zM506 571h2v1h-2zM527 571h1v1h-1zM628 571h7v1h-7zM656 571h1v1h-1zM678 571h1v1h-1zM708 571h1v1h-1zM733 571h1v1h-1zM740 571h2v1h-2zM743 571h1v1h-1zM922 571h2v1h-2zM968 571h1v1h-1zM1140 571h1v1h-1zM1145 571h2v1h-2zM1203 571h1v1h-1zM201 596h1v1h-1zM203 596h1v1h-1zM301 596h1v1h-1zM315 596h1v1h-1zM817 596h3v1h-3zM857 596h2v1h-2zM901 596h1v1h-1zM994 596h6v1h-6zM1003 596h1v1h-1zM934 559h1v1h-1zM940 559h1v1h-1zM946 559h1v1h-1zM962 559h1v1h-1zM874 604h6v1h-6zM898 604h1v1h-1zM935 558h1v1h-1zM939 558h1v1h-1zM947 558h1v1h-1zM962 558h1v1h-1zM201 597h1v1h-1zM203 597h1v1h-1zM301 597h1v1h-1zM315 597h1v1h-1zM859 597h2v1h-2zM900 597h1v1h-1zM1000 597h3v1h-3zM11 563h1v1h-1zM20 563h1v1h-1zM467 563h1v1h-1zM476 563h2v1h-2zM715 563h2v1h-2zM727 563h1v1h-1zM932 563h1v1h-1zM965 563h1v1h-1zM871 601h1v1h-1zM899 601h1v1h-1zM938 556h1v1h-1zM948 556h1v1h-1zM961 556h1v1h-1zM949 555h1v1h-1zM960 555h1v1h-1zM873 603h1v1h-1zM898 603h1v1h-1zM868 600h3v1h-3zM899 600h1v1h-1zM888 606h3v1h-3zM896 606h1v1h-1zM872 602h1v1h-1zM899 602h1v1h-1zM893 608h2v1h-2zM958 550h1v1h-1zM956 552h1v1h-1zM959 552h1v1h-1zM957 551h2v1h-2z" fill="#1e90ff"/>
</g>
<g clip-path="url(#cd)" shape-rendering="crispEdges">
<path d="M6,679h1v1h-1z M10,676h1v4h-1z M14,672h1v8h-1z M18,668h1v12h-1z M22,667h1v13h-1z M26,666h1v14h-1z M30,665h1v15h-1z M34,666h1v14h-1z M38,669h1v11h-1z M42,672h1v8h-1z M46,673h1v7h-1z M50,676h1v4h-1z M54,677h1v3h-1z M58,676h1v4h-1z M62,673h1v7h-1z M66,669h1v11h-1z M70,666h1v14h-1z M74,664h1v16h-1z M78,662h1v18h-1z M82,661h1v19h-1z M86,661h1v19h-1z M90,661h1v19h-1z M94,663h1v17h-1z M98,666h1v14h-1z M102,669h1v11h-1z M106,671h1v9h-1z M110,675h1v5h-1z M114,678h1v2h-1z M118,679h1v2h-1z M122,679h1v4h-1z M126,679h1v4h-1z M130,679h1v4h-1z M134,679h1v4h-1z M138,679h1v3h-1z M142,679h1v3h-1z M146,679h1v5h-1z M150,679h1v5h-1z M154,679h1v6h-1z M158,679h1v7h-1z M162,679h1v7h-1z M166,679h1v7h-1z M170,679h1v10h-1z M174,679h1v12h-1z M178,679h1v13h-1z M182,679h1v15h-1z M186,679h1v16h-1z M190,679h1v16h-1z M194,679h1v16h-1z M198,679h1v16h-1z M202,679h1v18h-1z M206,679h1v18h-1z M210,679h1v18h-1z M214,679h1v15h-1z M218,679h1v12h-1z M222,679h1v8h-1z M226,679h1v6h-1z M230,679h1v4h-1z M234,679h1v3h-1z M238,679h1v2h-1z M242,679h1v2h-1z M246,679h1v3h-1z M250,679h1v6h-1z M254,679h1v9h-1z M258,679h1v10h-1z M262,679h1v11h-1z M266,679h1v12h-1z M270,679h1v12h-1z M274,679h1v13h-1z M278,679h1v11h-1z M282,679h1v9h-1z M286,679h1v9h-1z M290,679h1v10h-1z M294,679h1v10h-1z M298,679h1v12h-1z M302,679h1v15h-1z M306,679h1v18h-1z M310,679h1v20h-1z M314,679h1v21h-1z M318,679h1v20h-1z M322,679h1v19h-1z M326,679h1v17h-1z M330,679h1v17h-1z M334,679h1v15h-1z M338,679h1v14h-1z M342,679h1v14h-1z M346,679h1v11h-1z M350,679h1v9h-1z M354,679h1v8h-1z M358,679h1v9h-1z M362,679h1v8h-1z M366,679h1v7h-1z M370,679h1v7h-1z M374,679h1v8h-1z M378,679h1v8h-1z M382,679h1v9h-1z M386,679h1v9h-1z M390,679h1v11h-1z M394,679h1v13h-1z M398,679h1v14h-1z M402,679h1v15h-1z M406,679h1v17h-1z M410,679h1v17h-1z M414,679h1v16h-1z M418,679h1v14h-1z M422,679h1v13h-1z M426,679h1v11h-1z M430,679h1v10h-1z M434,679h1v10h-1z M438,679h1v9h-1z M442,679h1v7h-1z M446,679h1v4h-1z M450,679h1v2h-1z M454,679h1v1h-1z M458,678h1v2h-1z M462,676h1v4h-1z M466,672h1v8h-1z M470,668h1v12h-1z M474,665h1v15h-1z M478,663h1v17h-1z M482,662h1v18h-1z M486,663h1v17h-1z M490,664h1v16h-1z M494,665h1v15h-1z M498,667h1v13h-1z M502,668h1v12h-1z M506,668h1v12h-1z M510,667h1v13h-1z M514,666h1v14h-1z M518,665h1v15h-1z M522,664h1v16h-1z M526,664h1v16h-1z M530,667h1v13h-1z M534,670h1v10h-1z M538,673h1v7h-1z M542,676h1v4h-1z M546,679h1v0h-1z M550,679h1v2h-1z M554,679h1v4h-1z M558,679h1v5h-1z M562,679h1v7h-1z M566,679h1v6h-1z M570,679h1v6h-1z M574,679h1v4h-1z M578,679h1v3h-1z M582,679h1v2h-1z M586,679h1v2h-1z M590,679h1v2h-1z M594,679h1v3h-1z M598,679h1v5h-1z M602,679h1v5h-1z M606,679h1v6h-1z M610,679h1v7h-1z M614,679h1v7h-1z M618,679h1v7h-1z M622,679h1v5h-1z M626,679h1v2h-1z M630,679h1v1h-1z M634,678h1v2h-1z M638,678h1v2h-1z M642,678h1v2h-1z M646,678h1v2h-1z M650,677h1v3h-1z M654,676h1v4h-1z M658,674h1v6h-1z M662,673h1v7h-1z M666,672h1v8h-1z M670,671h1v9h-1z M674,669h1v11h-1z M678,669h1v11h-1z M682,670h1v10h-1z M686,671h1v9h-1z M690,673h1v7h-1z M694,674h1v6h-1z M698,675h1v5h-1z M702,675h1v5h-1z M706,676h1v4h-1z M710,673h1v7h-1z M714,671h1v9h-1z M718,669h1v11h-1z M722,666h1v14h-1z M726,665h1v15h-1z M730,664h1v16h-1z M734,665h1v15h-1z M738,666h1v14h-1z M742,666h1v14h-1z M746,668h1v12h-1z M750,670h1v10h-1z M754,673h1v7h-1z M758,675h1v5h-1z M762,676h1v4h-1z M766,676h1v4h-1z M770,677h1v3h-1z M774,677h1v3h-1z M778,676h1v4h-1z M782,678h1v2h-1z M786,679h1v1h-1z M790,679h1v2h-1z M794,679h1v3h-1z M798,679h1v4h-1z M802,679h1v6h-1z M806,679h1v8h-1z M810,679h1v10h-1z M814,679h1v12h-1z M818,679h1v13h-1z M822,679h1v14h-1z M826,679h1v14h-1z M830,679h1v12h-1z M834,679h1v9h-1z M838,679h1v9h-1z M842,679h1v9h-1z M846,679h1v10h-1z M850,679h1v12h-1z M854,679h1v14h-1z M858,679h1v15h-1z M862,679h1v17h-1z M866,679h1v19h-1z M870,679h1v21h-1z M874,679h1v24h-1z M878,679h1v26h-1z M882,679h1v28h-1z M886,679h1v29h-1z M890,679h1v30h-1z M894,679h1v31h-1z M898,679h1v31h-1z M902,679h1v30h-1z M906,679h1v28h-1z M910,679h1v27h-1z M914,679h1v25h-1z M918,679h1v22h-1z M922,679h1v16h-1z M926,679h1v11h-1z M930,679h1v6h-1z M934,676h1v4h-1z M938,669h1v11h-1z M942,664h1v16h-1z M946,659h1v21h-1z M950,650h1v30h-1z M954,644h1v36h-1z M958,636h1v44h-1z M962,632h1v48h-1z M966,633h1v47h-1z M970,640h1v40h-1z M974,647h1v33h-1z M978,653h1v27h-1z M982,656h1v24h-1z M986,664h1v16h-1z M990,675h1v5h-1z M994,679h1v10h-1z M998,679h1v21h-1z M1002,679h1v31h-1z M1006,679h1v34h-1z M1010,679h1v35h-1z M1014,679h1v34h-1z M1018,679h1v26h-1z M1022,679h1v19h-1z M1026,679h1v10h-1z M1030,679h1v7h-1z M1034,679h1v5h-1z M1038,679h1v6h-1z M1042,679h1v9h-1z M1046,679h1v14h-1z M1050,679h1v17h-1z M1054,679h1v19h-1z M1058,679h1v18h-1z M1062,679h1v18h-1z M1066,679h1v15h-1z M1070,679h1v12h-1z M1074,679h1v10h-1z M1078,679h1v9h-1z M1082,679h1v6h-1z M1086,679h1v6h-1z M1090,679h1v8h-1z M1094,679h1v8h-1z M1098,679h1v9h-1z M1102,679h1v9h-1z M1106,679h1v10h-1z M1110,679h1v11h-1z M1114,679h1v12h-1z M1118,679h1v14h-1z M1122,679h1v15h-1z M1126,679h1v15h-1z M1130,679h1v14h-1z M1134,679h1v12h-1z M1138,679h1v8h-1z M1142,679h1v3h-1z M1146,678h1v2h-1z M1150,678h1v2h-1z M1154,679h1v1h-1z M1158,679h1v4h-1z M1162,679h1v6h-1z M1166,679h1v5h-1z M1170,679h1v6h-1z M1174,679h1v7h-1z M1178,679h1v6h-1z M1182,679h1v6h-1z M1186,679h1v8h-1z M1190,679h1v8h-1z M1194,679h1v9h-1z M1198,679h1v6h-1z M1202,679h1v2h-1z M1206,677h1v3h-1z M1210,673h1v7h-1z" fill="#c0c0c0"/>
</g>
<g clip-path="url(#cd)">
<path d="M192 691h3v1h-3zM306 691h2v1h-2zM360 691h3v1h-3zM404 691h1v1h-1zM440 691h1v1h-1zM860 691h1v1h-1zM1013 691h1v1h-1zM1051 691h3v1h-3zM1057 691h3v1h-3zM1063 691h1v1h-1zM1087 691h1v1h-1zM1129 691h3v1h-3zM1135 691h3v1h-3zM1141 691h2v1h-2zM25 675h2v1h-2zM127 675h1v1h-1zM475 675h2v1h-2zM558 675h1v1h-1zM668 675h1v1h-1zM780 675h3v1h-3zM951 675h1v1h-1zM114 667h1v1h-1zM492 667h1v1h-1zM534 667h3v1h-3zM740 667h1v1h-1zM744 667h3v1h-3zM750 667h3v1h-3zM1000 667h1v1h-1zM199 693h2v1h-2zM224 693h1v1h-1zM312 693h3v1h-3zM354 693h2v1h-2zM414 693h3v1h-3zM428 693h1v1h-1zM432 693h3v1h-3zM870 693h1v1h-1zM937 693h1v1h-1zM1046 693h1v1h-1zM1069 693h3v1h-3zM1075 693h3v1h-3zM1081 693h2v1h-2zM138 680h2v1h-2zM468 680h1v1h-1zM565 680h2v1h-2zM648 680h3v1h-3zM800 680h1v1h-1zM176 687h1v1h-1zM241 687h2v1h-2zM271 687h2v1h-2zM378 687h3v1h-3zM384 687h3v1h-3zM390 687h2v1h-2zM451 687h2v1h-2zM822 687h2v1h-2zM943 687h1v1h-1zM1100 687h2v1h-2zM1105 687h3v1h-3zM1111 687h1v1h-1zM188 690h1v1h-1zM234 690h2v1h-2zM284 690h1v1h-1zM288 690h3v1h-3zM294 690h3v1h-3zM300 690h3v1h-3zM402 690h2v1h-2zM444 690h3v1h-3zM834 690h3v1h-3zM840 690h3v1h-3zM846 690h3v1h-3zM852 690h3v1h-3zM858 690h2v1h-2zM1012 690h1v1h-1zM1088 690h2v1h-2zM1123 690h3v1h-3zM1143 690h1v1h-1zM18 679h1v1h-1zM133 679h2v1h-2zM469 679h2v1h-2zM564 679h1v1h-1zM654 679h2v1h-2zM798 679h2v1h-2zM1006 679h1v1h-1zM96 664h3v1h-3zM102 664h3v1h-3zM958 664h1v1h-1zM186 689h2v1h-2zM236 689h1v1h-1zM276 689h3v1h-3zM282 689h2v1h-2zM366 689h3v1h-3zM396 689h3v1h-3zM828 689h3v1h-3zM941 689h1v1h-1zM1012 689h1v1h-1zM1093 689h3v1h-3zM1117 689h3v1h-3zM1147 689h1v1h-1zM900 707h3v1h-3zM906 707h2v1h-2zM918 707h2v1h-2zM90 666h2v1h-2zM109 666h2v1h-2zM493 666h2v1h-2zM512 666h1v1h-1zM516 666h3v1h-3zM522 666h3v1h-3zM528 666h3v1h-3zM1000 666h1v1h-1zM30 673h1v1h-1zM66 673h2v1h-2zM480 673h1v1h-1zM553 673h2v1h-2zM678 673h2v1h-2zM708 673h3v1h-3zM714 673h3v1h-3zM774 673h2v1h-2zM1003 673h1v1h-1zM6 684h2v1h-2zM156 684h3v1h-3zM162 684h3v1h-3zM248 684h1v1h-1zM252 684h3v1h-3zM258 684h3v1h-3zM618 684h3v1h-3zM624 684h3v1h-3zM630 684h2v1h-2zM1009 684h1v1h-1zM1160 684h2v1h-2zM1184 684h2v1h-2zM1207 684h1v1h-1zM42 669h3v1h-3zM48 669h3v1h-3zM116 669h1v1h-1zM487 669h2v1h-2zM732 669h3v1h-3zM762 669h1v1h-1zM955 669h1v1h-1zM168 685h3v1h-3zM246 685h2v1h-2zM264 685h3v1h-3zM456 685h3v1h-3zM816 685h1v1h-1zM1009 685h1v1h-1zM1159 685h1v1h-1zM1189 685h3v1h-3zM1201 685h3v1h-3zM222 694h2v1h-2zM318 694h2v1h-2zM348 694h3v1h-3zM420 694h3v1h-3zM426 694h2v1h-2zM871 694h2v1h-2zM936 694h1v1h-1zM1045 694h1v1h-1zM174 686h2v1h-2zM270 686h1v1h-1zM817 686h2v1h-2zM1153 686h3v1h-3zM1195 686h3v1h-3zM908 708h1v1h-1zM912 708h3v1h-3zM31 672h2v1h-2zM60 672h3v1h-3zM68 672h1v1h-1zM72 672h3v1h-3zM121 672h2v1h-2zM481 672h2v1h-2zM552 672h1v1h-1zM680 672h1v1h-1zM684 672h3v1h-3zM702 672h3v1h-3zM720 672h3v1h-3zM768 672h3v1h-3zM1003 672h1v1h-1zM19 678h2v1h-2zM132 678h1v1h-1zM656 678h1v1h-1zM792 678h3v1h-3zM1006 678h1v1h-1zM961 658h1v1h-1zM92 665h1v1h-1zM108 665h1v1h-1zM498 665h3v1h-3zM504 665h3v1h-3zM510 665h2v1h-2zM957 665h1v1h-1zM999 665h1v1h-1zM56 671h1v1h-1zM78 671h1v1h-1zM120 671h1v1h-1zM548 671h1v1h-1zM690 671h3v1h-3zM696 671h3v1h-3zM726 671h2v1h-2zM953 671h1v1h-1zM1002 671h1v1h-1zM995 655h1v1h-1zM8 683h1v1h-1zM150 683h3v1h-3zM462 683h1v1h-1zM576 683h3v1h-3zM582 683h3v1h-3zM588 683h3v1h-3zM594 683h3v1h-3zM600 683h3v1h-3zM606 683h3v1h-3zM612 683h3v1h-3zM632 683h1v1h-1zM636 683h3v1h-3zM811 683h2v1h-2zM945 683h1v1h-1zM1008 683h1v1h-1zM1165 683h3v1h-3zM1177 683h3v1h-3zM1183 683h1v1h-1zM1208 683h3v1h-3zM212 696h1v1h-1zM324 696h3v1h-3zM342 696h2v1h-2zM876 696h1v1h-1zM1016 696h1v1h-1zM1039 698h1v1h-1zM204 695h3v1h-3zM210 695h2v1h-2zM216 695h3v1h-3zM320 695h1v1h-1zM344 695h1v1h-1zM936 695h1v1h-1zM1016 695h1v1h-1zM330 697h3v1h-3zM336 697h3v1h-3zM877 697h2v1h-2zM1017 697h1v1h-1zM1040 697h2v1h-2zM36 670h3v1h-3zM54 670h2v1h-2zM79 670h2v1h-2zM486 670h1v1h-1zM546 670h2v1h-2zM728 670h1v1h-1zM763 670h2v1h-2zM954 670h1v1h-1zM998 661h1v1h-1zM84 668h3v1h-3zM115 668h1v1h-1zM540 668h3v1h-3zM738 668h2v1h-2zM756 668h3v1h-3zM970 647h1v1h-1zM988 647h1v1h-1zM12 682h1v1h-1zM144 682h3v1h-3zM463 682h2v1h-2zM572 682h1v1h-1zM642 682h2v1h-2zM810 682h1v1h-1zM946 682h1v1h-1zM1171 682h3v1h-3zM994 654h1v1h-1zM976 644h3v1h-3zM982 644h2v1h-2zM884 700h1v1h-1zM931 700h1v1h-1zM1035 700h1v1h-1zM984 645h1v1h-1zM560 677h1v1h-1zM660 677h3v1h-3zM788 677h1v1h-1zM950 677h1v1h-1zM1005 677h1v1h-1zM198 692h1v1h-1zM228 692h3v1h-3zM308 692h1v1h-1zM356 692h1v1h-1zM408 692h3v1h-3zM438 692h2v1h-2zM864 692h3v1h-3zM1047 692h1v1h-1zM1064 692h2v1h-2zM1083 692h1v1h-1zM1023 703h1v1h-1zM1028 703h2v1h-2zM180 688h3v1h-3zM240 688h1v1h-1zM372 688h3v1h-3zM392 688h1v1h-1zM450 688h1v1h-1zM824 688h1v1h-1zM942 688h1v1h-1zM1099 688h1v1h-1zM1112 688h2v1h-2zM1148 688h2v1h-2zM13 681h2v1h-2zM140 681h1v1h-1zM570 681h2v1h-2zM644 681h1v1h-1zM804 681h3v1h-3zM947 681h1v1h-1zM24 676h1v1h-1zM128 676h1v1h-1zM474 676h1v1h-1zM559 676h1v1h-1zM666 676h2v1h-2zM786 676h2v1h-2zM951 676h1v1h-1zM894 704h1v1h-1zM925 704h2v1h-2zM1027 704h1v1h-1zM126 674h1v1h-1zM672 674h3v1h-3zM776 674h1v1h-1zM959 663h1v1h-1zM895 705h2v1h-2zM924 705h1v1h-1zM882 699h2v1h-2zM932 699h1v1h-1zM971 646h2v1h-2zM889 702h2v1h-2zM1022 702h1v1h-1zM966 651h1v1h-1zM989 648h1v1h-1zM888 701h1v1h-1zM930 701h1v1h-1zM1021 701h1v1h-1zM1033 701h2v1h-2zM962 657h1v1h-1zM965 653h1v1h-1zM993 653h1v1h-1zM965 652h1v1h-1zM920 706h1v1h-1zM990 649h1v1h-1zM997 660h1v1h-1zM961 659h1v1h-1zM997 659h1v1h-1z" fill="#ff0000"/>
</g>
<g shape-rendering="crispEdges" fill="none" stroke="#000">
<rect x="5.5" y="26.5" width="1516" height="505"/>
<rect x="5.5" y="533.5" width="1516" height="92"/>
<rect x="5.5" y="627.5" width="1516" height="92"/>
</g>
<g shape-rendering="crispEdges" fill="#000">
<rect x="1522" y="33" width="2" height="1"/>
<rect x="1522" y="66" width="2" height="1"/>
<rect x="1522" y="99" width="2" height="1"/>
<rect x="1522" y="132" width="2" height="1"/>
<rect x="1522" y="165" width="2" height="1"/>
<rect x="1522" y="198" width="2" height="1"/>
<rect x="1522" y="231" width="2" height="1"/>
<rect x="1522" y="297" width="2" height="1"/>
<rect x="1522" y="330" width="2" height="1"/>
<rect x="1522" y="363" width="2" height="1"/>
<rect x="1522" y="396" width="2" height="1"/>
<rect x="1522" y="429" width="2" height="1"/>
<rect x="1522" y="462" width="2" height="1"/>
<rect x="1522" y="495" width="2" height="1"/>
<rect x="1522" y="528" width="2" height="1"/>
<rect x="1522" y="679" width="2" height="1"/>
<rect x="1522" y="535" width="2" height="1"/>
<rect x="1522" y="624" width="2" height="1"/>
<rect x="1522" y="629" width="2" height="1"/>
<rect x="1522" y="718" width="2" height="1"/>
<rect x="6" y="720" width="1" height="3"/>
<rect x="70" y="720" width="1" height="3"/>
<rect x="134" y="720" width="1" height="3"/>
<rect x="198" y="720" width="1" height="3"/>
<rect x="262" y="720" width="1" height="3"/>
<rect x="326" y="720" width="1" height="3"/>
<rect x="390" y="720" width="1" height="3"/>
<rect x="454" y="720" width="1" height="3"/>
<rect x="518" y="720" width="1" height="3"/>
<rect x="582" y="720" width="1" height="3"/>
<rect x="646" y="720" width="1" height="3"/>
<rect x="710" y="720" width="1" height="3"/>
<rect x="774" y="720" width="1" height="3"/>
<rect x="838" y="720" width="1" height="3"/>
<rect x="902" y="720" width="1" height="3"/>
<rect x="966" y="720" width="1" height="3"/>
<rect x="1030" y="720" width="1" height="3"/>
<rect x="1094" y="720" width="1" height="3"/>
<rect x="1158" y="720" width="1" height="3"/>
</g>
<rect x="1523" y="150" width="40" height="11" fill="#ff0000" shape-rendering="crispEdges"/>
<rect x="1523" y="206" width="40" height="11" fill="#ff0000" shape-rendering="crispEdges"/>
<rect x="1523" y="260" width="40" height="11" fill="#ff0000" shape-rendering="crispEdges"/>
<rect x="1523" y="315" width="40" height="11" fill="#ff0000" shape-rendering="crispEdges"/>
<rect x="1523" y="332" width="40" height="11" fill="#000000" shape-rendering="crispEdges"/>
<rect x="1523" y="380" width="40" height="11" fill="#00ff00" shape-rendering="crispEdges"/>
<rect x="1523" y="441" width="40" height="11" fill="#0000ff" shape-rendering="crispEdges"/>
<rect x="1523" y="517" width="40" height="11" fill="#0000ff" shape-rendering="crispEdges"/>
<path d="M1212,27h9l-4.5,4.5z" fill="#a0a0a0"/>
<path d="M9,33h8l-4,4.5z" fill="#000"/>
</svg>
<div class="t s" style="left:1526.88px;top:30px;color:#000;font-size:10px;transform:scaleX(0.92);">1.15280</div><div class="t s" style="left:1526.88px;top:63px;color:#000;font-size:10px;transform:scaleX(0.92);">1.14680</div><div class="t s" style="left:1526.88px;top:96px;color:#000;font-size:10px;transform:scaleX(0.92);">1.14065</div><div class="t s" style="left:1526.88px;top:129px;color:#000;font-size:10px;transform:scaleX(0.92);">1.13465</div><div class="t s" style="left:1526.88px;top:162px;color:#000;font-size:10px;transform:scaleX(0.92);">1.12865</div><div class="t s" style="left:1526.88px;top:195px;color:#000;font-size:10px;transform:scaleX(0.92);">1.12250</div><div class="t s" style="left:1526.88px;top:228px;color:#000;font-size:10px;transform:scaleX(0.92);">1.11650</div><div class="t s" style="left:1526.88px;top:294px;color:#000;font-size:10px;transform:scaleX(0.92);">1.10435</div><div class="t s" style="left:1526.88px;top:327px;color:#000;font-size:10px;transform:scaleX(0.92);">1.09835</div><div class="t s" style="left:1526.88px;top:360px;color:#000;font-size:10px;transform:scaleX(0.92);">1.09235</div><div class="t s" style="left:1526.88px;top:393px;color:#000;font-size:10px;transform:scaleX(0.92);">1.08620</div><div class="t s" style="left:1526.88px;top:426px;color:#000;font-size:10px;transform:scaleX(0.92);">1.08020</div><div class="t s" style="left:1526.88px;top:459px;color:#000;font-size:10px;transform:scaleX(0.92);">1.07420</div><div class="t s" style="left:1526.88px;top:492px;color:#000;font-size:10px;transform:scaleX(0.92);">1.06805</div><div class="t s" style="left:1526.88px;top:525px;color:#000;font-size:10px;transform:scaleX(0.92);">1.06205</div><div class="t" style="left:1526.88px;top:152px;color:#fff;font-size:10px;transform:scaleX(0.92);">1.13034</div><div class="t" style="left:1526.88px;top:208px;color:#fff;font-size:10px;transform:scaleX(0.92);">1.12004</div><div class="t" style="left:1526.88px;top:262px;color:#fff;font-size:10px;transform:scaleX(0.92);">1.11009</div><div class="t" style="left:1526.88px;top:317px;color:#fff;font-size:10px;transform:scaleX(0.92);">1.10008</div><div class="t" style="left:1526.88px;top:334px;color:#fff;font-size:10px;transform:scaleX(0.92);">1.09714</div><div class="t" style="left:1526.88px;top:382px;color:#fff;font-size:10px;transform:scaleX(0.92);">1.08800</div><div class="t" style="left:1526.88px;top:443px;color:#fff;font-size:10px;transform:scaleX(0.92);">1.07697</div><div class="t" style="left:1526.88px;top:519px;color:#fff;font-size:10px;transform:scaleX(0.92);">1.06306</div><div class="t s" style="left:1524.68px;top:537px;color:#000;font-size:10px;transform:scaleX(0.92);">100</div><div class="t s" style="left:1525.60px;top:558px;color:#000;font-size:10px;transform:scaleX(0.92);">70</div><div class="t s" style="left:1525.60px;top:595px;color:#000;font-size:10px;transform:scaleX(0.92);">30</div><div class="t s" style="left:1525.60px;top:615px;color:#000;font-size:10px;transform:scaleX(0.92);">0</div><div class="t s" style="left:1525.00px;top:632px;color:#000;font-size:10px;transform:scaleX(0.92);">0.011277</div><div class="t s" style="left:1525.00px;top:676px;color:#000;font-size:10px;transform:scaleX(0.92);">0.00</div><div class="t s" style="left:1525.00px;top:709px;color:#000;font-size:10px;transform:scaleX(0.92);">-0.008845</div><div class="t s" style="left:5.00px;top:725px;color:#000;font-size:10px;transform:scaleX(0.916);">5 Jun 2019</div><div class="t s" style="left:69.00px;top:725px;color:#000;font-size:10px;transform:scaleX(0.905);">24 Jun 2019</div><div class="t s" style="left:132.09px;top:725px;color:#000;font-size:10px;transform:scaleX(0.914);">12 Jul 2019</div><div class="t s" style="left:197.00px;top:725px;color:#000;font-size:10px;transform:scaleX(0.9);">31 Jul 2019</div><div class="t s" style="left:260.04px;top:725px;color:#000;font-size:10px;transform:scaleX(0.958);">19 Aug 2019</div><div class="t s" style="left:325.00px;top:725px;color:#000;font-size:10px;transform:scaleX(0.914);">6 Sep 2019</div><div class="t s" style="left:389.00px;top:725px;color:#000;font-size:10px;transform:scaleX(0.909);">25 Sep 2019</div><div class="t s" style="left:452.04px;top:725px;color:#000;font-size:10px;transform:scaleX(0.962);">14 Oct 2019</div><div class="t s" style="left:516.04px;top:725px;color:#000;font-size:10px;transform:scaleX(0.962);">1 Nov 2019</div><div class="t s" style="left:581.00px;top:725px;color:#000;font-size:10px;transform:scaleX(0.942);">20 Nov 2019</div><div class="t s" style="left:645.00px;top:725px;color:#000;font-size:10px;transform:scaleX(0.918);">9 Dec 2019</div><div class="t s" style="left:709.00px;top:725px;color:#000;font-size:10px;transform:scaleX(0.905);">27 Dec 2019</div><div class="t s" style="left:772.08px;top:725px;color:#000;font-size:10px;transform:scaleX(0.919);">15 Jan 2020</div><div class="t s" style="left:837.00px;top:725px;color:#000;font-size:10px;transform:scaleX(0.91);">3 Feb 2020</div><div class="t s" style="left:901.00px;top:725px;color:#000;font-size:10px;transform:scaleX(0.929);">21 Feb 2020</div><div class="t s" style="left:964.04px;top:725px;color:#000;font-size:10px;transform:scaleX(0.963);">11 Mar 2020</div><div class="t s" style="left:1029.00px;top:725px;color:#000;font-size:10px;transform:scaleX(0.921);">30 Mar 2020</div><div class="t s" style="left:1092.04px;top:725px;color:#000;font-size:10px;transform:scaleX(0.957);">17 Apr 2020</div><div class="t s" style="left:1157.00px;top:725px;color:#000;font-size:10px;transform:scaleX(0.954);">6 May 2020</div><div class="t s" style="left:20.55px;top:31px;color:#000;font-size:10px;transform:scaleX(0.955);">EURUSD,Daily</div><div class="t s" style="left:90.57px;top:31px;color:#000;font-size:10px;transform:scaleX(0.93);">1.09786</div><div class="t s" style="left:126.67px;top:31px;color:#000;font-size:10px;transform:scaleX(0.93);">1.09913</div><div class="t s" style="left:162.77px;top:31px;color:#000;font-size:10px;transform:scaleX(0.93);">1.09693</div><div class="t s" style="left:198.87px;top:31px;color:#000;font-size:10px;transform:scaleX(0.93);">1.09714</div><div class="t s" style="left:9.16px;top:539px;color:#000;font-size:10px;transform:scaleX(0.939);">RSI(14) 60.2096</div><div class="t s" style="left:9.66px;top:633px;color:#000;font-size:10px;transform:scaleX(0.938);">MACD(12,26,9) 0.001242 -0.000932</div><div class="t s" style="left:-5.47px;top:7px;color:#404040;font-size:10px;transform:scaleX(0.97);">M5</div><div class="t s" style="left:21.94px;top:7px;color:#404040;font-size:10px;transform:scaleX(0.96);">M15</div><div class="t s" style="left:49.72px;top:7px;color:#404040;font-size:10px;transform:scaleX(0.98);">M30</div><div class="t s" style="left:80.40px;top:7px;color:#404040;font-size:10px;transform:scaleX(1.0);">H1</div><div class="t s" style="left:107.60px;top:7px;color:#404040;font-size:10px;transform:scaleX(1.0);">H4</div><div class="t s" style="left:136.50px;top:7px;color:#404040;font-size:10px;transform:scaleX(1.0);">D1</div><div class="t s" style="left:165.00px;top:7px;color:#404040;font-size:10px;transform:scaleX(1.0);">W1</div><div class="t s" style="left:190.03px;top:7px;color:#404040;font-size:10px;transform:scaleX(0.97);">MN</div><div class="t" style="left:18.20px;top:747px;color:#000;font-size:12px;transform:scaleX(0.997);">EURUSD,Daily</div><div class="t" style="left:120.39px;top:747px;color:#555;font-size:12px;transform:scaleX(1.01);">USDCHF,Daily</div><div class="t" style="left:221.60px;top:747px;color:#555;font-size:12px;transform:scaleX(1.016);">AUDUSD,Daily</div><div class="t" style="left:325.29px;top:747px;color:#555;font-size:12px;transform:scaleX(1.006);">USDCAD,Daily</div><div class="t" style="left:428.98px;top:747px;color:#555;font-size:12px;transform:scaleX(1.024);">USDCNH,Daily</div><div class="t" style="left:533.70px;top:747px;color:#555;font-size:12px;transform:scaleX(1.0);">EURUSD,Daily</div><div class="t" style="left:639.00px;top:747px;color:#555;font-size:12px;transform:scaleX(0.986);">GBPUSD,Daily</div><div class="t" style="left:742.80px;top:747px;color:#555;font-size:12px;transform:scaleX(1.058);">XAUUSD,Monthly</div><div class="t" style="left:865.25px;top:747px;color:#555;font-size:12px;transform:scaleX(1.047);">HK50,H1</div><div class="t" style="left:937.46px;top:747px;color:#555;font-size:12px;transform:scaleX(1.041);">UK100,H1</div><div class="t" style="left:1017.26px;top:747px;color:#555;font-size:12px;transform:scaleX(1.041);">UK100,H1</div><div class="t" style="left:1098.00px;top:747px;color:#555;font-size:12px;transform:scaleX(0.974);">GER30,H1</div><div class="t" style="left:1176.01px;top:747px;color:#555;font-size:12px;transform:scaleX(0.993);">FRA40,H1</div><div class="t" style="left:1252.37px;top:747px;color:#555;font-size:12px;transform:scaleX(1.035);">USOil,Daily</div><div class="t" style="left:1336.62px;top:747px;color:#555;font-size:12px;transform:scaleX(0.979);">USDJPY,H1</div><div class="t" style="left:1420.38px;top:747px;color:#555;font-size:12px;transform:scaleX(1.025);">DJ30,Daily</div>
</body></html>
